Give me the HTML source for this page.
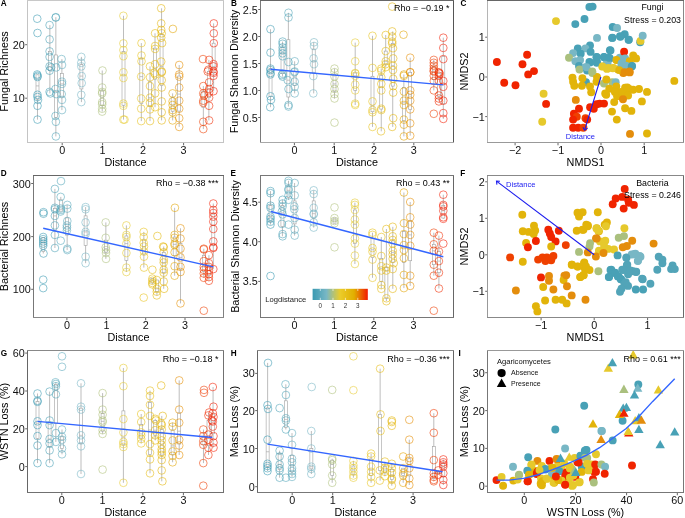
<!DOCTYPE html>
<html><head><meta charset="utf-8"><style>
html,body{margin:0;padding:0;background:#fff;width:685px;height:518px;overflow:hidden}
svg{display:block;font-family:"Liberation Sans", sans-serif;will-change:transform}
</style></head><body>
<svg width="685" height="518" viewBox="0 0 685 518">
<rect width="685" height="518" fill="#fff"/>
<text x="0.70" y="6.40" font-size="8.2" text-anchor="start" font-weight="bold" fill="#000">A</text>
<line x1="62.2" y1="143.0" x2="62.2" y2="145.3" stroke="#555" stroke-width="0.9"/>
<text x="62.20" y="154.10" font-size="10.8" text-anchor="middle" font-weight="normal" fill="#111">0</text>
<line x1="102.6" y1="143.0" x2="102.6" y2="145.3" stroke="#555" stroke-width="0.9"/>
<text x="102.60" y="154.10" font-size="10.8" text-anchor="middle" font-weight="normal" fill="#111">1</text>
<line x1="143.1" y1="143.0" x2="143.1" y2="145.3" stroke="#555" stroke-width="0.9"/>
<text x="143.10" y="154.10" font-size="10.8" text-anchor="middle" font-weight="normal" fill="#111">2</text>
<line x1="183.6" y1="143.0" x2="183.6" y2="145.3" stroke="#555" stroke-width="0.9"/>
<text x="183.60" y="154.10" font-size="10.8" text-anchor="middle" font-weight="normal" fill="#111">3</text>
<line x1="25.2" y1="44.7" x2="27.0" y2="44.7" stroke="#555" stroke-width="0.9"/>
<text x="24.70" y="48.70" font-size="10.8" text-anchor="end" font-weight="normal" fill="#111">20</text>
<line x1="25.2" y1="98.2" x2="27.0" y2="98.2" stroke="#555" stroke-width="0.9"/>
<text x="24.70" y="102.20" font-size="10.8" text-anchor="end" font-weight="normal" fill="#111">10</text>
<text x="125.50" y="165.70" font-size="10.8" text-anchor="middle" font-weight="normal" fill="#000">Distance</text>
<text x="8.10" y="71.50" font-size="10.8" text-anchor="middle" font-weight="normal" fill="#000" transform="rotate(-90 8.10 71.50)">Fungal Richness</text>
<svg x="27.5" y="0.5" width="196.0" height="142.0" viewBox="27.5 0.5 196.0 142.0" overflow="hidden">
<line x1="37.49" y1="74.50" x2="37.49" y2="74.83" stroke="#a0a0a0" stroke-width="0.7"/>
<line x1="37.49" y1="99.18" x2="37.49" y2="119.60" stroke="#a0a0a0" stroke-width="0.7"/>
<rect x="35.99" y="74.83" width="3.00" height="24.35" fill="none" stroke="#a0a0a0" stroke-width="0.6"/>
<line x1="35.99" y1="85.90" x2="38.99" y2="85.90" stroke="#a0a0a0" stroke-width="0.6"/>
<line x1="49.86" y1="25.10" x2="49.86" y2="51.40" stroke="#a0a0a0" stroke-width="0.7"/>
<line x1="49.86" y1="70.70" x2="49.86" y2="93.40" stroke="#a0a0a0" stroke-width="0.7"/>
<rect x="48.36" y="51.40" width="3.00" height="19.30" fill="none" stroke="#a0a0a0" stroke-width="0.6"/>
<line x1="48.36" y1="66.40" x2="51.36" y2="66.40" stroke="#a0a0a0" stroke-width="0.6"/>
<line x1="55.85" y1="17.20" x2="55.85" y2="54.95" stroke="#a0a0a0" stroke-width="0.7"/>
<line x1="55.85" y1="117.45" x2="55.85" y2="136.40" stroke="#a0a0a0" stroke-width="0.7"/>
<rect x="54.35" y="54.95" width="3.00" height="62.50" fill="none" stroke="#a0a0a0" stroke-width="0.6"/>
<line x1="54.35" y1="91.55" x2="57.35" y2="91.55" stroke="#a0a0a0" stroke-width="0.6"/>
<line x1="61.90" y1="59.10" x2="61.90" y2="73.35" stroke="#a0a0a0" stroke-width="0.7"/>
<line x1="61.90" y1="97.00" x2="61.90" y2="110.10" stroke="#a0a0a0" stroke-width="0.7"/>
<rect x="60.40" y="73.35" width="3.00" height="23.65" fill="none" stroke="#a0a0a0" stroke-width="0.6"/>
<line x1="60.40" y1="83.90" x2="63.40" y2="83.90" stroke="#a0a0a0" stroke-width="0.6"/>
<line x1="81.41" y1="56.90" x2="81.41" y2="64.60" stroke="#a0a0a0" stroke-width="0.7"/>
<line x1="81.41" y1="88.95" x2="81.41" y2="102.10" stroke="#a0a0a0" stroke-width="0.7"/>
<rect x="79.91" y="64.60" width="3.00" height="24.35" fill="none" stroke="#a0a0a0" stroke-width="0.6"/>
<line x1="79.91" y1="76.10" x2="82.91" y2="76.10" stroke="#a0a0a0" stroke-width="0.6"/>
<line x1="102.24" y1="70.50" x2="102.24" y2="90.80" stroke="#a0a0a0" stroke-width="0.7"/>
<line x1="102.24" y1="105.40" x2="102.24" y2="111.60" stroke="#a0a0a0" stroke-width="0.7"/>
<rect x="100.74" y="90.80" width="3.00" height="14.60" fill="none" stroke="#a0a0a0" stroke-width="0.6"/>
<line x1="100.74" y1="97.75" x2="103.74" y2="97.75" stroke="#a0a0a0" stroke-width="0.6"/>
<line x1="123.51" y1="15.80" x2="123.51" y2="51.62" stroke="#a0a0a0" stroke-width="0.7"/>
<line x1="123.51" y1="105.25" x2="123.51" y2="119.60" stroke="#a0a0a0" stroke-width="0.7"/>
<rect x="122.01" y="51.62" width="3.00" height="53.62" fill="none" stroke="#a0a0a0" stroke-width="0.6"/>
<line x1="122.01" y1="75.15" x2="125.01" y2="75.15" stroke="#a0a0a0" stroke-width="0.6"/>
<line x1="141.33" y1="43.10" x2="141.33" y2="58.40" stroke="#a0a0a0" stroke-width="0.7"/>
<line x1="141.33" y1="103.60" x2="141.33" y2="121.10" stroke="#a0a0a0" stroke-width="0.7"/>
<rect x="139.83" y="58.40" width="3.00" height="45.20" fill="none" stroke="#a0a0a0" stroke-width="0.6"/>
<line x1="139.83" y1="76.60" x2="142.83" y2="76.60" stroke="#a0a0a0" stroke-width="0.6"/>
<line x1="150.00" y1="66.40" x2="150.00" y2="81.70" stroke="#a0a0a0" stroke-width="0.7"/>
<line x1="150.00" y1="106.10" x2="150.00" y2="121.10" stroke="#a0a0a0" stroke-width="0.7"/>
<rect x="148.50" y="81.70" width="3.00" height="24.40" fill="none" stroke="#a0a0a0" stroke-width="0.6"/>
<line x1="148.50" y1="97.70" x2="151.50" y2="97.70" stroke="#a0a0a0" stroke-width="0.6"/>
<line x1="155.01" y1="33.30" x2="155.01" y2="48.17" stroke="#a0a0a0" stroke-width="0.7"/>
<line x1="155.01" y1="79.15" x2="155.01" y2="107.20" stroke="#a0a0a0" stroke-width="0.7"/>
<rect x="153.51" y="48.17" width="3.00" height="30.98" fill="none" stroke="#a0a0a0" stroke-width="0.6"/>
<line x1="153.51" y1="68.60" x2="156.51" y2="68.60" stroke="#a0a0a0" stroke-width="0.6"/>
<line x1="161.55" y1="8.30" x2="161.55" y2="34.40" stroke="#a0a0a0" stroke-width="0.7"/>
<line x1="161.55" y1="85.67" x2="161.55" y2="120.40" stroke="#a0a0a0" stroke-width="0.7"/>
<rect x="160.05" y="34.40" width="3.00" height="51.27" fill="none" stroke="#a0a0a0" stroke-width="0.6"/>
<line x1="160.05" y1="66.55" x2="163.05" y2="66.55" stroke="#a0a0a0" stroke-width="0.6"/>
<line x1="172.64" y1="93.40" x2="172.64" y2="97.40" stroke="#a0a0a0" stroke-width="0.7"/>
<line x1="172.64" y1="111.20" x2="172.64" y2="120.40" stroke="#a0a0a0" stroke-width="0.7"/>
<rect x="171.14" y="97.40" width="3.00" height="13.80" fill="none" stroke="#a0a0a0" stroke-width="0.6"/>
<line x1="171.14" y1="105.00" x2="174.14" y2="105.00" stroke="#a0a0a0" stroke-width="0.6"/>
<line x1="179.20" y1="65.00" x2="179.20" y2="76.07" stroke="#a0a0a0" stroke-width="0.7"/>
<line x1="179.20" y1="111.08" x2="179.20" y2="126.90" stroke="#a0a0a0" stroke-width="0.7"/>
<rect x="177.70" y="76.07" width="3.00" height="35.00" fill="none" stroke="#a0a0a0" stroke-width="0.6"/>
<line x1="177.70" y1="94.10" x2="180.70" y2="94.10" stroke="#a0a0a0" stroke-width="0.6"/>
<line x1="203.35" y1="86.10" x2="203.35" y2="91.58" stroke="#a0a0a0" stroke-width="0.7"/>
<line x1="203.35" y1="107.55" x2="203.35" y2="129.10" stroke="#a0a0a0" stroke-width="0.7"/>
<rect x="201.85" y="91.58" width="3.00" height="15.97" fill="none" stroke="#a0a0a0" stroke-width="0.6"/>
<line x1="201.85" y1="98.10" x2="204.85" y2="98.10" stroke="#a0a0a0" stroke-width="0.6"/>
<line x1="208.87" y1="59.90" x2="208.87" y2="71.50" stroke="#a0a0a0" stroke-width="0.7"/>
<line x1="208.87" y1="97.70" x2="208.87" y2="120.40" stroke="#a0a0a0" stroke-width="0.7"/>
<rect x="207.37" y="71.50" width="3.00" height="26.20" fill="none" stroke="#a0a0a0" stroke-width="0.6"/>
<line x1="207.37" y1="89.00" x2="210.37" y2="89.00" stroke="#a0a0a0" stroke-width="0.6"/>
<line x1="213.60" y1="23.40" x2="213.60" y2="43.20" stroke="#a0a0a0" stroke-width="0.7"/>
<line x1="213.60" y1="72.90" x2="213.60" y2="91.20" stroke="#a0a0a0" stroke-width="0.7"/>
<rect x="212.10" y="43.20" width="3.00" height="29.70" fill="none" stroke="#a0a0a0" stroke-width="0.6"/>
<line x1="212.10" y1="66.40" x2="215.10" y2="66.40" stroke="#a0a0a0" stroke-width="0.6"/>
<circle cx="37.20" cy="18.70" r="3.85" fill="none" stroke="#3b9ab2" stroke-width="0.58"/>
<circle cx="37.50" cy="33.00" r="3.85" fill="none" stroke="#3b9ab2" stroke-width="0.58"/>
<circle cx="49.60" cy="25.10" r="3.85" fill="none" stroke="#4ca2b7" stroke-width="0.58"/>
<circle cx="49.60" cy="39.40" r="3.85" fill="none" stroke="#4ca2b7" stroke-width="0.58"/>
<circle cx="49.60" cy="51.40" r="3.85" fill="none" stroke="#4ca2b7" stroke-width="0.58"/>
<circle cx="49.60" cy="56.90" r="3.85" fill="none" stroke="#4ca2b7" stroke-width="0.58"/>
<circle cx="49.60" cy="66.40" r="3.85" fill="none" stroke="#4ca2b7" stroke-width="0.58"/>
<circle cx="51.10" cy="67.40" r="3.85" fill="none" stroke="#4ea3b8" stroke-width="0.58"/>
<circle cx="55.80" cy="17.20" r="3.85" fill="none" stroke="#54a6ba" stroke-width="0.58"/>
<circle cx="55.80" cy="17.60" r="3.85" fill="none" stroke="#54a6ba" stroke-width="0.58"/>
<circle cx="61.60" cy="59.10" r="3.85" fill="none" stroke="#5caabc" stroke-width="0.58"/>
<circle cx="62.00" cy="65.00" r="3.85" fill="none" stroke="#5daabd" stroke-width="0.58"/>
<circle cx="56.20" cy="67.40" r="3.85" fill="none" stroke="#55a6ba" stroke-width="0.58"/>
<circle cx="81.30" cy="56.90" r="3.85" fill="none" stroke="#78b7c5" stroke-width="0.58"/>
<circle cx="81.30" cy="62.80" r="3.85" fill="none" stroke="#78b7c5" stroke-width="0.58"/>
<circle cx="81.30" cy="66.40" r="3.85" fill="none" stroke="#78b7c5" stroke-width="0.58"/>
<circle cx="102.50" cy="70.50" r="3.85" fill="none" stroke="#aec17c" stroke-width="0.58"/>
<circle cx="123.40" cy="15.80" r="3.85" fill="none" stroke="#e5cb32" stroke-width="0.58"/>
<circle cx="123.40" cy="43.40" r="3.85" fill="none" stroke="#e5cb32" stroke-width="0.58"/>
<circle cx="123.40" cy="50.10" r="3.85" fill="none" stroke="#e5cb32" stroke-width="0.58"/>
<circle cx="123.40" cy="56.20" r="3.85" fill="none" stroke="#e5cb32" stroke-width="0.58"/>
<circle cx="123.40" cy="72.30" r="3.85" fill="none" stroke="#e5cb32" stroke-width="0.58"/>
<circle cx="37.20" cy="74.50" r="3.85" fill="none" stroke="#3b9ab2" stroke-width="0.58"/>
<circle cx="161.20" cy="8.30" r="3.85" fill="none" stroke="#e3b508" stroke-width="0.58"/>
<circle cx="161.20" cy="23.40" r="3.85" fill="none" stroke="#e3b508" stroke-width="0.58"/>
<circle cx="161.20" cy="29.90" r="3.85" fill="none" stroke="#e3b508" stroke-width="0.58"/>
<circle cx="161.70" cy="33.30" r="3.85" fill="none" stroke="#e3b408" stroke-width="0.58"/>
<circle cx="161.20" cy="37.70" r="3.85" fill="none" stroke="#e3b508" stroke-width="0.58"/>
<circle cx="162.10" cy="43.10" r="3.85" fill="none" stroke="#e3b407" stroke-width="0.58"/>
<circle cx="161.20" cy="61.60" r="3.85" fill="none" stroke="#e3b508" stroke-width="0.58"/>
<circle cx="161.70" cy="71.50" r="3.85" fill="none" stroke="#e3b408" stroke-width="0.58"/>
<circle cx="172.90" cy="28.90" r="3.85" fill="none" stroke="#e2a500" stroke-width="0.58"/>
<circle cx="155.10" cy="33.30" r="3.85" fill="none" stroke="#e4b90e" stroke-width="0.58"/>
<circle cx="155.10" cy="46.00" r="3.85" fill="none" stroke="#e4b90e" stroke-width="0.58"/>
<circle cx="155.10" cy="48.90" r="3.85" fill="none" stroke="#e4b90e" stroke-width="0.58"/>
<circle cx="155.10" cy="64.20" r="3.85" fill="none" stroke="#e4b90e" stroke-width="0.58"/>
<circle cx="150.00" cy="66.40" r="3.85" fill="none" stroke="#e5bc13" stroke-width="0.58"/>
<circle cx="154.40" cy="73.00" r="3.85" fill="none" stroke="#e5b90f" stroke-width="0.58"/>
<circle cx="141.50" cy="43.10" r="3.85" fill="none" stroke="#e7c21b" stroke-width="0.58"/>
<circle cx="141.50" cy="55.50" r="3.85" fill="none" stroke="#e7c21b" stroke-width="0.58"/>
<circle cx="141.50" cy="61.30" r="3.85" fill="none" stroke="#e7c21b" stroke-width="0.58"/>
<circle cx="179.20" cy="65.00" r="3.85" fill="none" stroke="#e58f00" stroke-width="0.58"/>
<circle cx="179.20" cy="74.50" r="3.85" fill="none" stroke="#e58f00" stroke-width="0.58"/>
<circle cx="213.80" cy="23.40" r="3.85" fill="none" stroke="#f21b00" stroke-width="0.58"/>
<circle cx="213.80" cy="33.30" r="3.85" fill="none" stroke="#f21b00" stroke-width="0.58"/>
<circle cx="213.80" cy="43.20" r="3.85" fill="none" stroke="#f21b00" stroke-width="0.58"/>
<circle cx="203.00" cy="59.10" r="3.85" fill="none" stroke="#ee3f00" stroke-width="0.58"/>
<circle cx="209.10" cy="59.90" r="3.85" fill="none" stroke="#f02a00" stroke-width="0.58"/>
<circle cx="213.50" cy="64.20" r="3.85" fill="none" stroke="#f21c00" stroke-width="0.58"/>
<circle cx="213.50" cy="66.40" r="3.85" fill="none" stroke="#f21c00" stroke-width="0.58"/>
<circle cx="208.40" cy="69.80" r="3.85" fill="none" stroke="#f02d00" stroke-width="0.58"/>
<circle cx="213.50" cy="71.50" r="3.85" fill="none" stroke="#f21c00" stroke-width="0.58"/>
<circle cx="37.50" cy="75.80" r="3.85" fill="none" stroke="#3b9ab2" stroke-width="0.58"/>
<circle cx="37.50" cy="77.00" r="3.85" fill="none" stroke="#3b9ab2" stroke-width="0.58"/>
<circle cx="37.50" cy="94.80" r="3.85" fill="none" stroke="#3b9ab2" stroke-width="0.58"/>
<circle cx="37.50" cy="97.00" r="3.85" fill="none" stroke="#3b9ab2" stroke-width="0.58"/>
<circle cx="38.00" cy="99.90" r="3.85" fill="none" stroke="#3c9ab2" stroke-width="0.58"/>
<circle cx="37.50" cy="105.80" r="3.85" fill="none" stroke="#3b9ab2" stroke-width="0.58"/>
<circle cx="37.50" cy="119.60" r="3.85" fill="none" stroke="#3b9ab2" stroke-width="0.58"/>
<circle cx="49.60" cy="91.90" r="3.85" fill="none" stroke="#4ca2b7" stroke-width="0.58"/>
<circle cx="50.40" cy="93.40" r="3.85" fill="none" stroke="#4da2b8" stroke-width="0.58"/>
<circle cx="55.50" cy="89.00" r="3.85" fill="none" stroke="#54a6ba" stroke-width="0.58"/>
<circle cx="56.20" cy="94.10" r="3.85" fill="none" stroke="#55a6ba" stroke-width="0.58"/>
<circle cx="55.50" cy="116.00" r="3.85" fill="none" stroke="#54a6ba" stroke-width="0.58"/>
<circle cx="55.90" cy="121.80" r="3.85" fill="none" stroke="#54a6ba" stroke-width="0.58"/>
<circle cx="55.90" cy="136.40" r="3.85" fill="none" stroke="#54a6ba" stroke-width="0.58"/>
<circle cx="62.00" cy="81.70" r="3.85" fill="none" stroke="#5daabd" stroke-width="0.58"/>
<circle cx="62.00" cy="83.90" r="3.85" fill="none" stroke="#5daabd" stroke-width="0.58"/>
<circle cx="61.70" cy="94.10" r="3.85" fill="none" stroke="#5caabc" stroke-width="0.58"/>
<circle cx="62.00" cy="99.90" r="3.85" fill="none" stroke="#5daabd" stroke-width="0.58"/>
<circle cx="62.00" cy="110.10" r="3.85" fill="none" stroke="#5daabd" stroke-width="0.58"/>
<circle cx="81.70" cy="76.10" r="3.85" fill="none" stroke="#78b7c5" stroke-width="0.58"/>
<circle cx="81.70" cy="83.10" r="3.85" fill="none" stroke="#78b7c5" stroke-width="0.58"/>
<circle cx="81.30" cy="94.80" r="3.85" fill="none" stroke="#78b7c5" stroke-width="0.58"/>
<circle cx="81.30" cy="102.10" r="3.85" fill="none" stroke="#78b7c5" stroke-width="0.58"/>
<circle cx="102.20" cy="87.50" r="3.85" fill="none" stroke="#aec17d" stroke-width="0.58"/>
<circle cx="102.20" cy="91.90" r="3.85" fill="none" stroke="#aec17d" stroke-width="0.58"/>
<circle cx="102.20" cy="93.40" r="3.85" fill="none" stroke="#aec17d" stroke-width="0.58"/>
<circle cx="102.20" cy="102.10" r="3.85" fill="none" stroke="#aec17d" stroke-width="0.58"/>
<circle cx="102.20" cy="104.30" r="3.85" fill="none" stroke="#aec17d" stroke-width="0.58"/>
<circle cx="102.20" cy="108.70" r="3.85" fill="none" stroke="#aec17d" stroke-width="0.58"/>
<circle cx="102.20" cy="111.60" r="3.85" fill="none" stroke="#aec17d" stroke-width="0.58"/>
<circle cx="123.40" cy="78.00" r="3.85" fill="none" stroke="#e5cb32" stroke-width="0.58"/>
<circle cx="123.40" cy="103.60" r="3.85" fill="none" stroke="#e5cb32" stroke-width="0.58"/>
<circle cx="123.40" cy="105.80" r="3.85" fill="none" stroke="#e5cb32" stroke-width="0.58"/>
<circle cx="123.40" cy="119.60" r="3.85" fill="none" stroke="#e5cb32" stroke-width="0.58"/>
<circle cx="49.60" cy="70.70" r="3.85" fill="none" stroke="#4ca2b7" stroke-width="0.58"/>
<circle cx="141.20" cy="76.60" r="3.85" fill="none" stroke="#e7c21b" stroke-width="0.58"/>
<circle cx="141.20" cy="98.50" r="3.85" fill="none" stroke="#e7c21b" stroke-width="0.58"/>
<circle cx="141.20" cy="108.70" r="3.85" fill="none" stroke="#e7c21b" stroke-width="0.58"/>
<circle cx="141.20" cy="121.10" r="3.85" fill="none" stroke="#e7c21b" stroke-width="0.58"/>
<circle cx="150.00" cy="77.30" r="3.85" fill="none" stroke="#e5bc13" stroke-width="0.58"/>
<circle cx="150.00" cy="86.10" r="3.85" fill="none" stroke="#e5bc13" stroke-width="0.58"/>
<circle cx="150.00" cy="97.70" r="3.85" fill="none" stroke="#e5bc13" stroke-width="0.58"/>
<circle cx="150.00" cy="102.80" r="3.85" fill="none" stroke="#e5bc13" stroke-width="0.58"/>
<circle cx="150.00" cy="109.40" r="3.85" fill="none" stroke="#e5bc13" stroke-width="0.58"/>
<circle cx="150.00" cy="121.10" r="3.85" fill="none" stroke="#e5bc13" stroke-width="0.58"/>
<circle cx="155.10" cy="74.40" r="3.85" fill="none" stroke="#e4b90e" stroke-width="0.58"/>
<circle cx="155.10" cy="93.40" r="3.85" fill="none" stroke="#e4b90e" stroke-width="0.58"/>
<circle cx="155.10" cy="107.20" r="3.85" fill="none" stroke="#e4b90e" stroke-width="0.58"/>
<circle cx="161.70" cy="72.20" r="3.85" fill="none" stroke="#e3b408" stroke-width="0.58"/>
<circle cx="161.70" cy="80.20" r="3.85" fill="none" stroke="#e3b408" stroke-width="0.58"/>
<circle cx="161.70" cy="87.50" r="3.85" fill="none" stroke="#e3b408" stroke-width="0.58"/>
<circle cx="161.70" cy="101.40" r="3.85" fill="none" stroke="#e3b408" stroke-width="0.58"/>
<circle cx="161.70" cy="112.30" r="3.85" fill="none" stroke="#e3b408" stroke-width="0.58"/>
<circle cx="161.70" cy="120.40" r="3.85" fill="none" stroke="#e3b408" stroke-width="0.58"/>
<circle cx="172.60" cy="93.40" r="3.85" fill="none" stroke="#e2a600" stroke-width="0.58"/>
<circle cx="172.60" cy="101.40" r="3.85" fill="none" stroke="#e2a600" stroke-width="0.58"/>
<circle cx="172.60" cy="105.00" r="3.85" fill="none" stroke="#e2a600" stroke-width="0.58"/>
<circle cx="172.60" cy="110.10" r="3.85" fill="none" stroke="#e2a600" stroke-width="0.58"/>
<circle cx="172.60" cy="112.30" r="3.85" fill="none" stroke="#e2a600" stroke-width="0.58"/>
<circle cx="172.60" cy="120.40" r="3.85" fill="none" stroke="#e2a600" stroke-width="0.58"/>
<circle cx="179.20" cy="76.60" r="3.85" fill="none" stroke="#e58f00" stroke-width="0.58"/>
<circle cx="179.20" cy="87.50" r="3.85" fill="none" stroke="#e58f00" stroke-width="0.58"/>
<circle cx="179.20" cy="100.70" r="3.85" fill="none" stroke="#e58f00" stroke-width="0.58"/>
<circle cx="179.20" cy="108.70" r="3.85" fill="none" stroke="#e58f00" stroke-width="0.58"/>
<circle cx="179.20" cy="118.20" r="3.85" fill="none" stroke="#e58f00" stroke-width="0.58"/>
<circle cx="179.20" cy="126.90" r="3.85" fill="none" stroke="#e58f00" stroke-width="0.58"/>
<circle cx="124.50" cy="119.60" r="3.85" fill="none" stroke="#e8cb2e" stroke-width="0.58"/>
<circle cx="203.30" cy="86.10" r="3.85" fill="none" stroke="#ee3e00" stroke-width="0.58"/>
<circle cx="203.30" cy="93.40" r="3.85" fill="none" stroke="#ee3e00" stroke-width="0.58"/>
<circle cx="204.00" cy="95.50" r="3.85" fill="none" stroke="#ee3c00" stroke-width="0.58"/>
<circle cx="203.30" cy="100.70" r="3.85" fill="none" stroke="#ee3e00" stroke-width="0.58"/>
<circle cx="203.30" cy="102.80" r="3.85" fill="none" stroke="#ee3e00" stroke-width="0.58"/>
<circle cx="203.30" cy="121.80" r="3.85" fill="none" stroke="#ee3e00" stroke-width="0.58"/>
<circle cx="203.30" cy="129.10" r="3.85" fill="none" stroke="#ee3e00" stroke-width="0.58"/>
<circle cx="209.10" cy="82.40" r="3.85" fill="none" stroke="#f02a00" stroke-width="0.58"/>
<circle cx="209.10" cy="89.00" r="3.85" fill="none" stroke="#f02a00" stroke-width="0.58"/>
<circle cx="209.10" cy="92.60" r="3.85" fill="none" stroke="#f02a00" stroke-width="0.58"/>
<circle cx="209.10" cy="97.70" r="3.85" fill="none" stroke="#f02a00" stroke-width="0.58"/>
<circle cx="209.10" cy="105.80" r="3.85" fill="none" stroke="#f02a00" stroke-width="0.58"/>
<circle cx="209.10" cy="120.40" r="3.85" fill="none" stroke="#f02a00" stroke-width="0.58"/>
<circle cx="213.50" cy="72.90" r="3.85" fill="none" stroke="#f21c00" stroke-width="0.58"/>
<circle cx="213.50" cy="75.80" r="3.85" fill="none" stroke="#f21c00" stroke-width="0.58"/>
<circle cx="213.50" cy="91.20" r="3.85" fill="none" stroke="#f21c00" stroke-width="0.58"/>
<circle cx="207.70" cy="71.50" r="3.85" fill="none" stroke="#f02f00" stroke-width="0.58"/>

</svg>
<line x1="27.5" y1="0.0" x2="27.5" y2="143.0" stroke="#c4c4c4" stroke-width="1"/>
<line x1="223.5" y1="0.0" x2="223.5" y2="143.0" stroke="#c4c4c4" stroke-width="1"/>
<line x1="27.0" y1="0.5" x2="224.0" y2="0.5" stroke="#c8c8c8" stroke-width="1"/>
<line x1="27.0" y1="142.5" x2="224.0" y2="142.5" stroke="#c4c4c4" stroke-width="1"/>
<text x="230.90" y="6.40" font-size="8.2" text-anchor="start" font-weight="bold" fill="#000">B</text>
<line x1="294.4" y1="143.0" x2="294.4" y2="145.3" stroke="#555" stroke-width="0.9"/>
<text x="294.40" y="154.10" font-size="10.8" text-anchor="middle" font-weight="normal" fill="#111">0</text>
<line x1="334.2" y1="143.0" x2="334.2" y2="145.3" stroke="#555" stroke-width="0.9"/>
<text x="334.20" y="154.10" font-size="10.8" text-anchor="middle" font-weight="normal" fill="#111">1</text>
<line x1="374" y1="143.0" x2="374" y2="145.3" stroke="#555" stroke-width="0.9"/>
<text x="374.00" y="154.10" font-size="10.8" text-anchor="middle" font-weight="normal" fill="#111">2</text>
<line x1="413.8" y1="143.0" x2="413.8" y2="145.3" stroke="#555" stroke-width="0.9"/>
<text x="413.80" y="154.10" font-size="10.8" text-anchor="middle" font-weight="normal" fill="#111">3</text>
<line x1="258.2" y1="9.5" x2="260.0" y2="9.5" stroke="#555" stroke-width="0.9"/>
<text x="257.70" y="13.50" font-size="10.8" text-anchor="end" font-weight="normal" fill="#111">2.5</text>
<line x1="258.2" y1="36.5" x2="260.0" y2="36.5" stroke="#555" stroke-width="0.9"/>
<text x="257.70" y="40.50" font-size="10.8" text-anchor="end" font-weight="normal" fill="#111">2.0</text>
<line x1="258.2" y1="63.5" x2="260.0" y2="63.5" stroke="#555" stroke-width="0.9"/>
<text x="257.70" y="67.50" font-size="10.8" text-anchor="end" font-weight="normal" fill="#111">1.5</text>
<line x1="258.2" y1="90.5" x2="260.0" y2="90.5" stroke="#555" stroke-width="0.9"/>
<text x="257.70" y="94.50" font-size="10.8" text-anchor="end" font-weight="normal" fill="#111">1.0</text>
<line x1="258.2" y1="117.5" x2="260.0" y2="117.5" stroke="#555" stroke-width="0.9"/>
<text x="257.70" y="121.50" font-size="10.8" text-anchor="end" font-weight="normal" fill="#111">0.5</text>
<text x="357.00" y="165.70" font-size="10.8" text-anchor="middle" font-weight="normal" fill="#000">Distance</text>
<text x="238.00" y="71.50" font-size="10.8" text-anchor="middle" font-weight="normal" fill="#000" transform="rotate(-90 238.00 71.50)">Fungal Shannon Diversity</text>
<svg x="260.5" y="0.5" width="193.0" height="142.0" viewBox="260.5 0.5 193.0 142.0" overflow="hidden">
<line x1="270.52" y1="29.20" x2="270.52" y2="68.60" stroke="#a0a0a0" stroke-width="0.7"/>
<line x1="270.52" y1="96.30" x2="270.52" y2="107.20" stroke="#a0a0a0" stroke-width="0.7"/>
<rect x="269.02" y="68.60" width="3.00" height="27.70" fill="none" stroke="#a0a0a0" stroke-width="0.6"/>
<line x1="269.02" y1="73.00" x2="272.02" y2="73.00" stroke="#a0a0a0" stroke-width="0.6"/>
<line x1="282.52" y1="41.60" x2="282.52" y2="47.40" stroke="#a0a0a0" stroke-width="0.7"/>
<line x1="282.52" y1="73.70" x2="282.52" y2="76.60" stroke="#a0a0a0" stroke-width="0.7"/>
<rect x="281.02" y="47.40" width="3.00" height="26.30" fill="none" stroke="#a0a0a0" stroke-width="0.6"/>
<line x1="281.02" y1="53.30" x2="284.02" y2="53.30" stroke="#a0a0a0" stroke-width="0.6"/>
<line x1="288.39" y1="12.80" x2="288.39" y2="39.75" stroke="#a0a0a0" stroke-width="0.7"/>
<line x1="288.39" y1="97.00" x2="288.39" y2="106.50" stroke="#a0a0a0" stroke-width="0.7"/>
<rect x="286.89" y="39.75" width="3.00" height="57.25" fill="none" stroke="#a0a0a0" stroke-width="0.6"/>
<line x1="286.89" y1="80.20" x2="289.89" y2="80.20" stroke="#a0a0a0" stroke-width="0.6"/>
<line x1="294.63" y1="61.30" x2="294.63" y2="71.67" stroke="#a0a0a0" stroke-width="0.7"/>
<line x1="294.63" y1="85.53" x2="294.63" y2="93.40" stroke="#a0a0a0" stroke-width="0.7"/>
<rect x="293.13" y="71.67" width="3.00" height="13.85" fill="none" stroke="#a0a0a0" stroke-width="0.6"/>
<line x1="293.13" y1="76.95" x2="296.13" y2="76.95" stroke="#a0a0a0" stroke-width="0.6"/>
<line x1="313.70" y1="42.30" x2="313.70" y2="49.10" stroke="#a0a0a0" stroke-width="0.7"/>
<line x1="313.70" y1="73.12" x2="313.70" y2="93.40" stroke="#a0a0a0" stroke-width="0.7"/>
<rect x="312.20" y="49.10" width="3.00" height="24.02" fill="none" stroke="#a0a0a0" stroke-width="0.6"/>
<line x1="312.20" y1="61.30" x2="315.20" y2="61.30" stroke="#a0a0a0" stroke-width="0.6"/>
<line x1="334.50" y1="68.60" x2="334.50" y2="74.40" stroke="#a0a0a0" stroke-width="0.7"/>
<line x1="334.50" y1="91.55" x2="334.50" y2="98.50" stroke="#a0a0a0" stroke-width="0.7"/>
<rect x="333.00" y="74.40" width="3.00" height="17.15" fill="none" stroke="#a0a0a0" stroke-width="0.6"/>
<line x1="333.00" y1="83.90" x2="336.00" y2="83.90" stroke="#a0a0a0" stroke-width="0.6"/>
<line x1="355.20" y1="42.60" x2="355.20" y2="73.00" stroke="#a0a0a0" stroke-width="0.7"/>
<line x1="355.20" y1="90.40" x2="355.20" y2="105.00" stroke="#a0a0a0" stroke-width="0.7"/>
<rect x="353.70" y="73.00" width="3.00" height="17.40" fill="none" stroke="#a0a0a0" stroke-width="0.6"/>
<line x1="353.70" y1="75.80" x2="356.70" y2="75.80" stroke="#a0a0a0" stroke-width="0.6"/>
<line x1="372.50" y1="35.80" x2="372.50" y2="76.28" stroke="#a0a0a0" stroke-width="0.7"/>
<line x1="372.50" y1="111.75" x2="372.50" y2="126.90" stroke="#a0a0a0" stroke-width="0.7"/>
<rect x="371.00" y="76.28" width="3.00" height="35.47" fill="none" stroke="#a0a0a0" stroke-width="0.6"/>
<line x1="371.00" y1="105.75" x2="374.00" y2="105.75" stroke="#a0a0a0" stroke-width="0.6"/>
<line x1="381.26" y1="68.60" x2="381.26" y2="75.65" stroke="#a0a0a0" stroke-width="0.7"/>
<line x1="381.26" y1="109.05" x2="381.26" y2="131.30" stroke="#a0a0a0" stroke-width="0.7"/>
<rect x="379.76" y="75.65" width="3.00" height="33.40" fill="none" stroke="#a0a0a0" stroke-width="0.6"/>
<line x1="379.76" y1="87.15" x2="382.76" y2="87.15" stroke="#a0a0a0" stroke-width="0.6"/>
<line x1="385.70" y1="35.00" x2="385.70" y2="51.10" stroke="#a0a0a0" stroke-width="0.7"/>
<line x1="385.70" y1="64.20" x2="385.70" y2="67.20" stroke="#a0a0a0" stroke-width="0.7"/>
<rect x="384.20" y="51.10" width="3.00" height="13.10" fill="none" stroke="#a0a0a0" stroke-width="0.6"/>
<line x1="384.20" y1="61.30" x2="387.20" y2="61.30" stroke="#a0a0a0" stroke-width="0.6"/>
<line x1="392.73" y1="31.40" x2="392.73" y2="43.50" stroke="#a0a0a0" stroke-width="0.7"/>
<line x1="392.73" y1="86.10" x2="392.73" y2="126.90" stroke="#a0a0a0" stroke-width="0.7"/>
<rect x="391.23" y="43.50" width="3.00" height="42.60" fill="none" stroke="#a0a0a0" stroke-width="0.6"/>
<line x1="391.23" y1="65.70" x2="394.23" y2="65.70" stroke="#a0a0a0" stroke-width="0.6"/>
<line x1="403.86" y1="74.50" x2="403.86" y2="87.65" stroke="#a0a0a0" stroke-width="0.7"/>
<line x1="403.86" y1="120.88" x2="403.86" y2="136.40" stroke="#a0a0a0" stroke-width="0.7"/>
<rect x="402.36" y="87.65" width="3.00" height="33.23" fill="none" stroke="#a0a0a0" stroke-width="0.6"/>
<line x1="402.36" y1="102.85" x2="405.36" y2="102.85" stroke="#a0a0a0" stroke-width="0.6"/>
<line x1="410.20" y1="57.70" x2="410.20" y2="72.30" stroke="#a0a0a0" stroke-width="0.7"/>
<line x1="410.20" y1="109.40" x2="410.20" y2="135.70" stroke="#a0a0a0" stroke-width="0.7"/>
<rect x="408.70" y="72.30" width="3.00" height="37.10" fill="none" stroke="#a0a0a0" stroke-width="0.6"/>
<line x1="408.70" y1="94.80" x2="411.70" y2="94.80" stroke="#a0a0a0" stroke-width="0.6"/>
<line x1="433.80" y1="59.90" x2="433.80" y2="66.42" stroke="#a0a0a0" stroke-width="0.7"/>
<line x1="433.80" y1="79.70" x2="433.80" y2="90.40" stroke="#a0a0a0" stroke-width="0.7"/>
<rect x="432.30" y="66.42" width="3.00" height="13.28" fill="none" stroke="#a0a0a0" stroke-width="0.6"/>
<line x1="432.30" y1="71.10" x2="435.30" y2="71.10" stroke="#a0a0a0" stroke-width="0.6"/>
<line x1="439.00" y1="72.30" x2="439.00" y2="73.50" stroke="#a0a0a0" stroke-width="0.7"/>
<line x1="439.00" y1="96.25" x2="439.00" y2="101.40" stroke="#a0a0a0" stroke-width="0.7"/>
<rect x="437.50" y="73.50" width="3.00" height="22.75" fill="none" stroke="#a0a0a0" stroke-width="0.6"/>
<line x1="437.50" y1="78.40" x2="440.50" y2="78.40" stroke="#a0a0a0" stroke-width="0.6"/>
<line x1="443.30" y1="37.70" x2="443.30" y2="56.30" stroke="#a0a0a0" stroke-width="0.7"/>
<line x1="443.30" y1="103.80" x2="443.30" y2="118.90" stroke="#a0a0a0" stroke-width="0.7"/>
<rect x="441.80" y="56.30" width="3.00" height="47.50" fill="none" stroke="#a0a0a0" stroke-width="0.6"/>
<line x1="441.80" y1="83.90" x2="444.80" y2="83.90" stroke="#a0a0a0" stroke-width="0.6"/>
<circle cx="270.50" cy="29.20" r="3.85" fill="none" stroke="#3c9ab2" stroke-width="0.58"/>
<circle cx="270.50" cy="52.60" r="3.85" fill="none" stroke="#3c9ab2" stroke-width="0.58"/>
<circle cx="270.50" cy="68.60" r="3.85" fill="none" stroke="#3c9ab2" stroke-width="0.58"/>
<circle cx="270.50" cy="70.10" r="3.85" fill="none" stroke="#3c9ab2" stroke-width="0.58"/>
<circle cx="270.50" cy="73.00" r="3.85" fill="none" stroke="#3c9ab2" stroke-width="0.58"/>
<circle cx="282.60" cy="41.60" r="3.85" fill="none" stroke="#4da2b7" stroke-width="0.58"/>
<circle cx="282.60" cy="43.80" r="3.85" fill="none" stroke="#4da2b7" stroke-width="0.58"/>
<circle cx="282.60" cy="47.40" r="3.85" fill="none" stroke="#4da2b7" stroke-width="0.58"/>
<circle cx="282.60" cy="50.40" r="3.85" fill="none" stroke="#4da2b7" stroke-width="0.58"/>
<circle cx="282.60" cy="53.30" r="3.85" fill="none" stroke="#4da2b7" stroke-width="0.58"/>
<circle cx="282.60" cy="56.20" r="3.85" fill="none" stroke="#4da2b7" stroke-width="0.58"/>
<circle cx="282.60" cy="73.70" r="3.85" fill="none" stroke="#4da2b7" stroke-width="0.58"/>
<circle cx="288.50" cy="12.80" r="3.85" fill="none" stroke="#55a6ba" stroke-width="0.58"/>
<circle cx="288.50" cy="17.50" r="3.85" fill="none" stroke="#55a6ba" stroke-width="0.58"/>
<circle cx="288.50" cy="62.00" r="3.85" fill="none" stroke="#55a6ba" stroke-width="0.58"/>
<circle cx="294.70" cy="61.30" r="3.85" fill="none" stroke="#5eaabd" stroke-width="0.58"/>
<circle cx="294.70" cy="71.50" r="3.85" fill="none" stroke="#5eaabd" stroke-width="0.58"/>
<circle cx="314.00" cy="42.30" r="3.85" fill="none" stroke="#79b7c3" stroke-width="0.58"/>
<circle cx="314.00" cy="46.00" r="3.85" fill="none" stroke="#79b7c3" stroke-width="0.58"/>
<circle cx="313.60" cy="58.40" r="3.85" fill="none" stroke="#78b7c5" stroke-width="0.58"/>
<circle cx="314.00" cy="64.20" r="3.85" fill="none" stroke="#79b7c3" stroke-width="0.58"/>
<circle cx="334.50" cy="68.60" r="3.85" fill="none" stroke="#b0c17a" stroke-width="0.58"/>
<circle cx="355.20" cy="42.60" r="3.85" fill="none" stroke="#e7cb30" stroke-width="0.58"/>
<circle cx="355.20" cy="61.30" r="3.85" fill="none" stroke="#e7cb30" stroke-width="0.58"/>
<circle cx="355.20" cy="73.00" r="3.85" fill="none" stroke="#e7cb30" stroke-width="0.58"/>
<circle cx="392.20" cy="6.60" r="3.85" fill="none" stroke="#e3b408" stroke-width="0.58"/>
<circle cx="372.50" cy="35.80" r="3.85" fill="none" stroke="#e7c21b" stroke-width="0.58"/>
<circle cx="372.50" cy="67.90" r="3.85" fill="none" stroke="#e7c21b" stroke-width="0.58"/>
<circle cx="385.70" cy="35.00" r="3.85" fill="none" stroke="#e4b90e" stroke-width="0.58"/>
<circle cx="392.20" cy="31.40" r="3.85" fill="none" stroke="#e3b408" stroke-width="0.58"/>
<circle cx="392.20" cy="36.50" r="3.85" fill="none" stroke="#e3b408" stroke-width="0.58"/>
<circle cx="392.20" cy="41.60" r="3.85" fill="none" stroke="#e3b408" stroke-width="0.58"/>
<circle cx="392.20" cy="43.50" r="3.85" fill="none" stroke="#e3b408" stroke-width="0.58"/>
<circle cx="393.00" cy="48.20" r="3.85" fill="none" stroke="#e3b407" stroke-width="0.58"/>
<circle cx="385.70" cy="51.10" r="3.85" fill="none" stroke="#e4b90e" stroke-width="0.58"/>
<circle cx="393.20" cy="58.40" r="3.85" fill="none" stroke="#e3b407" stroke-width="0.58"/>
<circle cx="385.70" cy="61.30" r="3.85" fill="none" stroke="#e4b90e" stroke-width="0.58"/>
<circle cx="385.70" cy="64.20" r="3.85" fill="none" stroke="#e4b90e" stroke-width="0.58"/>
<circle cx="381.30" cy="68.60" r="3.85" fill="none" stroke="#e5bc12" stroke-width="0.58"/>
<circle cx="385.70" cy="67.20" r="3.85" fill="none" stroke="#e4b90e" stroke-width="0.58"/>
<circle cx="393.00" cy="65.70" r="3.85" fill="none" stroke="#e3b407" stroke-width="0.58"/>
<circle cx="393.00" cy="70.10" r="3.85" fill="none" stroke="#e3b407" stroke-width="0.58"/>
<circle cx="403.50" cy="34.70" r="3.85" fill="none" stroke="#e2a400" stroke-width="0.58"/>
<circle cx="410.20" cy="57.70" r="3.85" fill="none" stroke="#e58d00" stroke-width="0.58"/>
<circle cx="410.20" cy="72.30" r="3.85" fill="none" stroke="#e58d00" stroke-width="0.58"/>
<circle cx="403.90" cy="74.50" r="3.85" fill="none" stroke="#e2a300" stroke-width="0.58"/>
<circle cx="443.30" cy="37.70" r="3.85" fill="none" stroke="#f21b00" stroke-width="0.58"/>
<circle cx="443.30" cy="47.90" r="3.85" fill="none" stroke="#f21b00" stroke-width="0.58"/>
<circle cx="443.30" cy="59.10" r="3.85" fill="none" stroke="#f21b00" stroke-width="0.58"/>
<circle cx="433.80" cy="59.90" r="3.85" fill="none" stroke="#ee3c00" stroke-width="0.58"/>
<circle cx="433.80" cy="62.80" r="3.85" fill="none" stroke="#ee3c00" stroke-width="0.58"/>
<circle cx="433.80" cy="65.70" r="3.85" fill="none" stroke="#ee3c00" stroke-width="0.58"/>
<circle cx="433.80" cy="68.60" r="3.85" fill="none" stroke="#ee3c00" stroke-width="0.58"/>
<circle cx="433.80" cy="71.50" r="3.85" fill="none" stroke="#ee3c00" stroke-width="0.58"/>
<circle cx="438.90" cy="72.30" r="3.85" fill="none" stroke="#f02a00" stroke-width="0.58"/>
<circle cx="439.70" cy="73.70" r="3.85" fill="none" stroke="#f02800" stroke-width="0.58"/>
<circle cx="270.50" cy="74.40" r="3.85" fill="none" stroke="#3c9ab2" stroke-width="0.58"/>
<circle cx="270.50" cy="96.30" r="3.85" fill="none" stroke="#3c9ab2" stroke-width="0.58"/>
<circle cx="271.00" cy="99.90" r="3.85" fill="none" stroke="#3c9bb2" stroke-width="0.58"/>
<circle cx="270.20" cy="107.20" r="3.85" fill="none" stroke="#3b9ab2" stroke-width="0.58"/>
<circle cx="281.90" cy="75.10" r="3.85" fill="none" stroke="#4ca2b7" stroke-width="0.58"/>
<circle cx="282.60" cy="76.60" r="3.85" fill="none" stroke="#4da2b7" stroke-width="0.58"/>
<circle cx="287.70" cy="80.20" r="3.85" fill="none" stroke="#54a6ba" stroke-width="0.58"/>
<circle cx="288.50" cy="89.00" r="3.85" fill="none" stroke="#55a6ba" stroke-width="0.58"/>
<circle cx="288.50" cy="105.00" r="3.85" fill="none" stroke="#55a6ba" stroke-width="0.58"/>
<circle cx="288.50" cy="106.50" r="3.85" fill="none" stroke="#55a6ba" stroke-width="0.58"/>
<circle cx="294.30" cy="72.20" r="3.85" fill="none" stroke="#5daabd" stroke-width="0.58"/>
<circle cx="294.70" cy="81.70" r="3.85" fill="none" stroke="#5eaabd" stroke-width="0.58"/>
<circle cx="294.70" cy="86.80" r="3.85" fill="none" stroke="#5eaabd" stroke-width="0.58"/>
<circle cx="294.70" cy="93.40" r="3.85" fill="none" stroke="#5eaabd" stroke-width="0.58"/>
<circle cx="313.30" cy="76.10" r="3.85" fill="none" stroke="#78b7c5" stroke-width="0.58"/>
<circle cx="313.30" cy="93.40" r="3.85" fill="none" stroke="#78b7c5" stroke-width="0.58"/>
<circle cx="334.50" cy="72.20" r="3.85" fill="none" stroke="#b0c17a" stroke-width="0.58"/>
<circle cx="334.50" cy="76.60" r="3.85" fill="none" stroke="#b0c17a" stroke-width="0.58"/>
<circle cx="334.50" cy="83.90" r="3.85" fill="none" stroke="#b0c17a" stroke-width="0.58"/>
<circle cx="334.50" cy="89.00" r="3.85" fill="none" stroke="#b0c17a" stroke-width="0.58"/>
<circle cx="334.50" cy="94.10" r="3.85" fill="none" stroke="#b0c17a" stroke-width="0.58"/>
<circle cx="334.50" cy="98.50" r="3.85" fill="none" stroke="#b0c17a" stroke-width="0.58"/>
<circle cx="334.50" cy="122.60" r="3.85" fill="none" stroke="#b0c17a" stroke-width="0.58"/>
<circle cx="355.20" cy="73.60" r="3.85" fill="none" stroke="#e7cb30" stroke-width="0.58"/>
<circle cx="355.20" cy="75.80" r="3.85" fill="none" stroke="#e7cb30" stroke-width="0.58"/>
<circle cx="355.20" cy="84.60" r="3.85" fill="none" stroke="#e7cb30" stroke-width="0.58"/>
<circle cx="355.20" cy="90.40" r="3.85" fill="none" stroke="#e7cb30" stroke-width="0.58"/>
<circle cx="355.20" cy="103.60" r="3.85" fill="none" stroke="#e7cb30" stroke-width="0.58"/>
<circle cx="355.20" cy="105.00" r="3.85" fill="none" stroke="#e7cb30" stroke-width="0.58"/>
<circle cx="372.50" cy="101.40" r="3.85" fill="none" stroke="#e7c21b" stroke-width="0.58"/>
<circle cx="372.50" cy="110.10" r="3.85" fill="none" stroke="#e7c21b" stroke-width="0.58"/>
<circle cx="372.50" cy="112.30" r="3.85" fill="none" stroke="#e7c21b" stroke-width="0.58"/>
<circle cx="372.50" cy="126.90" r="3.85" fill="none" stroke="#e7c21b" stroke-width="0.58"/>
<circle cx="381.30" cy="70.70" r="3.85" fill="none" stroke="#e5bc12" stroke-width="0.58"/>
<circle cx="381.30" cy="77.30" r="3.85" fill="none" stroke="#e5bc12" stroke-width="0.58"/>
<circle cx="381.30" cy="83.90" r="3.85" fill="none" stroke="#e5bc12" stroke-width="0.58"/>
<circle cx="381.30" cy="90.40" r="3.85" fill="none" stroke="#e5bc12" stroke-width="0.58"/>
<circle cx="381.30" cy="108.70" r="3.85" fill="none" stroke="#e5bc12" stroke-width="0.58"/>
<circle cx="381.30" cy="110.10" r="3.85" fill="none" stroke="#e5bc12" stroke-width="0.58"/>
<circle cx="381.00" cy="131.30" r="3.85" fill="none" stroke="#e5bc13" stroke-width="0.58"/>
<circle cx="393.20" cy="78.80" r="3.85" fill="none" stroke="#e3b407" stroke-width="0.58"/>
<circle cx="393.20" cy="86.10" r="3.85" fill="none" stroke="#e3b407" stroke-width="0.58"/>
<circle cx="393.20" cy="92.60" r="3.85" fill="none" stroke="#e3b407" stroke-width="0.58"/>
<circle cx="393.20" cy="118.20" r="3.85" fill="none" stroke="#e3b407" stroke-width="0.58"/>
<circle cx="392.20" cy="126.90" r="3.85" fill="none" stroke="#e3b408" stroke-width="0.58"/>
<circle cx="403.90" cy="75.80" r="3.85" fill="none" stroke="#e2a300" stroke-width="0.58"/>
<circle cx="403.90" cy="91.60" r="3.85" fill="none" stroke="#e2a300" stroke-width="0.58"/>
<circle cx="403.90" cy="100.70" r="3.85" fill="none" stroke="#e2a300" stroke-width="0.58"/>
<circle cx="403.90" cy="105.00" r="3.85" fill="none" stroke="#e2a300" stroke-width="0.58"/>
<circle cx="403.90" cy="119.60" r="3.85" fill="none" stroke="#e2a300" stroke-width="0.58"/>
<circle cx="403.90" cy="124.70" r="3.85" fill="none" stroke="#e2a300" stroke-width="0.58"/>
<circle cx="403.90" cy="136.40" r="3.85" fill="none" stroke="#e2a300" stroke-width="0.58"/>
<circle cx="410.20" cy="72.20" r="3.85" fill="none" stroke="#e58d00" stroke-width="0.58"/>
<circle cx="410.20" cy="90.40" r="3.85" fill="none" stroke="#e58d00" stroke-width="0.58"/>
<circle cx="410.20" cy="94.80" r="3.85" fill="none" stroke="#e58d00" stroke-width="0.58"/>
<circle cx="410.20" cy="100.70" r="3.85" fill="none" stroke="#e58d00" stroke-width="0.58"/>
<circle cx="410.20" cy="109.40" r="3.85" fill="none" stroke="#e58d00" stroke-width="0.58"/>
<circle cx="410.20" cy="123.30" r="3.85" fill="none" stroke="#e58d00" stroke-width="0.58"/>
<circle cx="410.20" cy="135.70" r="3.85" fill="none" stroke="#e58d00" stroke-width="0.58"/>
<circle cx="433.80" cy="70.70" r="3.85" fill="none" stroke="#ee3c00" stroke-width="0.58"/>
<circle cx="433.80" cy="75.80" r="3.85" fill="none" stroke="#ee3c00" stroke-width="0.58"/>
<circle cx="433.80" cy="81.00" r="3.85" fill="none" stroke="#ee3c00" stroke-width="0.58"/>
<circle cx="433.80" cy="90.40" r="3.85" fill="none" stroke="#ee3c00" stroke-width="0.58"/>
<circle cx="433.80" cy="113.80" r="3.85" fill="none" stroke="#ee3c00" stroke-width="0.58"/>
<circle cx="438.90" cy="72.90" r="3.85" fill="none" stroke="#f02a00" stroke-width="0.58"/>
<circle cx="438.90" cy="75.80" r="3.85" fill="none" stroke="#f02a00" stroke-width="0.58"/>
<circle cx="438.90" cy="81.00" r="3.85" fill="none" stroke="#f02a00" stroke-width="0.58"/>
<circle cx="438.90" cy="95.50" r="3.85" fill="none" stroke="#f02a00" stroke-width="0.58"/>
<circle cx="438.90" cy="98.50" r="3.85" fill="none" stroke="#f02a00" stroke-width="0.58"/>
<circle cx="438.90" cy="101.40" r="3.85" fill="none" stroke="#f02a00" stroke-width="0.58"/>
<circle cx="443.30" cy="81.00" r="3.85" fill="none" stroke="#f21b00" stroke-width="0.58"/>
<circle cx="443.30" cy="86.80" r="3.85" fill="none" stroke="#f21b00" stroke-width="0.58"/>
<circle cx="443.30" cy="100.70" r="3.85" fill="none" stroke="#f21b00" stroke-width="0.58"/>
<circle cx="443.30" cy="113.10" r="3.85" fill="none" stroke="#f21b00" stroke-width="0.58"/>
<circle cx="443.30" cy="118.90" r="3.85" fill="none" stroke="#f21b00" stroke-width="0.58"/>
<line x1="270.5" y1="69.3" x2="443.3" y2="84.9" stroke="#3366ff" stroke-width="1.4"/>

</svg>
<text x="449.50" y="10.60" font-size="9.0" text-anchor="end" font-weight="normal" fill="#000">Rho = −0.19 *</text>
<line x1="260.5" y1="0.0" x2="260.5" y2="143.0" stroke="#7a7a7a" stroke-width="1"/>
<line x1="453.5" y1="0.0" x2="453.5" y2="143.0" stroke="#555555" stroke-width="1"/>
<line x1="260.0" y1="0.5" x2="454.0" y2="0.5" stroke="#666666" stroke-width="1"/>
<line x1="260.0" y1="142.5" x2="454.0" y2="142.5" stroke="#a8a8a8" stroke-width="1"/>
<text x="460.60" y="6.40" font-size="8.2" text-anchor="start" font-weight="bold" fill="#000">C</text>
<line x1="515.1" y1="143.0" x2="515.1" y2="145.3" stroke="#555" stroke-width="0.9"/>
<text x="515.10" y="154.10" font-size="10.8" text-anchor="middle" font-weight="normal" fill="#111">−2</text>
<line x1="558" y1="143.0" x2="558" y2="145.3" stroke="#555" stroke-width="0.9"/>
<text x="558.00" y="154.10" font-size="10.8" text-anchor="middle" font-weight="normal" fill="#111">−1</text>
<line x1="601" y1="143.0" x2="601" y2="145.3" stroke="#555" stroke-width="0.9"/>
<text x="601.00" y="154.10" font-size="10.8" text-anchor="middle" font-weight="normal" fill="#111">0</text>
<line x1="644.2" y1="143.0" x2="644.2" y2="145.3" stroke="#555" stroke-width="0.9"/>
<text x="644.20" y="154.10" font-size="10.8" text-anchor="middle" font-weight="normal" fill="#111">1</text>
<line x1="485.2" y1="37.2" x2="487.0" y2="37.2" stroke="#555" stroke-width="0.9"/>
<text x="484.70" y="41.20" font-size="10.8" text-anchor="end" font-weight="normal" fill="#111">1</text>
<line x1="485.2" y1="77" x2="487.0" y2="77" stroke="#555" stroke-width="0.9"/>
<text x="484.70" y="81.00" font-size="10.8" text-anchor="end" font-weight="normal" fill="#111">0</text>
<line x1="485.2" y1="116.6" x2="487.0" y2="116.6" stroke="#555" stroke-width="0.9"/>
<text x="484.70" y="120.60" font-size="10.8" text-anchor="end" font-weight="normal" fill="#111">−1</text>
<text x="585.50" y="165.70" font-size="10.8" text-anchor="middle" font-weight="normal" fill="#000">NMDS1</text>
<text x="468.30" y="71.50" font-size="10.8" text-anchor="middle" font-weight="normal" fill="#000" transform="rotate(-90 468.30 71.50)">NMDS2</text>
<svg x="487.5" y="0.5" width="196.0" height="142.0" viewBox="487.5 0.5 196.0 142.0" overflow="hidden">
<circle cx="586.00" cy="82.30" r="3.95" fill="#48a1b6"/>
<circle cx="604.00" cy="83.50" r="3.95" fill="#aac07e"/>
<circle cx="612.20" cy="82.30" r="3.95" fill="#aac07e"/>
<circle cx="615.70" cy="82.30" r="3.95" fill="#78b7c5"/>
<circle cx="556.00" cy="21.10" r="3.95" fill="#e6c92c"/>
<circle cx="575.30" cy="24.10" r="3.95" fill="#48a1b6"/>
<circle cx="584.50" cy="19.00" r="3.95" fill="#48a1b6"/>
<circle cx="589.40" cy="7.00" r="3.95" fill="#48a1b6"/>
<circle cx="592.60" cy="6.60" r="3.95" fill="#48a1b6"/>
<circle cx="496.90" cy="62.00" r="3.95" fill="#f02400"/>
<circle cx="527.10" cy="54.70" r="3.95" fill="#f02400"/>
<circle cx="522.50" cy="64.20" r="3.95" fill="#f02400"/>
<circle cx="534.00" cy="71.10" r="3.95" fill="#f02400"/>
<circle cx="528.20" cy="74.40" r="3.95" fill="#f02400"/>
<circle cx="504.20" cy="82.80" r="3.95" fill="#f02400"/>
<circle cx="515.50" cy="85.30" r="3.95" fill="#f02400"/>
<circle cx="543.60" cy="93.80" r="3.95" fill="#e6c92c"/>
<circle cx="546.10" cy="103.90" r="3.95" fill="#f02400"/>
<circle cx="542.20" cy="121.80" r="3.95" fill="#e6c92c"/>
<circle cx="612.70" cy="27.00" r="3.95" fill="#48a1b6"/>
<circle cx="617.10" cy="28.00" r="3.95" fill="#78b7c5"/>
<circle cx="612.40" cy="37.70" r="3.95" fill="#48a1b6"/>
<circle cx="620.00" cy="36.20" r="3.95" fill="#48a1b6"/>
<circle cx="624.70" cy="34.30" r="3.95" fill="#48a1b6"/>
<circle cx="628.80" cy="39.70" r="3.95" fill="#48a1b6"/>
<circle cx="640.20" cy="42.30" r="3.95" fill="#48a1b6"/>
<circle cx="640.50" cy="40.90" r="3.95" fill="#e6c92c"/>
<circle cx="642.70" cy="35.80" r="3.95" fill="#78b7c5"/>
<circle cx="597.00" cy="37.90" r="3.95" fill="#78b7c5"/>
<circle cx="612.20" cy="37.90" r="3.95" fill="#48a1b6"/>
<circle cx="620.40" cy="36.80" r="3.95" fill="#48a1b6"/>
<circle cx="628.60" cy="39.70" r="3.95" fill="#48a1b6"/>
<circle cx="590.00" cy="45.50" r="3.95" fill="#48a1b6"/>
<circle cx="585.40" cy="48.40" r="3.95" fill="#78b7c5"/>
<circle cx="577.80" cy="48.40" r="3.95" fill="#48a1b6"/>
<circle cx="590.60" cy="51.90" r="3.95" fill="#48a1b6"/>
<circle cx="573.10" cy="53.10" r="3.95" fill="#78b7c5"/>
<circle cx="580.70" cy="53.70" r="3.95" fill="#48a1b6"/>
<circle cx="569.00" cy="57.80" r="3.95" fill="#aac07e"/>
<circle cx="575.40" cy="61.30" r="3.95" fill="#78b7c5"/>
<circle cx="580.10" cy="60.10" r="3.95" fill="#78b7c5"/>
<circle cx="579.00" cy="65.90" r="3.95" fill="#48a1b6"/>
<circle cx="585.40" cy="67.10" r="3.95" fill="#78b7c5"/>
<circle cx="579.50" cy="69.50" r="3.95" fill="#aac07e"/>
<circle cx="587.10" cy="70.60" r="3.95" fill="#48a1b6"/>
<circle cx="590.00" cy="62.40" r="3.95" fill="#48a1b6"/>
<circle cx="596.50" cy="57.20" r="3.95" fill="#48a1b6"/>
<circle cx="597.00" cy="61.90" r="3.95" fill="#48a1b6"/>
<circle cx="604.00" cy="57.20" r="3.95" fill="#48a1b6"/>
<circle cx="609.90" cy="50.20" r="3.95" fill="#48a1b6"/>
<circle cx="609.90" cy="58.40" r="3.95" fill="#48a1b6"/>
<circle cx="607.60" cy="63.00" r="3.95" fill="#78b7c5"/>
<circle cx="592.40" cy="73.00" r="3.95" fill="#aac07e"/>
<circle cx="602.30" cy="66.50" r="3.95" fill="#e6c92c"/>
<circle cx="607.00" cy="68.90" r="3.95" fill="#e6c92c"/>
<circle cx="612.80" cy="68.30" r="3.95" fill="#e6c92c"/>
<circle cx="616.90" cy="60.10" r="3.95" fill="#e2b40a"/>
<circle cx="618.10" cy="69.50" r="3.95" fill="#e2b40a"/>
<circle cx="619.80" cy="57.80" r="3.95" fill="#78b7c5"/>
<circle cx="624.10" cy="51.80" r="3.95" fill="#f02400"/>
<circle cx="625.10" cy="58.40" r="3.95" fill="#78b7c5"/>
<circle cx="621.60" cy="65.40" r="3.95" fill="#78b7c5"/>
<circle cx="626.20" cy="67.70" r="3.95" fill="#78b7c5"/>
<circle cx="629.70" cy="61.30" r="3.95" fill="#e2b40a"/>
<circle cx="633.20" cy="55.40" r="3.95" fill="#e2b40a"/>
<circle cx="636.10" cy="58.40" r="3.95" fill="#e2b40a"/>
<circle cx="623.30" cy="73.00" r="3.95" fill="#e48d0c"/>
<circle cx="629.70" cy="72.40" r="3.95" fill="#e48d0c"/>
<circle cx="632.10" cy="66.00" r="3.95" fill="#48a1b6"/>
<circle cx="572.50" cy="77.60" r="3.95" fill="#e2b40a"/>
<circle cx="573.10" cy="81.70" r="3.95" fill="#e2b40a"/>
<circle cx="574.30" cy="85.80" r="3.95" fill="#e2b40a"/>
<circle cx="582.40" cy="78.20" r="3.95" fill="#e2b40a"/>
<circle cx="581.90" cy="85.80" r="3.95" fill="#e2b40a"/>
<circle cx="590.00" cy="86.40" r="3.95" fill="#e2b40a"/>
<circle cx="591.20" cy="92.20" r="3.95" fill="#e2b40a"/>
<circle cx="596.50" cy="81.70" r="3.95" fill="#e2b40a"/>
<circle cx="597.00" cy="77.00" r="3.95" fill="#e2b40a"/>
<circle cx="606.40" cy="79.40" r="3.95" fill="#e2b40a"/>
<circle cx="616.30" cy="86.40" r="3.95" fill="#e2b40a"/>
<circle cx="609.30" cy="88.70" r="3.95" fill="#e2b40a"/>
<circle cx="605.20" cy="93.40" r="3.95" fill="#e2b40a"/>
<circle cx="625.10" cy="87.60" r="3.95" fill="#e2b40a"/>
<circle cx="629.70" cy="89.30" r="3.95" fill="#e2b40a"/>
<circle cx="620.40" cy="92.20" r="3.95" fill="#e2b40a"/>
<circle cx="626.20" cy="92.80" r="3.95" fill="#e2b40a"/>
<circle cx="606.20" cy="94.80" r="3.95" fill="#e2b40a"/>
<circle cx="614.90" cy="91.90" r="3.95" fill="#e2b40a"/>
<circle cx="617.10" cy="96.30" r="3.95" fill="#e2b40a"/>
<circle cx="614.20" cy="102.10" r="3.95" fill="#e2b40a"/>
<circle cx="622.20" cy="91.90" r="3.95" fill="#e2b40a"/>
<circle cx="627.30" cy="87.50" r="3.95" fill="#e2b40a"/>
<circle cx="628.10" cy="95.50" r="3.95" fill="#e2b40a"/>
<circle cx="633.20" cy="89.70" r="3.95" fill="#e2b40a"/>
<circle cx="639.00" cy="89.00" r="3.95" fill="#e2b40a"/>
<circle cx="647.00" cy="91.90" r="3.95" fill="#e2b40a"/>
<circle cx="623.00" cy="99.20" r="3.95" fill="#e48d0c"/>
<circle cx="641.90" cy="101.40" r="3.95" fill="#e2b40a"/>
<circle cx="612.00" cy="111.60" r="3.95" fill="#e2b40a"/>
<circle cx="625.10" cy="108.20" r="3.95" fill="#e2b40a"/>
<circle cx="631.40" cy="110.90" r="3.95" fill="#e2b40a"/>
<circle cx="616.80" cy="119.60" r="3.95" fill="#e2b40a"/>
<circle cx="674.30" cy="80.90" r="3.95" fill="#e2b40a"/>
<circle cx="630.00" cy="133.90" r="3.95" fill="#e48d0c"/>
<circle cx="647.00" cy="133.50" r="3.95" fill="#e2b40a"/>
<circle cx="575.80" cy="99.90" r="3.95" fill="#e48d0c"/>
<circle cx="579.00" cy="108.70" r="3.95" fill="#f02400"/>
<circle cx="573.90" cy="113.80" r="3.95" fill="#f02400"/>
<circle cx="576.80" cy="116.70" r="3.95" fill="#ef4000"/>
<circle cx="573.10" cy="119.60" r="3.95" fill="#f02400"/>
<circle cx="585.50" cy="118.20" r="3.95" fill="#ef4000"/>
<circle cx="573.10" cy="127.70" r="3.95" fill="#f02400"/>
<circle cx="578.20" cy="127.70" r="3.95" fill="#f02400"/>
<circle cx="583.40" cy="127.70" r="3.95" fill="#ef4000"/>
<circle cx="590.10" cy="107.20" r="3.95" fill="#f02400"/>
<circle cx="593.80" cy="108.70" r="3.95" fill="#f02400"/>
<circle cx="599.60" cy="103.60" r="3.95" fill="#f02400"/>
<circle cx="604.00" cy="103.60" r="3.95" fill="#f02400"/>
<circle cx="587.20" cy="119.60" r="3.95" fill="#f02400"/>
<circle cx="596.70" cy="104.30" r="3.95" fill="#f02400"/>
<circle cx="589.40" cy="62.00" r="3.95" fill="#48a1b6"/>
<circle cx="596.70" cy="62.80" r="3.95" fill="#48a1b6"/>
<circle cx="606.90" cy="62.80" r="3.95" fill="#78b7c5"/>
<circle cx="586.50" cy="67.20" r="3.95" fill="#78b7c5"/>
<circle cx="596.70" cy="56.90" r="3.95" fill="#48a1b6"/>
<circle cx="604.00" cy="56.90" r="3.95" fill="#48a1b6"/>
<circle cx="609.10" cy="57.70" r="3.95" fill="#48a1b6"/>
<circle cx="610.50" cy="50.40" r="3.95" fill="#48a1b6"/>
<circle cx="616.40" cy="59.90" r="3.95" fill="#e2b40a"/>
<circle cx="621.50" cy="63.50" r="3.95" fill="#78b7c5"/>
<circle cx="625.90" cy="65.70" r="3.95" fill="#78b7c5"/>
<circle cx="631.70" cy="66.40" r="3.95" fill="#48a1b6"/>
<circle cx="602.50" cy="66.40" r="3.95" fill="#e6c92c"/>
<circle cx="608.40" cy="67.90" r="3.95" fill="#e6c92c"/>
<circle cx="613.50" cy="67.90" r="3.95" fill="#e6c92c"/>
<circle cx="619.30" cy="70.10" r="3.95" fill="#e2b40a"/>
<circle cx="624.40" cy="72.30" r="3.95" fill="#e48d0c"/>
<circle cx="629.50" cy="71.50" r="3.95" fill="#e48d0c"/>
<circle cx="592.30" cy="71.50" r="3.95" fill="#aac07e"/>
<line x1="600.9" y1="77" x2="584.6" y2="130.2" stroke="#1a1aee" stroke-width="1.1"/><polyline points="582.9,127.2 584.6,130.3 587.6,128.1" fill="none" stroke="#1a1aee" stroke-width="1.1"/><text x="580.4" y="138.8" font-size="7.5" fill="#2222f0" text-anchor="middle">Distance</text><text x="652.4" y="10.2" font-size="8.8" text-anchor="middle">Fungi</text><text x="681" y="23.4" font-size="8.8" text-anchor="end">Stress = 0.203</text>
</svg>
<line x1="487.5" y1="0.0" x2="487.5" y2="143.0" stroke="#b5b5b5" stroke-width="1"/>
<line x1="683.5" y1="0.0" x2="683.5" y2="143.0" stroke="#888888" stroke-width="1"/>
<line x1="487.0" y1="0.5" x2="684.0" y2="0.5" stroke="#666666" stroke-width="1"/>
<line x1="487.0" y1="142.5" x2="684.0" y2="142.5" stroke="#999999" stroke-width="1"/>
<text x="0.80" y="176.00" font-size="8.2" text-anchor="start" font-weight="bold" fill="#000">D</text>
<line x1="66.9" y1="318.0" x2="66.9" y2="320.3" stroke="#555" stroke-width="0.9"/>
<text x="66.90" y="329.10" font-size="10.8" text-anchor="middle" font-weight="normal" fill="#111">0</text>
<line x1="106.4" y1="318.0" x2="106.4" y2="320.3" stroke="#555" stroke-width="0.9"/>
<text x="106.40" y="329.10" font-size="10.8" text-anchor="middle" font-weight="normal" fill="#111">1</text>
<line x1="145.7" y1="318.0" x2="145.7" y2="320.3" stroke="#555" stroke-width="0.9"/>
<text x="145.70" y="329.10" font-size="10.8" text-anchor="middle" font-weight="normal" fill="#111">2</text>
<line x1="185" y1="318.0" x2="185" y2="320.3" stroke="#555" stroke-width="0.9"/>
<text x="185.00" y="329.10" font-size="10.8" text-anchor="middle" font-weight="normal" fill="#111">3</text>
<line x1="31.2" y1="183.5" x2="33.0" y2="183.5" stroke="#555" stroke-width="0.9"/>
<text x="30.70" y="187.50" font-size="10.8" text-anchor="end" font-weight="normal" fill="#111">300</text>
<line x1="31.2" y1="236.6" x2="33.0" y2="236.6" stroke="#555" stroke-width="0.9"/>
<text x="30.70" y="240.60" font-size="10.8" text-anchor="end" font-weight="normal" fill="#111">200</text>
<line x1="31.2" y1="289.3" x2="33.0" y2="289.3" stroke="#555" stroke-width="0.9"/>
<text x="30.70" y="293.30" font-size="10.8" text-anchor="end" font-weight="normal" fill="#111">100</text>
<text x="128.50" y="340.70" font-size="10.8" text-anchor="middle" font-weight="normal" fill="#000">Distance</text>
<text x="8.10" y="246.50" font-size="10.8" text-anchor="middle" font-weight="normal" fill="#000" transform="rotate(-90 8.10 246.50)">Bacterial Richness</text>
<svg x="33.5" y="175.5" width="190.0" height="142.0" viewBox="33.5 175.5 190.0 142.0" overflow="hidden">
<line x1="43.29" y1="237.00" x2="43.29" y2="237.55" stroke="#a0a0a0" stroke-width="0.7"/>
<line x1="43.29" y1="251.57" x2="43.29" y2="253.50" stroke="#a0a0a0" stroke-width="0.7"/>
<rect x="41.79" y="237.55" width="3.00" height="14.02" fill="none" stroke="#a0a0a0" stroke-width="0.6"/>
<line x1="41.79" y1="242.50" x2="44.79" y2="242.50" stroke="#a0a0a0" stroke-width="0.6"/>
<line x1="54.90" y1="188.90" x2="54.90" y2="208.55" stroke="#a0a0a0" stroke-width="0.7"/>
<line x1="54.90" y1="230.15" x2="54.90" y2="248.00" stroke="#a0a0a0" stroke-width="0.7"/>
<rect x="53.40" y="208.55" width="3.00" height="21.60" fill="none" stroke="#a0a0a0" stroke-width="0.6"/>
<line x1="53.40" y1="215.90" x2="56.40" y2="215.90" stroke="#a0a0a0" stroke-width="0.6"/>
<line x1="60.80" y1="196.90" x2="60.80" y2="199.82" stroke="#a0a0a0" stroke-width="0.7"/>
<line x1="60.80" y1="211.12" x2="60.80" y2="211.50" stroke="#a0a0a0" stroke-width="0.7"/>
<rect x="59.30" y="199.82" width="3.00" height="11.30" fill="none" stroke="#a0a0a0" stroke-width="0.6"/>
<line x1="59.30" y1="209.30" x2="62.30" y2="209.30" stroke="#a0a0a0" stroke-width="0.6"/>
<line x1="67.15" y1="204.90" x2="67.15" y2="217.90" stroke="#a0a0a0" stroke-width="0.7"/>
<line x1="67.15" y1="235.05" x2="67.15" y2="250.10" stroke="#a0a0a0" stroke-width="0.7"/>
<rect x="65.65" y="217.90" width="3.00" height="17.15" fill="none" stroke="#a0a0a0" stroke-width="0.6"/>
<line x1="65.65" y1="226.50" x2="68.65" y2="226.50" stroke="#a0a0a0" stroke-width="0.6"/>
<line x1="85.60" y1="207.10" x2="85.60" y2="215.85" stroke="#a0a0a0" stroke-width="0.7"/>
<line x1="85.60" y1="245.40" x2="85.60" y2="263.20" stroke="#a0a0a0" stroke-width="0.7"/>
<rect x="84.10" y="215.85" width="3.00" height="29.55" fill="none" stroke="#a0a0a0" stroke-width="0.6"/>
<line x1="84.10" y1="231.90" x2="87.10" y2="231.90" stroke="#a0a0a0" stroke-width="0.6"/>
<line x1="105.85" y1="222.40" x2="105.85" y2="240.18" stroke="#a0a0a0" stroke-width="0.7"/>
<line x1="105.85" y1="252.28" x2="105.85" y2="258.90" stroke="#a0a0a0" stroke-width="0.7"/>
<rect x="104.35" y="240.18" width="3.00" height="12.10" fill="none" stroke="#a0a0a0" stroke-width="0.6"/>
<line x1="104.35" y1="248.70" x2="107.35" y2="248.70" stroke="#a0a0a0" stroke-width="0.6"/>
<line x1="126.40" y1="225.40" x2="126.40" y2="235.95" stroke="#a0a0a0" stroke-width="0.7"/>
<line x1="126.40" y1="260.30" x2="126.40" y2="272.00" stroke="#a0a0a0" stroke-width="0.7"/>
<rect x="124.90" y="235.95" width="3.00" height="24.35" fill="none" stroke="#a0a0a0" stroke-width="0.6"/>
<line x1="124.90" y1="243.60" x2="127.90" y2="243.60" stroke="#a0a0a0" stroke-width="0.6"/>
<line x1="143.85" y1="231.90" x2="143.85" y2="239.95" stroke="#a0a0a0" stroke-width="0.7"/>
<line x1="143.85" y1="254.15" x2="143.85" y2="267.60" stroke="#a0a0a0" stroke-width="0.7"/>
<rect x="142.35" y="239.95" width="3.00" height="14.20" fill="none" stroke="#a0a0a0" stroke-width="0.6"/>
<line x1="142.35" y1="246.50" x2="145.35" y2="246.50" stroke="#a0a0a0" stroke-width="0.6"/>
<line x1="152.40" y1="278.60" x2="152.40" y2="278.60" stroke="#a0a0a0" stroke-width="0.7"/>
<line x1="152.40" y1="283.00" x2="152.40" y2="284.40" stroke="#a0a0a0" stroke-width="0.7"/>
<rect x="150.90" y="278.60" width="3.00" height="4.40" fill="none" stroke="#a0a0a0" stroke-width="0.6"/>
<line x1="150.90" y1="280.80" x2="153.90" y2="280.80" stroke="#a0a0a0" stroke-width="0.6"/>
<line x1="156.92" y1="280.00" x2="156.92" y2="280.00" stroke="#a0a0a0" stroke-width="0.7"/>
<line x1="156.92" y1="291.70" x2="156.92" y2="295.40" stroke="#a0a0a0" stroke-width="0.7"/>
<rect x="155.42" y="280.00" width="3.00" height="11.70" fill="none" stroke="#a0a0a0" stroke-width="0.6"/>
<line x1="155.42" y1="288.80" x2="158.42" y2="288.80" stroke="#a0a0a0" stroke-width="0.6"/>
<line x1="163.69" y1="246.50" x2="163.69" y2="252.30" stroke="#a0a0a0" stroke-width="0.7"/>
<line x1="163.69" y1="272.70" x2="163.69" y2="288.80" stroke="#a0a0a0" stroke-width="0.7"/>
<rect x="162.19" y="252.30" width="3.00" height="20.40" fill="none" stroke="#a0a0a0" stroke-width="0.6"/>
<line x1="162.19" y1="262.50" x2="165.19" y2="262.50" stroke="#a0a0a0" stroke-width="0.6"/>
<line x1="174.64" y1="207.80" x2="174.64" y2="237.08" stroke="#a0a0a0" stroke-width="0.7"/>
<line x1="174.64" y1="255.78" x2="174.64" y2="275.70" stroke="#a0a0a0" stroke-width="0.7"/>
<rect x="173.14" y="237.08" width="3.00" height="18.70" fill="none" stroke="#a0a0a0" stroke-width="0.6"/>
<line x1="173.14" y1="244.35" x2="176.14" y2="244.35" stroke="#a0a0a0" stroke-width="0.6"/>
<line x1="180.50" y1="228.30" x2="180.50" y2="243.60" stroke="#a0a0a0" stroke-width="0.7"/>
<line x1="180.50" y1="269.45" x2="180.50" y2="303.40" stroke="#a0a0a0" stroke-width="0.7"/>
<rect x="179.00" y="243.60" width="3.00" height="25.85" fill="none" stroke="#a0a0a0" stroke-width="0.6"/>
<line x1="179.00" y1="257.40" x2="182.00" y2="257.40" stroke="#a0a0a0" stroke-width="0.6"/>
<line x1="203.80" y1="248.70" x2="203.80" y2="255.25" stroke="#a0a0a0" stroke-width="0.7"/>
<line x1="203.80" y1="271.65" x2="203.80" y2="277.80" stroke="#a0a0a0" stroke-width="0.7"/>
<rect x="202.30" y="255.25" width="3.00" height="16.40" fill="none" stroke="#a0a0a0" stroke-width="0.6"/>
<line x1="202.30" y1="266.90" x2="205.30" y2="266.90" stroke="#a0a0a0" stroke-width="0.6"/>
<line x1="208.90" y1="255.20" x2="208.90" y2="265.05" stroke="#a0a0a0" stroke-width="0.7"/>
<line x1="208.90" y1="275.65" x2="208.90" y2="280.80" stroke="#a0a0a0" stroke-width="0.7"/>
<rect x="207.40" y="265.05" width="3.00" height="10.60" fill="none" stroke="#a0a0a0" stroke-width="0.6"/>
<line x1="207.40" y1="270.50" x2="210.40" y2="270.50" stroke="#a0a0a0" stroke-width="0.6"/>
<line x1="213.30" y1="203.50" x2="213.30" y2="213.90" stroke="#a0a0a0" stroke-width="0.7"/>
<line x1="213.30" y1="245.75" x2="213.30" y2="269.10" stroke="#a0a0a0" stroke-width="0.7"/>
<rect x="211.80" y="213.90" width="3.00" height="31.85" fill="none" stroke="#a0a0a0" stroke-width="0.6"/>
<line x1="211.80" y1="225.35" x2="214.80" y2="225.35" stroke="#a0a0a0" stroke-width="0.6"/>
<circle cx="43.50" cy="212.20" r="3.85" fill="none" stroke="#3c9ab2" stroke-width="0.58"/>
<circle cx="43.50" cy="213.70" r="3.85" fill="none" stroke="#3c9ab2" stroke-width="0.58"/>
<circle cx="43.20" cy="237.00" r="3.85" fill="none" stroke="#3b9ab2" stroke-width="0.58"/>
<circle cx="43.20" cy="239.20" r="3.85" fill="none" stroke="#3b9ab2" stroke-width="0.58"/>
<circle cx="43.20" cy="241.40" r="3.85" fill="none" stroke="#3b9ab2" stroke-width="0.58"/>
<circle cx="43.20" cy="243.60" r="3.85" fill="none" stroke="#3b9ab2" stroke-width="0.58"/>
<circle cx="43.20" cy="245.80" r="3.85" fill="none" stroke="#3b9ab2" stroke-width="0.58"/>
<circle cx="54.90" cy="188.90" r="3.85" fill="none" stroke="#4ca2b7" stroke-width="0.58"/>
<circle cx="54.90" cy="207.80" r="3.85" fill="none" stroke="#4ca2b7" stroke-width="0.58"/>
<circle cx="54.90" cy="209.30" r="3.85" fill="none" stroke="#4ca2b7" stroke-width="0.58"/>
<circle cx="54.90" cy="215.90" r="3.85" fill="none" stroke="#4ca2b7" stroke-width="0.58"/>
<circle cx="54.90" cy="225.40" r="3.85" fill="none" stroke="#4ca2b7" stroke-width="0.58"/>
<circle cx="54.90" cy="234.90" r="3.85" fill="none" stroke="#4ca2b7" stroke-width="0.58"/>
<circle cx="54.90" cy="248.00" r="3.85" fill="none" stroke="#4ca2b7" stroke-width="0.58"/>
<circle cx="61.00" cy="181.10" r="3.85" fill="none" stroke="#54a6ba" stroke-width="0.58"/>
<circle cx="60.70" cy="196.90" r="3.85" fill="none" stroke="#54a6ba" stroke-width="0.58"/>
<circle cx="60.70" cy="208.60" r="3.85" fill="none" stroke="#54a6ba" stroke-width="0.58"/>
<circle cx="61.00" cy="210.00" r="3.85" fill="none" stroke="#54a6ba" stroke-width="0.58"/>
<circle cx="60.70" cy="211.50" r="3.85" fill="none" stroke="#54a6ba" stroke-width="0.58"/>
<circle cx="60.70" cy="240.70" r="3.85" fill="none" stroke="#54a6ba" stroke-width="0.58"/>
<circle cx="67.30" cy="204.90" r="3.85" fill="none" stroke="#5daabd" stroke-width="0.58"/>
<circle cx="67.30" cy="208.60" r="3.85" fill="none" stroke="#5daabd" stroke-width="0.58"/>
<circle cx="67.30" cy="221.00" r="3.85" fill="none" stroke="#5daabd" stroke-width="0.58"/>
<circle cx="66.90" cy="225.40" r="3.85" fill="none" stroke="#5daabd" stroke-width="0.58"/>
<circle cx="66.90" cy="227.60" r="3.85" fill="none" stroke="#5daabd" stroke-width="0.58"/>
<circle cx="66.90" cy="230.50" r="3.85" fill="none" stroke="#5daabd" stroke-width="0.58"/>
<circle cx="67.30" cy="248.70" r="3.85" fill="none" stroke="#5daabd" stroke-width="0.58"/>
<circle cx="85.60" cy="207.10" r="3.85" fill="none" stroke="#77b7c5" stroke-width="0.58"/>
<circle cx="85.60" cy="209.30" r="3.85" fill="none" stroke="#77b7c5" stroke-width="0.58"/>
<circle cx="85.60" cy="222.40" r="3.85" fill="none" stroke="#77b7c5" stroke-width="0.58"/>
<circle cx="85.60" cy="231.90" r="3.85" fill="none" stroke="#77b7c5" stroke-width="0.58"/>
<circle cx="85.60" cy="234.10" r="3.85" fill="none" stroke="#77b7c5" stroke-width="0.58"/>
<circle cx="105.70" cy="222.40" r="3.85" fill="none" stroke="#adc17e" stroke-width="0.58"/>
<circle cx="105.70" cy="237.80" r="3.85" fill="none" stroke="#adc17e" stroke-width="0.58"/>
<circle cx="105.70" cy="247.30" r="3.85" fill="none" stroke="#adc17e" stroke-width="0.58"/>
<circle cx="126.40" cy="225.40" r="3.85" fill="none" stroke="#e5cb33" stroke-width="0.58"/>
<circle cx="126.40" cy="234.90" r="3.85" fill="none" stroke="#e5cb33" stroke-width="0.58"/>
<circle cx="126.40" cy="237.00" r="3.85" fill="none" stroke="#e5cb33" stroke-width="0.58"/>
<circle cx="126.40" cy="243.60" r="3.85" fill="none" stroke="#e5cb33" stroke-width="0.58"/>
<circle cx="143.70" cy="231.90" r="3.85" fill="none" stroke="#e8c21b" stroke-width="0.58"/>
<circle cx="143.70" cy="237.00" r="3.85" fill="none" stroke="#e8c21b" stroke-width="0.58"/>
<circle cx="143.70" cy="242.90" r="3.85" fill="none" stroke="#e8c21b" stroke-width="0.58"/>
<circle cx="157.40" cy="236.00" r="3.85" fill="none" stroke="#e4b90e" stroke-width="0.58"/>
<circle cx="163.20" cy="246.50" r="3.85" fill="none" stroke="#e3b508" stroke-width="0.58"/>
<circle cx="174.90" cy="207.80" r="3.85" fill="none" stroke="#e2a400" stroke-width="0.58"/>
<circle cx="174.60" cy="234.90" r="3.85" fill="none" stroke="#e2a500" stroke-width="0.58"/>
<circle cx="174.60" cy="237.80" r="3.85" fill="none" stroke="#e2a500" stroke-width="0.58"/>
<circle cx="174.60" cy="243.60" r="3.85" fill="none" stroke="#e2a500" stroke-width="0.58"/>
<circle cx="174.60" cy="245.10" r="3.85" fill="none" stroke="#e2a500" stroke-width="0.58"/>
<circle cx="180.50" cy="228.30" r="3.85" fill="none" stroke="#e59000" stroke-width="0.58"/>
<circle cx="180.50" cy="238.50" r="3.85" fill="none" stroke="#e59000" stroke-width="0.58"/>
<circle cx="180.50" cy="248.70" r="3.85" fill="none" stroke="#e59000" stroke-width="0.58"/>
<circle cx="213.30" cy="203.50" r="3.85" fill="none" stroke="#f21e00" stroke-width="0.58"/>
<circle cx="213.30" cy="210.00" r="3.85" fill="none" stroke="#f21e00" stroke-width="0.58"/>
<circle cx="213.30" cy="213.00" r="3.85" fill="none" stroke="#f21e00" stroke-width="0.58"/>
<circle cx="213.30" cy="216.60" r="3.85" fill="none" stroke="#f21e00" stroke-width="0.58"/>
<circle cx="213.30" cy="221.70" r="3.85" fill="none" stroke="#f21e00" stroke-width="0.58"/>
<circle cx="213.30" cy="229.00" r="3.85" fill="none" stroke="#f21e00" stroke-width="0.58"/>
<circle cx="213.30" cy="241.40" r="3.85" fill="none" stroke="#f21e00" stroke-width="0.58"/>
<circle cx="213.30" cy="248.00" r="3.85" fill="none" stroke="#f21e00" stroke-width="0.58"/>
<circle cx="203.80" cy="248.70" r="3.85" fill="none" stroke="#ee3f00" stroke-width="0.58"/>
<circle cx="43.50" cy="253.50" r="3.85" fill="none" stroke="#3c9ab2" stroke-width="0.58"/>
<circle cx="43.20" cy="279.70" r="3.85" fill="none" stroke="#3b9ab2" stroke-width="0.58"/>
<circle cx="43.20" cy="288.10" r="3.85" fill="none" stroke="#3b9ab2" stroke-width="0.58"/>
<circle cx="67.30" cy="250.10" r="3.85" fill="none" stroke="#5daabd" stroke-width="0.58"/>
<circle cx="85.60" cy="256.70" r="3.85" fill="none" stroke="#77b7c5" stroke-width="0.58"/>
<circle cx="85.60" cy="263.20" r="3.85" fill="none" stroke="#77b7c5" stroke-width="0.58"/>
<circle cx="106.00" cy="250.10" r="3.85" fill="none" stroke="#aec17d" stroke-width="0.58"/>
<circle cx="106.00" cy="253.00" r="3.85" fill="none" stroke="#aec17d" stroke-width="0.58"/>
<circle cx="106.00" cy="258.90" r="3.85" fill="none" stroke="#aec17d" stroke-width="0.58"/>
<circle cx="126.40" cy="253.00" r="3.85" fill="none" stroke="#e5cb33" stroke-width="0.58"/>
<circle cx="126.40" cy="267.60" r="3.85" fill="none" stroke="#e5cb33" stroke-width="0.58"/>
<circle cx="126.40" cy="272.00" r="3.85" fill="none" stroke="#e5cb33" stroke-width="0.58"/>
<circle cx="144.00" cy="246.50" r="3.85" fill="none" stroke="#e7c21b" stroke-width="0.58"/>
<circle cx="144.00" cy="251.60" r="3.85" fill="none" stroke="#e7c21b" stroke-width="0.58"/>
<circle cx="144.00" cy="256.70" r="3.85" fill="none" stroke="#e7c21b" stroke-width="0.58"/>
<circle cx="144.00" cy="267.60" r="3.85" fill="none" stroke="#e7c21b" stroke-width="0.58"/>
<circle cx="143.70" cy="297.60" r="3.85" fill="none" stroke="#e8c21b" stroke-width="0.58"/>
<circle cx="152.40" cy="269.80" r="3.85" fill="none" stroke="#e5bc13" stroke-width="0.58"/>
<circle cx="152.40" cy="278.60" r="3.85" fill="none" stroke="#e5bc13" stroke-width="0.58"/>
<circle cx="152.40" cy="280.80" r="3.85" fill="none" stroke="#e5bc13" stroke-width="0.58"/>
<circle cx="152.40" cy="283.00" r="3.85" fill="none" stroke="#e5bc13" stroke-width="0.58"/>
<circle cx="152.40" cy="284.40" r="3.85" fill="none" stroke="#e5bc13" stroke-width="0.58"/>
<circle cx="156.80" cy="280.00" r="3.85" fill="none" stroke="#e4b90f" stroke-width="0.58"/>
<circle cx="156.80" cy="288.80" r="3.85" fill="none" stroke="#e4b90f" stroke-width="0.58"/>
<circle cx="156.80" cy="291.70" r="3.85" fill="none" stroke="#e4b90f" stroke-width="0.58"/>
<circle cx="156.80" cy="295.40" r="3.85" fill="none" stroke="#e4b90f" stroke-width="0.58"/>
<circle cx="163.70" cy="247.20" r="3.85" fill="none" stroke="#e3b408" stroke-width="0.58"/>
<circle cx="163.70" cy="252.30" r="3.85" fill="none" stroke="#e3b408" stroke-width="0.58"/>
<circle cx="163.70" cy="259.60" r="3.85" fill="none" stroke="#e3b408" stroke-width="0.58"/>
<circle cx="163.70" cy="262.50" r="3.85" fill="none" stroke="#e3b408" stroke-width="0.58"/>
<circle cx="163.70" cy="269.80" r="3.85" fill="none" stroke="#e3b408" stroke-width="0.58"/>
<circle cx="163.70" cy="272.70" r="3.85" fill="none" stroke="#e3b408" stroke-width="0.58"/>
<circle cx="163.70" cy="281.50" r="3.85" fill="none" stroke="#e3b408" stroke-width="0.58"/>
<circle cx="164.10" cy="288.80" r="3.85" fill="none" stroke="#e3b407" stroke-width="0.58"/>
<circle cx="174.60" cy="252.30" r="3.85" fill="none" stroke="#e2a500" stroke-width="0.58"/>
<circle cx="174.60" cy="266.20" r="3.85" fill="none" stroke="#e2a500" stroke-width="0.58"/>
<circle cx="174.60" cy="275.70" r="3.85" fill="none" stroke="#e2a500" stroke-width="0.58"/>
<circle cx="180.50" cy="257.40" r="3.85" fill="none" stroke="#e59000" stroke-width="0.58"/>
<circle cx="180.50" cy="266.90" r="3.85" fill="none" stroke="#e59000" stroke-width="0.58"/>
<circle cx="180.50" cy="272.00" r="3.85" fill="none" stroke="#e59000" stroke-width="0.58"/>
<circle cx="180.50" cy="303.40" r="3.85" fill="none" stroke="#e59000" stroke-width="0.58"/>
<circle cx="203.80" cy="249.40" r="3.85" fill="none" stroke="#ee3f00" stroke-width="0.58"/>
<circle cx="208.90" cy="255.20" r="3.85" fill="none" stroke="#f02d00" stroke-width="0.58"/>
<circle cx="203.80" cy="261.10" r="3.85" fill="none" stroke="#ee3f00" stroke-width="0.58"/>
<circle cx="203.80" cy="266.90" r="3.85" fill="none" stroke="#ee3f00" stroke-width="0.58"/>
<circle cx="203.80" cy="269.80" r="3.85" fill="none" stroke="#ee3f00" stroke-width="0.58"/>
<circle cx="203.80" cy="273.50" r="3.85" fill="none" stroke="#ee3f00" stroke-width="0.58"/>
<circle cx="203.80" cy="277.80" r="3.85" fill="none" stroke="#ee3f00" stroke-width="0.58"/>
<circle cx="208.90" cy="263.20" r="3.85" fill="none" stroke="#f02d00" stroke-width="0.58"/>
<circle cx="208.90" cy="266.90" r="3.85" fill="none" stroke="#f02d00" stroke-width="0.58"/>
<circle cx="208.90" cy="270.50" r="3.85" fill="none" stroke="#f02d00" stroke-width="0.58"/>
<circle cx="208.90" cy="274.20" r="3.85" fill="none" stroke="#f02d00" stroke-width="0.58"/>
<circle cx="208.90" cy="277.10" r="3.85" fill="none" stroke="#f02d00" stroke-width="0.58"/>
<circle cx="208.90" cy="280.80" r="3.85" fill="none" stroke="#f02d00" stroke-width="0.58"/>
<circle cx="213.30" cy="247.20" r="3.85" fill="none" stroke="#f21e00" stroke-width="0.58"/>
<circle cx="213.30" cy="269.10" r="3.85" fill="none" stroke="#f21e00" stroke-width="0.58"/>
<circle cx="203.80" cy="310.70" r="3.85" fill="none" stroke="#ee3f00" stroke-width="0.58"/>
<line x1="43.2" y1="228.3" x2="213.3" y2="266.9" stroke="#3366ff" stroke-width="1.4"/>

</svg>
<text x="218.60" y="185.90" font-size="9.0" text-anchor="end" font-weight="normal" fill="#000">Rho = −0.38 ***</text>
<line x1="33.5" y1="175.0" x2="33.5" y2="318.0" stroke="#777777" stroke-width="1"/>
<line x1="223.5" y1="175.0" x2="223.5" y2="318.0" stroke="#808080" stroke-width="1"/>
<line x1="33.0" y1="175.5" x2="224.0" y2="175.5" stroke="#666666" stroke-width="1"/>
<line x1="33.0" y1="317.5" x2="224.0" y2="317.5" stroke="#888888" stroke-width="1"/>
<text x="230.60" y="175.80" font-size="8.2" text-anchor="start" font-weight="bold" fill="#000">E</text>
<line x1="294.5" y1="318.0" x2="294.5" y2="320.3" stroke="#555" stroke-width="0.9"/>
<text x="294.50" y="329.10" font-size="10.8" text-anchor="middle" font-weight="normal" fill="#111">0</text>
<line x1="334.2" y1="318.0" x2="334.2" y2="320.3" stroke="#555" stroke-width="0.9"/>
<text x="334.20" y="329.10" font-size="10.8" text-anchor="middle" font-weight="normal" fill="#111">1</text>
<line x1="373.8" y1="318.0" x2="373.8" y2="320.3" stroke="#555" stroke-width="0.9"/>
<text x="373.80" y="329.10" font-size="10.8" text-anchor="middle" font-weight="normal" fill="#111">2</text>
<line x1="413.5" y1="318.0" x2="413.5" y2="320.3" stroke="#555" stroke-width="0.9"/>
<text x="413.50" y="329.10" font-size="10.8" text-anchor="middle" font-weight="normal" fill="#111">3</text>
<line x1="258.2" y1="202.2" x2="260.0" y2="202.2" stroke="#555" stroke-width="0.9"/>
<text x="257.70" y="206.20" font-size="10.8" text-anchor="end" font-weight="normal" fill="#111">4.5</text>
<line x1="258.2" y1="241.7" x2="260.0" y2="241.7" stroke="#555" stroke-width="0.9"/>
<text x="257.70" y="245.70" font-size="10.8" text-anchor="end" font-weight="normal" fill="#111">4.0</text>
<line x1="258.2" y1="281.4" x2="260.0" y2="281.4" stroke="#555" stroke-width="0.9"/>
<text x="257.70" y="285.40" font-size="10.8" text-anchor="end" font-weight="normal" fill="#111">3.5</text>
<text x="357.00" y="340.70" font-size="10.8" text-anchor="middle" font-weight="normal" fill="#000">Distance</text>
<text x="238.50" y="246.50" font-size="10.8" text-anchor="middle" font-weight="normal" fill="#000" transform="rotate(-90 238.50 246.50)">Bacterial Shannon Diversity</text>
<svg x="260.5" y="175.5" width="193.0" height="142.0" viewBox="260.5 175.5 193.0 142.0" overflow="hidden">
<line x1="270.50" y1="191.10" x2="270.50" y2="205.70" stroke="#a0a0a0" stroke-width="0.7"/>
<line x1="270.50" y1="221.70" x2="270.50" y2="224.60" stroke="#a0a0a0" stroke-width="0.7"/>
<rect x="269.00" y="205.70" width="3.00" height="16.00" fill="none" stroke="#a0a0a0" stroke-width="0.6"/>
<line x1="269.00" y1="216.60" x2="272.00" y2="216.60" stroke="#a0a0a0" stroke-width="0.6"/>
<line x1="282.43" y1="199.80" x2="282.43" y2="205.68" stroke="#a0a0a0" stroke-width="0.7"/>
<line x1="282.43" y1="226.45" x2="282.43" y2="236.30" stroke="#a0a0a0" stroke-width="0.7"/>
<rect x="280.93" y="205.68" width="3.00" height="20.77" fill="none" stroke="#a0a0a0" stroke-width="0.6"/>
<line x1="280.93" y1="212.95" x2="283.93" y2="212.95" stroke="#a0a0a0" stroke-width="0.6"/>
<line x1="288.50" y1="180.80" x2="288.50" y2="185.95" stroke="#a0a0a0" stroke-width="0.7"/>
<line x1="288.50" y1="197.60" x2="288.50" y2="199.80" stroke="#a0a0a0" stroke-width="0.7"/>
<rect x="287.00" y="185.95" width="3.00" height="11.65" fill="none" stroke="#a0a0a0" stroke-width="0.6"/>
<line x1="287.00" y1="190.30" x2="290.00" y2="190.30" stroke="#a0a0a0" stroke-width="0.6"/>
<line x1="294.59" y1="183.00" x2="294.59" y2="200.90" stroke="#a0a0a0" stroke-width="0.7"/>
<line x1="294.59" y1="223.90" x2="294.59" y2="235.60" stroke="#a0a0a0" stroke-width="0.7"/>
<rect x="293.09" y="200.90" width="3.00" height="23.00" fill="none" stroke="#a0a0a0" stroke-width="0.6"/>
<line x1="293.09" y1="209.30" x2="296.09" y2="209.30" stroke="#a0a0a0" stroke-width="0.6"/>
<line x1="313.70" y1="190.30" x2="313.70" y2="200.90" stroke="#a0a0a0" stroke-width="0.7"/>
<line x1="313.70" y1="218.40" x2="313.70" y2="227.60" stroke="#a0a0a0" stroke-width="0.7"/>
<rect x="312.20" y="200.90" width="3.00" height="17.50" fill="none" stroke="#a0a0a0" stroke-width="0.6"/>
<line x1="312.20" y1="213.70" x2="315.20" y2="213.70" stroke="#a0a0a0" stroke-width="0.6"/>
<line x1="334.50" y1="218.10" x2="334.50" y2="218.10" stroke="#a0a0a0" stroke-width="0.7"/>
<line x1="334.50" y1="223.20" x2="334.50" y2="223.20" stroke="#a0a0a0" stroke-width="0.7"/>
<rect x="333.00" y="218.10" width="3.00" height="5.10" fill="none" stroke="#a0a0a0" stroke-width="0.6"/>
<line x1="333.00" y1="221.00" x2="336.00" y2="221.00" stroke="#a0a0a0" stroke-width="0.6"/>
<line x1="354.90" y1="202.70" x2="354.90" y2="210.00" stroke="#a0a0a0" stroke-width="0.7"/>
<line x1="354.90" y1="243.60" x2="354.90" y2="264.00" stroke="#a0a0a0" stroke-width="0.7"/>
<rect x="353.40" y="210.00" width="3.00" height="33.60" fill="none" stroke="#a0a0a0" stroke-width="0.6"/>
<line x1="353.40" y1="224.60" x2="356.40" y2="224.60" stroke="#a0a0a0" stroke-width="0.6"/>
<line x1="372.50" y1="232.70" x2="372.50" y2="238.18" stroke="#a0a0a0" stroke-width="0.7"/>
<line x1="372.50" y1="257.60" x2="372.50" y2="277.80" stroke="#a0a0a0" stroke-width="0.7"/>
<rect x="371.00" y="238.18" width="3.00" height="19.43" fill="none" stroke="#a0a0a0" stroke-width="0.6"/>
<line x1="371.00" y1="249.80" x2="374.00" y2="249.80" stroke="#a0a0a0" stroke-width="0.6"/>
<line x1="381.30" y1="237.00" x2="381.30" y2="258.55" stroke="#a0a0a0" stroke-width="0.7"/>
<line x1="381.30" y1="281.45" x2="381.30" y2="288.80" stroke="#a0a0a0" stroke-width="0.7"/>
<rect x="379.80" y="258.55" width="3.00" height="22.90" fill="none" stroke="#a0a0a0" stroke-width="0.6"/>
<line x1="379.80" y1="268.35" x2="382.80" y2="268.35" stroke="#a0a0a0" stroke-width="0.6"/>
<line x1="386.40" y1="229.00" x2="386.40" y2="267.60" stroke="#a0a0a0" stroke-width="0.7"/>
<line x1="386.40" y1="298.30" x2="386.40" y2="301.20" stroke="#a0a0a0" stroke-width="0.7"/>
<rect x="384.90" y="267.60" width="3.00" height="30.70" fill="none" stroke="#a0a0a0" stroke-width="0.6"/>
<line x1="384.90" y1="270.50" x2="387.90" y2="270.50" stroke="#a0a0a0" stroke-width="0.6"/>
<line x1="392.80" y1="226.80" x2="392.80" y2="240.90" stroke="#a0a0a0" stroke-width="0.7"/>
<line x1="392.80" y1="262.12" x2="392.80" y2="288.80" stroke="#a0a0a0" stroke-width="0.7"/>
<rect x="391.30" y="240.90" width="3.00" height="21.22" fill="none" stroke="#a0a0a0" stroke-width="0.6"/>
<line x1="391.30" y1="252.65" x2="394.30" y2="252.65" stroke="#a0a0a0" stroke-width="0.6"/>
<line x1="403.90" y1="192.50" x2="403.90" y2="231.38" stroke="#a0a0a0" stroke-width="0.7"/>
<line x1="403.90" y1="262.30" x2="403.90" y2="288.10" stroke="#a0a0a0" stroke-width="0.7"/>
<rect x="402.40" y="231.38" width="3.00" height="30.93" fill="none" stroke="#a0a0a0" stroke-width="0.6"/>
<line x1="402.40" y1="247.60" x2="405.40" y2="247.60" stroke="#a0a0a0" stroke-width="0.6"/>
<line x1="410.20" y1="202.00" x2="410.20" y2="220.95" stroke="#a0a0a0" stroke-width="0.7"/>
<line x1="410.20" y1="260.75" x2="410.20" y2="285.90" stroke="#a0a0a0" stroke-width="0.7"/>
<rect x="408.70" y="220.95" width="3.00" height="39.80" fill="none" stroke="#a0a0a0" stroke-width="0.6"/>
<line x1="408.70" y1="234.90" x2="411.70" y2="234.90" stroke="#a0a0a0" stroke-width="0.6"/>
<line x1="433.80" y1="232.70" x2="433.80" y2="244.30" stroke="#a0a0a0" stroke-width="0.7"/>
<line x1="433.80" y1="264.70" x2="433.80" y2="275.70" stroke="#a0a0a0" stroke-width="0.7"/>
<rect x="432.30" y="244.30" width="3.00" height="20.40" fill="none" stroke="#a0a0a0" stroke-width="0.6"/>
<line x1="432.30" y1="250.80" x2="435.30" y2="250.80" stroke="#a0a0a0" stroke-width="0.6"/>
<line x1="438.90" y1="235.60" x2="438.90" y2="251.60" stroke="#a0a0a0" stroke-width="0.7"/>
<line x1="438.90" y1="272.70" x2="438.90" y2="288.50" stroke="#a0a0a0" stroke-width="0.7"/>
<rect x="437.40" y="251.60" width="3.00" height="21.10" fill="none" stroke="#a0a0a0" stroke-width="0.6"/>
<line x1="437.40" y1="261.10" x2="440.40" y2="261.10" stroke="#a0a0a0" stroke-width="0.6"/>
<line x1="443.30" y1="194.70" x2="443.30" y2="205.65" stroke="#a0a0a0" stroke-width="0.7"/>
<line x1="443.30" y1="218.05" x2="443.30" y2="218.80" stroke="#a0a0a0" stroke-width="0.7"/>
<rect x="441.80" y="205.65" width="3.00" height="12.40" fill="none" stroke="#a0a0a0" stroke-width="0.6"/>
<line x1="441.80" y1="210.80" x2="444.80" y2="210.80" stroke="#a0a0a0" stroke-width="0.6"/>
<circle cx="270.50" cy="191.10" r="3.85" fill="none" stroke="#3b9ab2" stroke-width="0.58"/>
<circle cx="270.50" cy="193.20" r="3.85" fill="none" stroke="#3b9ab2" stroke-width="0.58"/>
<circle cx="270.50" cy="205.70" r="3.85" fill="none" stroke="#3b9ab2" stroke-width="0.58"/>
<circle cx="270.50" cy="207.80" r="3.85" fill="none" stroke="#3b9ab2" stroke-width="0.58"/>
<circle cx="270.50" cy="216.60" r="3.85" fill="none" stroke="#3b9ab2" stroke-width="0.58"/>
<circle cx="270.50" cy="218.80" r="3.85" fill="none" stroke="#3b9ab2" stroke-width="0.58"/>
<circle cx="270.50" cy="221.70" r="3.85" fill="none" stroke="#3b9ab2" stroke-width="0.58"/>
<circle cx="270.50" cy="224.60" r="3.85" fill="none" stroke="#3b9ab2" stroke-width="0.58"/>
<circle cx="282.60" cy="199.80" r="3.85" fill="none" stroke="#4ca2b7" stroke-width="0.58"/>
<circle cx="282.60" cy="203.50" r="3.85" fill="none" stroke="#4ca2b7" stroke-width="0.58"/>
<circle cx="282.60" cy="206.40" r="3.85" fill="none" stroke="#4ca2b7" stroke-width="0.58"/>
<circle cx="281.90" cy="211.50" r="3.85" fill="none" stroke="#4ba2b7" stroke-width="0.58"/>
<circle cx="282.60" cy="214.40" r="3.85" fill="none" stroke="#4ca2b7" stroke-width="0.58"/>
<circle cx="281.90" cy="223.90" r="3.85" fill="none" stroke="#4ba2b7" stroke-width="0.58"/>
<circle cx="282.60" cy="234.10" r="3.85" fill="none" stroke="#4ca2b7" stroke-width="0.58"/>
<circle cx="282.60" cy="236.30" r="3.85" fill="none" stroke="#4ca2b7" stroke-width="0.58"/>
<circle cx="288.50" cy="180.80" r="3.85" fill="none" stroke="#55a6ba" stroke-width="0.58"/>
<circle cx="288.50" cy="183.00" r="3.85" fill="none" stroke="#55a6ba" stroke-width="0.58"/>
<circle cx="288.50" cy="188.90" r="3.85" fill="none" stroke="#55a6ba" stroke-width="0.58"/>
<circle cx="288.50" cy="190.30" r="3.85" fill="none" stroke="#55a6ba" stroke-width="0.58"/>
<circle cx="288.50" cy="195.40" r="3.85" fill="none" stroke="#55a6ba" stroke-width="0.58"/>
<circle cx="288.50" cy="199.80" r="3.85" fill="none" stroke="#55a6ba" stroke-width="0.58"/>
<circle cx="288.50" cy="224.60" r="3.85" fill="none" stroke="#55a6ba" stroke-width="0.58"/>
<circle cx="294.70" cy="183.00" r="3.85" fill="none" stroke="#5daabd" stroke-width="0.58"/>
<circle cx="294.70" cy="195.40" r="3.85" fill="none" stroke="#5daabd" stroke-width="0.58"/>
<circle cx="294.30" cy="206.40" r="3.85" fill="none" stroke="#5daabd" stroke-width="0.58"/>
<circle cx="294.30" cy="209.30" r="3.85" fill="none" stroke="#5daabd" stroke-width="0.58"/>
<circle cx="294.70" cy="218.10" r="3.85" fill="none" stroke="#5daabd" stroke-width="0.58"/>
<circle cx="294.70" cy="229.70" r="3.85" fill="none" stroke="#5daabd" stroke-width="0.58"/>
<circle cx="294.70" cy="235.60" r="3.85" fill="none" stroke="#5daabd" stroke-width="0.58"/>
<circle cx="313.70" cy="190.30" r="3.85" fill="none" stroke="#78b7c5" stroke-width="0.58"/>
<circle cx="313.70" cy="194.00" r="3.85" fill="none" stroke="#78b7c5" stroke-width="0.58"/>
<circle cx="313.70" cy="207.80" r="3.85" fill="none" stroke="#78b7c5" stroke-width="0.58"/>
<circle cx="313.70" cy="213.70" r="3.85" fill="none" stroke="#78b7c5" stroke-width="0.58"/>
<circle cx="313.70" cy="214.40" r="3.85" fill="none" stroke="#78b7c5" stroke-width="0.58"/>
<circle cx="313.70" cy="222.40" r="3.85" fill="none" stroke="#78b7c5" stroke-width="0.58"/>
<circle cx="313.70" cy="227.60" r="3.85" fill="none" stroke="#78b7c5" stroke-width="0.58"/>
<circle cx="334.50" cy="207.40" r="3.85" fill="none" stroke="#afc17b" stroke-width="0.58"/>
<circle cx="334.50" cy="218.10" r="3.85" fill="none" stroke="#afc17b" stroke-width="0.58"/>
<circle cx="334.50" cy="221.00" r="3.85" fill="none" stroke="#afc17b" stroke-width="0.58"/>
<circle cx="334.50" cy="223.20" r="3.85" fill="none" stroke="#afc17b" stroke-width="0.58"/>
<circle cx="334.50" cy="247.30" r="3.85" fill="none" stroke="#afc17b" stroke-width="0.58"/>
<circle cx="354.90" cy="202.70" r="3.85" fill="none" stroke="#e5cb32" stroke-width="0.58"/>
<circle cx="354.90" cy="204.90" r="3.85" fill="none" stroke="#e5cb32" stroke-width="0.58"/>
<circle cx="354.90" cy="210.00" r="3.85" fill="none" stroke="#e5cb32" stroke-width="0.58"/>
<circle cx="354.90" cy="219.50" r="3.85" fill="none" stroke="#e5cb32" stroke-width="0.58"/>
<circle cx="354.90" cy="224.60" r="3.85" fill="none" stroke="#e5cb32" stroke-width="0.58"/>
<circle cx="354.90" cy="238.50" r="3.85" fill="none" stroke="#e5cb32" stroke-width="0.58"/>
<circle cx="354.90" cy="243.60" r="3.85" fill="none" stroke="#e5cb32" stroke-width="0.58"/>
<circle cx="372.50" cy="232.70" r="3.85" fill="none" stroke="#e7c21b" stroke-width="0.58"/>
<circle cx="372.50" cy="234.90" r="3.85" fill="none" stroke="#e7c21b" stroke-width="0.58"/>
<circle cx="372.50" cy="248.00" r="3.85" fill="none" stroke="#e7c21b" stroke-width="0.58"/>
<circle cx="381.30" cy="237.00" r="3.85" fill="none" stroke="#e5bc13" stroke-width="0.58"/>
<circle cx="386.40" cy="229.00" r="3.85" fill="none" stroke="#e4b80e" stroke-width="0.58"/>
<circle cx="392.70" cy="226.80" r="3.85" fill="none" stroke="#e3b408" stroke-width="0.58"/>
<circle cx="392.70" cy="236.30" r="3.85" fill="none" stroke="#e3b408" stroke-width="0.58"/>
<circle cx="392.70" cy="240.00" r="3.85" fill="none" stroke="#e3b408" stroke-width="0.58"/>
<circle cx="392.70" cy="243.60" r="3.85" fill="none" stroke="#e3b408" stroke-width="0.58"/>
<circle cx="403.90" cy="192.50" r="3.85" fill="none" stroke="#e2a300" stroke-width="0.58"/>
<circle cx="403.90" cy="223.20" r="3.85" fill="none" stroke="#e2a300" stroke-width="0.58"/>
<circle cx="403.90" cy="234.10" r="3.85" fill="none" stroke="#e2a300" stroke-width="0.58"/>
<circle cx="403.90" cy="245.10" r="3.85" fill="none" stroke="#e2a300" stroke-width="0.58"/>
<circle cx="410.20" cy="202.00" r="3.85" fill="none" stroke="#e58e00" stroke-width="0.58"/>
<circle cx="410.20" cy="217.30" r="3.85" fill="none" stroke="#e58e00" stroke-width="0.58"/>
<circle cx="410.20" cy="224.60" r="3.85" fill="none" stroke="#e58e00" stroke-width="0.58"/>
<circle cx="410.20" cy="234.90" r="3.85" fill="none" stroke="#e58e00" stroke-width="0.58"/>
<circle cx="410.20" cy="245.80" r="3.85" fill="none" stroke="#e58e00" stroke-width="0.58"/>
<circle cx="443.30" cy="194.70" r="3.85" fill="none" stroke="#f21c00" stroke-width="0.58"/>
<circle cx="443.30" cy="204.90" r="3.85" fill="none" stroke="#f21c00" stroke-width="0.58"/>
<circle cx="443.30" cy="206.40" r="3.85" fill="none" stroke="#f21c00" stroke-width="0.58"/>
<circle cx="443.30" cy="210.80" r="3.85" fill="none" stroke="#f21c00" stroke-width="0.58"/>
<circle cx="443.30" cy="217.30" r="3.85" fill="none" stroke="#f21c00" stroke-width="0.58"/>
<circle cx="443.30" cy="218.80" r="3.85" fill="none" stroke="#f21c00" stroke-width="0.58"/>
<circle cx="433.80" cy="232.70" r="3.85" fill="none" stroke="#ee3d00" stroke-width="0.58"/>
<circle cx="438.90" cy="235.60" r="3.85" fill="none" stroke="#f02b00" stroke-width="0.58"/>
<circle cx="433.80" cy="244.30" r="3.85" fill="none" stroke="#ee3d00" stroke-width="0.58"/>
<circle cx="443.30" cy="243.60" r="3.85" fill="none" stroke="#f21c00" stroke-width="0.58"/>
<circle cx="270.50" cy="276.00" r="3.85" fill="none" stroke="#3b9ab2" stroke-width="0.58"/>
<circle cx="354.90" cy="255.50" r="3.85" fill="none" stroke="#e5cb32" stroke-width="0.58"/>
<circle cx="354.90" cy="264.00" r="3.85" fill="none" stroke="#e5cb32" stroke-width="0.58"/>
<circle cx="372.50" cy="251.60" r="3.85" fill="none" stroke="#e7c21b" stroke-width="0.58"/>
<circle cx="372.50" cy="259.60" r="3.85" fill="none" stroke="#e7c21b" stroke-width="0.58"/>
<circle cx="372.50" cy="277.80" r="3.85" fill="none" stroke="#e7c21b" stroke-width="0.58"/>
<circle cx="381.30" cy="256.00" r="3.85" fill="none" stroke="#e5bc13" stroke-width="0.58"/>
<circle cx="381.30" cy="266.20" r="3.85" fill="none" stroke="#e5bc13" stroke-width="0.58"/>
<circle cx="381.30" cy="270.50" r="3.85" fill="none" stroke="#e5bc13" stroke-width="0.58"/>
<circle cx="381.30" cy="285.10" r="3.85" fill="none" stroke="#e5bc13" stroke-width="0.58"/>
<circle cx="381.30" cy="288.80" r="3.85" fill="none" stroke="#e5bc13" stroke-width="0.58"/>
<circle cx="386.40" cy="267.60" r="3.85" fill="none" stroke="#e4b80e" stroke-width="0.58"/>
<circle cx="386.40" cy="270.50" r="3.85" fill="none" stroke="#e4b80e" stroke-width="0.58"/>
<circle cx="386.40" cy="298.30" r="3.85" fill="none" stroke="#e4b80e" stroke-width="0.58"/>
<circle cx="386.40" cy="301.20" r="3.85" fill="none" stroke="#e4b80e" stroke-width="0.58"/>
<circle cx="392.70" cy="250.80" r="3.85" fill="none" stroke="#e3b408" stroke-width="0.58"/>
<circle cx="392.70" cy="254.50" r="3.85" fill="none" stroke="#e3b408" stroke-width="0.58"/>
<circle cx="392.70" cy="258.90" r="3.85" fill="none" stroke="#e3b408" stroke-width="0.58"/>
<circle cx="393.70" cy="263.20" r="3.85" fill="none" stroke="#e3b407" stroke-width="0.58"/>
<circle cx="392.70" cy="269.10" r="3.85" fill="none" stroke="#e3b408" stroke-width="0.58"/>
<circle cx="392.70" cy="288.80" r="3.85" fill="none" stroke="#e3b408" stroke-width="0.58"/>
<circle cx="403.90" cy="250.10" r="3.85" fill="none" stroke="#e2a300" stroke-width="0.58"/>
<circle cx="403.90" cy="258.10" r="3.85" fill="none" stroke="#e2a300" stroke-width="0.58"/>
<circle cx="403.90" cy="274.90" r="3.85" fill="none" stroke="#e2a300" stroke-width="0.58"/>
<circle cx="403.90" cy="288.10" r="3.85" fill="none" stroke="#e2a300" stroke-width="0.58"/>
<circle cx="410.20" cy="275.70" r="3.85" fill="none" stroke="#e58e00" stroke-width="0.58"/>
<circle cx="410.20" cy="285.90" r="3.85" fill="none" stroke="#e58e00" stroke-width="0.58"/>
<circle cx="433.80" cy="250.80" r="3.85" fill="none" stroke="#ee3d00" stroke-width="0.58"/>
<circle cx="433.80" cy="264.70" r="3.85" fill="none" stroke="#ee3d00" stroke-width="0.58"/>
<circle cx="433.80" cy="275.70" r="3.85" fill="none" stroke="#ee3d00" stroke-width="0.58"/>
<circle cx="433.80" cy="310.70" r="3.85" fill="none" stroke="#ee3d00" stroke-width="0.58"/>
<circle cx="438.90" cy="251.60" r="3.85" fill="none" stroke="#f02b00" stroke-width="0.58"/>
<circle cx="438.90" cy="261.10" r="3.85" fill="none" stroke="#f02b00" stroke-width="0.58"/>
<circle cx="438.90" cy="272.70" r="3.85" fill="none" stroke="#f02b00" stroke-width="0.58"/>
<circle cx="438.90" cy="288.50" r="3.85" fill="none" stroke="#f02b00" stroke-width="0.58"/>
<line x1="270.9" y1="211.5" x2="443.3" y2="256.7" stroke="#3366ff" stroke-width="1.4"/>
<defs><linearGradient id="zg" x1="0" x2="1" y1="0" y2="0"><stop offset="0" stop-color="#3B9AB2"/><stop offset="0.25" stop-color="#78B7C5"/><stop offset="0.5" stop-color="#EBCC2A"/><stop offset="0.75" stop-color="#E1AF00"/><stop offset="1" stop-color="#F21A00"/></linearGradient></defs><rect x="312.6" y="288.8" width="55.2" height="11.2" fill="url(#zg)"/><line x1="320.3" y1="288.8" x2="320.3" y2="291" stroke="#fff" stroke-width="0.6"/><line x1="320.3" y1="297.8" x2="320.3" y2="300" stroke="#fff" stroke-width="0.6"/><text x="320.3" y="308" font-size="6.3" fill="#333" text-anchor="middle">0</text><line x1="333" y1="288.8" x2="333" y2="291" stroke="#fff" stroke-width="0.6"/><line x1="333" y1="297.8" x2="333" y2="300" stroke="#fff" stroke-width="0.6"/><text x="333" y="308" font-size="6.3" fill="#333" text-anchor="middle">1</text><line x1="345.4" y1="288.8" x2="345.4" y2="291" stroke="#fff" stroke-width="0.6"/><line x1="345.4" y1="297.8" x2="345.4" y2="300" stroke="#fff" stroke-width="0.6"/><text x="345.4" y="308" font-size="6.3" fill="#333" text-anchor="middle">2</text><line x1="357.8" y1="288.8" x2="357.8" y2="291" stroke="#fff" stroke-width="0.6"/><line x1="357.8" y1="297.8" x2="357.8" y2="300" stroke="#fff" stroke-width="0.6"/><text x="357.8" y="308" font-size="6.3" fill="#333" text-anchor="middle">3</text><text x="265.3" y="301.6" font-size="7.6" fill="#222">Logdistance</text>
</svg>
<text x="449.70" y="185.90" font-size="9.0" text-anchor="end" font-weight="normal" fill="#000">Rho = 0.43 **</text>
<line x1="260.5" y1="175.0" x2="260.5" y2="318.0" stroke="#777777" stroke-width="1"/>
<line x1="453.5" y1="175.0" x2="453.5" y2="318.0" stroke="#666666" stroke-width="1"/>
<line x1="260.0" y1="175.5" x2="454.0" y2="175.5" stroke="#777777" stroke-width="1"/>
<line x1="260.0" y1="317.5" x2="454.0" y2="317.5" stroke="#777777" stroke-width="1"/>
<text x="460.20" y="175.90" font-size="8.2" text-anchor="start" font-weight="bold" fill="#000">F</text>
<line x1="541.1" y1="318.0" x2="541.1" y2="320.3" stroke="#555" stroke-width="0.9"/>
<text x="541.10" y="329.10" font-size="10.8" text-anchor="middle" font-weight="normal" fill="#111">−1</text>
<line x1="594.2" y1="318.0" x2="594.2" y2="320.3" stroke="#555" stroke-width="0.9"/>
<text x="594.20" y="329.10" font-size="10.8" text-anchor="middle" font-weight="normal" fill="#111">0</text>
<line x1="647.6" y1="318.0" x2="647.6" y2="320.3" stroke="#555" stroke-width="0.9"/>
<text x="647.60" y="329.10" font-size="10.8" text-anchor="middle" font-weight="normal" fill="#111">1</text>
<line x1="485.2" y1="181.8" x2="487.0" y2="181.8" stroke="#555" stroke-width="0.9"/>
<text x="484.70" y="185.80" font-size="10.8" text-anchor="end" font-weight="normal" fill="#111">2</text>
<line x1="485.2" y1="218.3" x2="487.0" y2="218.3" stroke="#555" stroke-width="0.9"/>
<text x="484.70" y="222.30" font-size="10.8" text-anchor="end" font-weight="normal" fill="#111">1</text>
<line x1="485.2" y1="254.8" x2="487.0" y2="254.8" stroke="#555" stroke-width="0.9"/>
<text x="484.70" y="258.80" font-size="10.8" text-anchor="end" font-weight="normal" fill="#111">0</text>
<line x1="485.2" y1="291.3" x2="487.0" y2="291.3" stroke="#555" stroke-width="0.9"/>
<text x="484.70" y="295.30" font-size="10.8" text-anchor="end" font-weight="normal" fill="#111">−1</text>
<text x="585.50" y="340.70" font-size="10.8" text-anchor="middle" font-weight="normal" fill="#000">NMDS1</text>
<text x="468.30" y="246.50" font-size="10.8" text-anchor="middle" font-weight="normal" fill="#000" transform="rotate(-90 468.30 246.50)">NMDS2</text>
<svg x="487.5" y="175.5" width="196.0" height="142.0" viewBox="487.5 175.5 196.0 142.0" overflow="hidden">
<circle cx="522.30" cy="214.70" r="3.95" fill="#e2b40a"/>
<circle cx="522.80" cy="231.20" r="3.95" fill="#e2b40a"/>
<circle cx="528.60" cy="231.90" r="3.95" fill="#e2b40a"/>
<circle cx="534.00" cy="225.80" r="3.95" fill="#e2b40a"/>
<circle cx="535.20" cy="230.50" r="3.95" fill="#e2b40a"/>
<circle cx="533.70" cy="234.10" r="3.95" fill="#e2b40a"/>
<circle cx="526.10" cy="242.90" r="3.95" fill="#e2b40a"/>
<circle cx="527.90" cy="247.30" r="3.95" fill="#f02400"/>
<circle cx="535.90" cy="241.00" r="3.95" fill="#f02400"/>
<circle cx="548.30" cy="229.70" r="3.95" fill="#f02400"/>
<circle cx="549.80" cy="233.40" r="3.95" fill="#f02400"/>
<circle cx="551.20" cy="237.00" r="3.95" fill="#f02400"/>
<circle cx="555.60" cy="241.40" r="3.95" fill="#f02400"/>
<circle cx="558.80" cy="230.80" r="3.95" fill="#f02400"/>
<circle cx="565.80" cy="245.10" r="3.95" fill="#ef4000"/>
<circle cx="551.20" cy="246.50" r="3.95" fill="#e2b40a"/>
<circle cx="577.50" cy="212.70" r="3.95" fill="#e2b40a"/>
<circle cx="582.60" cy="212.20" r="3.95" fill="#e2b40a"/>
<circle cx="579.00" cy="216.60" r="3.95" fill="#e2b40a"/>
<circle cx="583.40" cy="229.70" r="3.95" fill="#e2b40a"/>
<circle cx="586.30" cy="224.60" r="3.95" fill="#e2b40a"/>
<circle cx="624.70" cy="188.90" r="3.95" fill="#f02400"/>
<circle cx="615.70" cy="198.40" r="3.95" fill="#f02400"/>
<circle cx="612.70" cy="204.20" r="3.95" fill="#f02400"/>
<circle cx="622.20" cy="196.90" r="3.95" fill="#f02400"/>
<circle cx="628.10" cy="199.80" r="3.95" fill="#f02400"/>
<circle cx="628.80" cy="202.70" r="3.95" fill="#f02400"/>
<circle cx="633.90" cy="204.90" r="3.95" fill="#f02400"/>
<circle cx="623.70" cy="208.60" r="3.95" fill="#f02400"/>
<circle cx="597.80" cy="212.20" r="3.95" fill="#e2b40a"/>
<circle cx="587.90" cy="225.40" r="3.95" fill="#e2b40a"/>
<circle cx="596.70" cy="228.30" r="3.95" fill="#e2b40a"/>
<circle cx="598.90" cy="231.20" r="3.95" fill="#e2b40a"/>
<circle cx="604.70" cy="224.60" r="3.95" fill="#e2b40a"/>
<circle cx="606.90" cy="222.40" r="3.95" fill="#e2b40a"/>
<circle cx="624.40" cy="228.30" r="3.95" fill="#e6c92c"/>
<circle cx="576.70" cy="230.80" r="3.95" fill="#e2b40a"/>
<circle cx="582.50" cy="229.70" r="3.95" fill="#e2b40a"/>
<circle cx="587.80" cy="226.20" r="3.95" fill="#e2b40a"/>
<circle cx="596.50" cy="228.50" r="3.95" fill="#e6c92c"/>
<circle cx="598.30" cy="230.80" r="3.95" fill="#e6c92c"/>
<circle cx="605.90" cy="226.20" r="3.95" fill="#e6c92c"/>
<circle cx="596.00" cy="238.40" r="3.95" fill="#e48d0c"/>
<circle cx="590.10" cy="243.10" r="3.95" fill="#aac07e"/>
<circle cx="589.50" cy="246.60" r="3.95" fill="#aac07e"/>
<circle cx="600.00" cy="241.40" r="3.95" fill="#e6c92c"/>
<circle cx="605.30" cy="240.80" r="3.95" fill="#e6c92c"/>
<circle cx="604.10" cy="246.00" r="3.95" fill="#e6c92c"/>
<circle cx="608.20" cy="248.90" r="3.95" fill="#e6c92c"/>
<circle cx="614.00" cy="249.50" r="3.95" fill="#e6c92c"/>
<circle cx="598.90" cy="250.70" r="3.95" fill="#e6c92c"/>
<circle cx="603.50" cy="253.00" r="3.95" fill="#e48d0c"/>
<circle cx="587.80" cy="252.40" r="3.95" fill="#e48d0c"/>
<circle cx="595.90" cy="256.50" r="3.95" fill="#e48d0c"/>
<circle cx="579.00" cy="251.90" r="3.95" fill="#aac07e"/>
<circle cx="618.70" cy="237.80" r="3.95" fill="#aac07e"/>
<circle cx="624.00" cy="236.10" r="3.95" fill="#aac07e"/>
<circle cx="632.20" cy="240.80" r="3.95" fill="#e48d0c"/>
<circle cx="626.90" cy="246.00" r="3.95" fill="#e48d0c"/>
<circle cx="622.80" cy="247.20" r="3.95" fill="#e48d0c"/>
<circle cx="653.60" cy="243.60" r="3.95" fill="#e48d0c"/>
<circle cx="596.70" cy="238.50" r="3.95" fill="#e48d0c"/>
<circle cx="510.10" cy="257.40" r="3.95" fill="#ef4000"/>
<circle cx="522.80" cy="261.80" r="3.95" fill="#e2b40a"/>
<circle cx="538.10" cy="259.60" r="3.95" fill="#ef4000"/>
<circle cx="542.50" cy="257.40" r="3.95" fill="#ef4000"/>
<circle cx="545.40" cy="261.10" r="3.95" fill="#ef4000"/>
<circle cx="551.20" cy="260.30" r="3.95" fill="#ef4000"/>
<circle cx="553.40" cy="256.00" r="3.95" fill="#ef4000"/>
<circle cx="546.90" cy="257.40" r="3.95" fill="#ef4000"/>
<circle cx="541.00" cy="277.40" r="3.95" fill="#f02400"/>
<circle cx="549.00" cy="276.00" r="3.95" fill="#e48d0c"/>
<circle cx="549.00" cy="280.80" r="3.95" fill="#e48d0c"/>
<circle cx="543.20" cy="287.00" r="3.95" fill="#e2b40a"/>
<circle cx="553.40" cy="289.50" r="3.95" fill="#e48d0c"/>
<circle cx="515.90" cy="290.50" r="3.95" fill="#e48d0c"/>
<circle cx="564.40" cy="275.70" r="3.95" fill="#e48d0c"/>
<circle cx="563.60" cy="280.00" r="3.95" fill="#e2b40a"/>
<circle cx="567.00" cy="286.30" r="3.95" fill="#e48d0c"/>
<circle cx="571.70" cy="295.40" r="3.95" fill="#e48d0c"/>
<circle cx="545.10" cy="300.50" r="3.95" fill="#e2b40a"/>
<circle cx="555.60" cy="299.70" r="3.95" fill="#e2b40a"/>
<circle cx="562.20" cy="299.70" r="3.95" fill="#e2b40a"/>
<circle cx="566.60" cy="303.40" r="3.95" fill="#e2b40a"/>
<circle cx="535.90" cy="306.30" r="3.95" fill="#e2b40a"/>
<circle cx="537.40" cy="311.40" r="3.95" fill="#e2b40a"/>
<circle cx="571.70" cy="264.70" r="3.95" fill="#e2b40a"/>
<circle cx="577.50" cy="266.60" r="3.95" fill="#e2b40a"/>
<circle cx="584.10" cy="263.20" r="3.95" fill="#e2b40a"/>
<circle cx="584.80" cy="268.40" r="3.95" fill="#e2b40a"/>
<circle cx="580.40" cy="277.10" r="3.95" fill="#e2b40a"/>
<circle cx="583.40" cy="274.90" r="3.95" fill="#e2b40a"/>
<circle cx="585.50" cy="299.70" r="3.95" fill="#e48d0c"/>
<circle cx="572.00" cy="264.70" r="3.95" fill="#e2b40a"/>
<circle cx="577.80" cy="266.50" r="3.95" fill="#e2b40a"/>
<circle cx="584.30" cy="262.40" r="3.95" fill="#e2b40a"/>
<circle cx="586.00" cy="266.50" r="3.95" fill="#e2b40a"/>
<circle cx="589.50" cy="270.00" r="3.95" fill="#e2b40a"/>
<circle cx="580.20" cy="277.00" r="3.95" fill="#e2b40a"/>
<circle cx="583.70" cy="275.20" r="3.95" fill="#e2b40a"/>
<circle cx="566.20" cy="275.20" r="3.95" fill="#e48d0c"/>
<circle cx="598.40" cy="271.30" r="3.95" fill="#aac07e"/>
<circle cx="617.60" cy="255.40" r="3.95" fill="#48a1b6"/>
<circle cx="626.60" cy="257.40" r="3.95" fill="#78b7c5"/>
<circle cx="631.70" cy="254.50" r="3.95" fill="#78b7c5"/>
<circle cx="635.40" cy="253.80" r="3.95" fill="#78b7c5"/>
<circle cx="640.50" cy="256.70" r="3.95" fill="#78b7c5"/>
<circle cx="637.80" cy="261.10" r="3.95" fill="#78b7c5"/>
<circle cx="627.30" cy="264.70" r="3.95" fill="#52a4b8"/>
<circle cx="626.30" cy="257.70" r="3.95" fill="#52a4b8"/>
<circle cx="633.90" cy="254.20" r="3.95" fill="#78b7c5"/>
<circle cx="639.70" cy="256.00" r="3.95" fill="#78b7c5"/>
<circle cx="638.00" cy="260.60" r="3.95" fill="#78b7c5"/>
<circle cx="611.30" cy="269.80" r="3.95" fill="#48a1b6"/>
<circle cx="614.90" cy="272.70" r="3.95" fill="#48a1b6"/>
<circle cx="609.10" cy="277.10" r="3.95" fill="#48a1b6"/>
<circle cx="617.80" cy="276.40" r="3.95" fill="#48a1b6"/>
<circle cx="620.80" cy="279.30" r="3.95" fill="#48a1b6"/>
<circle cx="610.50" cy="270.00" r="3.95" fill="#48a1b6"/>
<circle cx="615.20" cy="272.90" r="3.95" fill="#48a1b6"/>
<circle cx="608.80" cy="277.00" r="3.95" fill="#48a1b6"/>
<circle cx="618.70" cy="276.40" r="3.95" fill="#48a1b6"/>
<circle cx="621.10" cy="279.30" r="3.95" fill="#48a1b6"/>
<circle cx="622.20" cy="269.80" r="3.95" fill="#52a4b8"/>
<circle cx="626.60" cy="268.40" r="3.95" fill="#52a4b8"/>
<circle cx="628.80" cy="272.00" r="3.95" fill="#52a4b8"/>
<circle cx="628.10" cy="274.20" r="3.95" fill="#52a4b8"/>
<circle cx="633.20" cy="271.30" r="3.95" fill="#52a4b8"/>
<circle cx="636.10" cy="272.00" r="3.95" fill="#52a4b8"/>
<circle cx="626.90" cy="265.30" r="3.95" fill="#52a4b8"/>
<circle cx="623.40" cy="270.00" r="3.95" fill="#52a4b8"/>
<circle cx="630.40" cy="270.50" r="3.95" fill="#52a4b8"/>
<circle cx="636.20" cy="271.70" r="3.95" fill="#52a4b8"/>
<circle cx="624.40" cy="283.70" r="3.95" fill="#52a4b8"/>
<circle cx="628.10" cy="285.90" r="3.95" fill="#52a4b8"/>
<circle cx="621.50" cy="288.80" r="3.95" fill="#52a4b8"/>
<circle cx="620.00" cy="291.70" r="3.95" fill="#52a4b8"/>
<circle cx="625.70" cy="282.20" r="3.95" fill="#52a4b8"/>
<circle cx="642.10" cy="278.70" r="3.95" fill="#52a4b8"/>
<circle cx="635.80" cy="289.50" r="3.95" fill="#48a1b6"/>
<circle cx="643.10" cy="289.50" r="3.95" fill="#48a1b6"/>
<circle cx="642.70" cy="279.30" r="3.95" fill="#52a4b8"/>
<circle cx="650.40" cy="283.70" r="3.95" fill="#52a4b8"/>
<circle cx="658.70" cy="256.70" r="3.95" fill="#52a4b8"/>
<circle cx="662.40" cy="259.60" r="3.95" fill="#52a4b8"/>
<circle cx="662.40" cy="263.20" r="3.95" fill="#52a4b8"/>
<circle cx="657.30" cy="269.80" r="3.95" fill="#52a4b8"/>
<circle cx="672.60" cy="265.40" r="3.95" fill="#52a4b8"/>
<circle cx="671.10" cy="269.10" r="3.95" fill="#52a4b8"/>
<circle cx="674.80" cy="269.10" r="3.95" fill="#52a4b8"/>
<line x1="594.2" y1="254.8" x2="496.8" y2="181.4" stroke="#1a1aee" stroke-width="1.1"/><polyline points="496.9,184.6 496.5,181.1 499.9,181.3" fill="none" stroke="#1a1aee" stroke-width="1.1"/><text x="506" y="186.7" font-size="7.6" fill="#2222f0">Distance</text><text x="652.4" y="185.5" font-size="8.8" text-anchor="middle">Bacteria</text><text x="681" y="197.6" font-size="8.8" text-anchor="end">Stress = 0.246</text>
</svg>
<line x1="487.5" y1="175.0" x2="487.5" y2="318.0" stroke="#999999" stroke-width="1"/>
<line x1="683.5" y1="175.0" x2="683.5" y2="318.0" stroke="#6a6a6a" stroke-width="1"/>
<line x1="487.0" y1="175.5" x2="684.0" y2="175.5" stroke="#888888" stroke-width="1"/>
<line x1="487.0" y1="317.5" x2="684.0" y2="317.5" stroke="#888888" stroke-width="1"/>
<text x="0.80" y="355.90" font-size="8.2" text-anchor="start" font-weight="bold" fill="#000">G</text>
<line x1="61.8" y1="493.0" x2="61.8" y2="495.3" stroke="#555" stroke-width="0.9"/>
<text x="61.80" y="504.10" font-size="10.8" text-anchor="middle" font-weight="normal" fill="#111">0</text>
<line x1="102.4" y1="493.0" x2="102.4" y2="495.3" stroke="#555" stroke-width="0.9"/>
<text x="102.40" y="504.10" font-size="10.8" text-anchor="middle" font-weight="normal" fill="#111">1</text>
<line x1="142.9" y1="493.0" x2="142.9" y2="495.3" stroke="#555" stroke-width="0.9"/>
<text x="142.90" y="504.10" font-size="10.8" text-anchor="middle" font-weight="normal" fill="#111">2</text>
<line x1="183.4" y1="493.0" x2="183.4" y2="495.3" stroke="#555" stroke-width="0.9"/>
<text x="183.40" y="504.10" font-size="10.8" text-anchor="middle" font-weight="normal" fill="#111">3</text>
<line x1="25.2" y1="353.1" x2="27.0" y2="353.1" stroke="#555" stroke-width="0.9"/>
<text x="24.70" y="357.10" font-size="10.8" text-anchor="end" font-weight="normal" fill="#111">60</text>
<line x1="25.2" y1="391" x2="27.0" y2="391" stroke="#555" stroke-width="0.9"/>
<text x="24.70" y="395.00" font-size="10.8" text-anchor="end" font-weight="normal" fill="#111">40</text>
<line x1="25.2" y1="428.8" x2="27.0" y2="428.8" stroke="#555" stroke-width="0.9"/>
<text x="24.70" y="432.80" font-size="10.8" text-anchor="end" font-weight="normal" fill="#111">20</text>
<line x1="25.2" y1="466.6" x2="27.0" y2="466.6" stroke="#555" stroke-width="0.9"/>
<text x="24.70" y="470.60" font-size="10.8" text-anchor="end" font-weight="normal" fill="#111">0</text>
<text x="125.50" y="515.70" font-size="10.8" text-anchor="middle" font-weight="normal" fill="#000">Distance</text>
<text x="8.10" y="421.50" font-size="10.8" text-anchor="middle" font-weight="normal" fill="#000" transform="rotate(-90 8.10 421.50)">WSTN Loss (%)</text>
<svg x="27.5" y="350.5" width="196.0" height="142.0" viewBox="27.5 350.5 196.0 142.0" overflow="hidden">
<line x1="37.50" y1="393.50" x2="37.50" y2="401.55" stroke="#a0a0a0" stroke-width="0.7"/>
<line x1="37.50" y1="438.45" x2="37.50" y2="463.10" stroke="#a0a0a0" stroke-width="0.7"/>
<rect x="36.00" y="401.55" width="3.00" height="36.90" fill="none" stroke="#a0a0a0" stroke-width="0.6"/>
<line x1="36.00" y1="423.20" x2="39.00" y2="423.20" stroke="#a0a0a0" stroke-width="0.6"/>
<line x1="49.60" y1="391.60" x2="49.60" y2="422.80" stroke="#a0a0a0" stroke-width="0.7"/>
<line x1="49.60" y1="446.90" x2="49.60" y2="463.10" stroke="#a0a0a0" stroke-width="0.7"/>
<rect x="48.10" y="422.80" width="3.00" height="24.10" fill="none" stroke="#a0a0a0" stroke-width="0.6"/>
<line x1="48.10" y1="439.00" x2="51.10" y2="439.00" stroke="#a0a0a0" stroke-width="0.6"/>
<line x1="55.83" y1="382.30" x2="55.83" y2="384.55" stroke="#a0a0a0" stroke-width="0.7"/>
<line x1="55.83" y1="423.40" x2="55.83" y2="441.90" stroke="#a0a0a0" stroke-width="0.7"/>
<rect x="54.33" y="384.55" width="3.00" height="38.85" fill="none" stroke="#a0a0a0" stroke-width="0.6"/>
<line x1="54.33" y1="390.25" x2="57.33" y2="390.25" stroke="#a0a0a0" stroke-width="0.6"/>
<line x1="62.00" y1="429.50" x2="62.00" y2="436.80" stroke="#a0a0a0" stroke-width="0.7"/>
<line x1="62.00" y1="448.50" x2="62.00" y2="454.30" stroke="#a0a0a0" stroke-width="0.7"/>
<rect x="60.50" y="436.80" width="3.00" height="11.70" fill="none" stroke="#a0a0a0" stroke-width="0.6"/>
<line x1="60.50" y1="439.70" x2="63.50" y2="439.70" stroke="#a0a0a0" stroke-width="0.6"/>
<line x1="81.00" y1="383.30" x2="81.00" y2="408.15" stroke="#a0a0a0" stroke-width="0.7"/>
<line x1="81.00" y1="443.35" x2="81.00" y2="474.00" stroke="#a0a0a0" stroke-width="0.7"/>
<rect x="79.50" y="408.15" width="3.00" height="35.20" fill="none" stroke="#a0a0a0" stroke-width="0.6"/>
<line x1="79.50" y1="435.30" x2="82.50" y2="435.30" stroke="#a0a0a0" stroke-width="0.6"/>
<line x1="102.60" y1="393.10" x2="102.60" y2="413.43" stroke="#a0a0a0" stroke-width="0.7"/>
<line x1="102.60" y1="431.12" x2="102.60" y2="433.90" stroke="#a0a0a0" stroke-width="0.7"/>
<rect x="101.10" y="413.43" width="3.00" height="17.70" fill="none" stroke="#a0a0a0" stroke-width="0.6"/>
<line x1="101.10" y1="421.35" x2="104.10" y2="421.35" stroke="#a0a0a0" stroke-width="0.6"/>
<line x1="123.40" y1="368.00" x2="123.40" y2="410.88" stroke="#a0a0a0" stroke-width="0.7"/>
<line x1="123.40" y1="444.83" x2="123.40" y2="482.80" stroke="#a0a0a0" stroke-width="0.7"/>
<rect x="121.90" y="410.88" width="3.00" height="33.95" fill="none" stroke="#a0a0a0" stroke-width="0.6"/>
<line x1="121.90" y1="437.15" x2="124.90" y2="437.15" stroke="#a0a0a0" stroke-width="0.6"/>
<line x1="141.20" y1="414.00" x2="141.20" y2="424.60" stroke="#a0a0a0" stroke-width="0.7"/>
<line x1="141.20" y1="438.07" x2="141.20" y2="443.40" stroke="#a0a0a0" stroke-width="0.7"/>
<rect x="139.70" y="424.60" width="3.00" height="13.47" fill="none" stroke="#a0a0a0" stroke-width="0.6"/>
<line x1="139.70" y1="433.85" x2="142.70" y2="433.85" stroke="#a0a0a0" stroke-width="0.6"/>
<line x1="150.00" y1="390.60" x2="150.00" y2="402.60" stroke="#a0a0a0" stroke-width="0.7"/>
<line x1="150.00" y1="454.45" x2="150.00" y2="473.30" stroke="#a0a0a0" stroke-width="0.7"/>
<rect x="148.50" y="402.60" width="3.00" height="51.85" fill="none" stroke="#a0a0a0" stroke-width="0.6"/>
<line x1="148.50" y1="430.00" x2="151.50" y2="430.00" stroke="#a0a0a0" stroke-width="0.6"/>
<line x1="155.24" y1="418.80" x2="155.24" y2="420.50" stroke="#a0a0a0" stroke-width="0.7"/>
<line x1="155.24" y1="435.30" x2="155.24" y2="440.40" stroke="#a0a0a0" stroke-width="0.7"/>
<rect x="153.74" y="420.50" width="3.00" height="14.80" fill="none" stroke="#a0a0a0" stroke-width="0.6"/>
<line x1="153.74" y1="430.20" x2="156.74" y2="430.20" stroke="#a0a0a0" stroke-width="0.6"/>
<line x1="161.75" y1="415.90" x2="161.75" y2="429.50" stroke="#a0a0a0" stroke-width="0.7"/>
<line x1="161.75" y1="455.00" x2="161.75" y2="481.30" stroke="#a0a0a0" stroke-width="0.7"/>
<rect x="160.25" y="429.50" width="3.00" height="25.50" fill="none" stroke="#a0a0a0" stroke-width="0.6"/>
<line x1="160.25" y1="444.80" x2="163.25" y2="444.80" stroke="#a0a0a0" stroke-width="0.6"/>
<line x1="172.60" y1="422.70" x2="172.60" y2="430.05" stroke="#a0a0a0" stroke-width="0.7"/>
<line x1="172.60" y1="454.70" x2="172.60" y2="462.30" stroke="#a0a0a0" stroke-width="0.7"/>
<rect x="171.10" y="430.05" width="3.00" height="24.65" fill="none" stroke="#a0a0a0" stroke-width="0.6"/>
<line x1="171.10" y1="445.90" x2="174.10" y2="445.90" stroke="#a0a0a0" stroke-width="0.6"/>
<line x1="179.20" y1="380.40" x2="179.20" y2="412.88" stroke="#a0a0a0" stroke-width="0.7"/>
<line x1="179.20" y1="444.05" x2="179.20" y2="455.00" stroke="#a0a0a0" stroke-width="0.7"/>
<rect x="177.70" y="412.88" width="3.00" height="31.18" fill="none" stroke="#a0a0a0" stroke-width="0.6"/>
<line x1="177.70" y1="431.20" x2="180.70" y2="431.20" stroke="#a0a0a0" stroke-width="0.6"/>
<line x1="203.48" y1="429.50" x2="203.48" y2="436.10" stroke="#a0a0a0" stroke-width="0.7"/>
<line x1="203.48" y1="444.80" x2="203.48" y2="463.10" stroke="#a0a0a0" stroke-width="0.7"/>
<rect x="201.98" y="436.10" width="3.00" height="8.70" fill="none" stroke="#a0a0a0" stroke-width="0.6"/>
<line x1="201.98" y1="441.20" x2="204.98" y2="441.20" stroke="#a0a0a0" stroke-width="0.6"/>
<line x1="208.52" y1="412.50" x2="208.52" y2="420.20" stroke="#a0a0a0" stroke-width="0.7"/>
<line x1="208.52" y1="445.70" x2="208.52" y2="455.00" stroke="#a0a0a0" stroke-width="0.7"/>
<rect x="207.02" y="420.20" width="3.00" height="25.50" fill="none" stroke="#a0a0a0" stroke-width="0.6"/>
<line x1="207.02" y1="437.15" x2="210.02" y2="437.15" stroke="#a0a0a0" stroke-width="0.6"/>
<line x1="213.07" y1="387.00" x2="213.07" y2="414.12" stroke="#a0a0a0" stroke-width="0.7"/>
<line x1="213.07" y1="433.73" x2="213.07" y2="447.70" stroke="#a0a0a0" stroke-width="0.7"/>
<rect x="211.57" y="414.12" width="3.00" height="19.60" fill="none" stroke="#a0a0a0" stroke-width="0.6"/>
<line x1="211.57" y1="421.00" x2="214.57" y2="421.00" stroke="#a0a0a0" stroke-width="0.6"/>
<circle cx="62.00" cy="356.30" r="3.85" fill="none" stroke="#5daabd" stroke-width="0.58"/>
<circle cx="62.00" cy="366.80" r="3.85" fill="none" stroke="#5daabd" stroke-width="0.58"/>
<circle cx="37.50" cy="393.50" r="3.85" fill="none" stroke="#3c9ab2" stroke-width="0.58"/>
<circle cx="37.50" cy="400.80" r="3.85" fill="none" stroke="#3c9ab2" stroke-width="0.58"/>
<circle cx="37.50" cy="401.80" r="3.85" fill="none" stroke="#3c9ab2" stroke-width="0.58"/>
<circle cx="37.50" cy="421.30" r="3.85" fill="none" stroke="#3c9ab2" stroke-width="0.58"/>
<circle cx="49.60" cy="391.60" r="3.85" fill="none" stroke="#4ca2b7" stroke-width="0.58"/>
<circle cx="49.60" cy="420.50" r="3.85" fill="none" stroke="#4ca2b7" stroke-width="0.58"/>
<circle cx="55.50" cy="382.30" r="3.85" fill="none" stroke="#54a6ba" stroke-width="0.58"/>
<circle cx="55.90" cy="384.00" r="3.85" fill="none" stroke="#55a6ba" stroke-width="0.58"/>
<circle cx="55.90" cy="386.20" r="3.85" fill="none" stroke="#55a6ba" stroke-width="0.58"/>
<circle cx="55.90" cy="394.30" r="3.85" fill="none" stroke="#55a6ba" stroke-width="0.58"/>
<circle cx="81.00" cy="383.30" r="3.85" fill="none" stroke="#78b7c5" stroke-width="0.58"/>
<circle cx="81.00" cy="406.70" r="3.85" fill="none" stroke="#78b7c5" stroke-width="0.58"/>
<circle cx="81.00" cy="409.60" r="3.85" fill="none" stroke="#78b7c5" stroke-width="0.58"/>
<circle cx="102.60" cy="393.10" r="3.85" fill="none" stroke="#b0c17a" stroke-width="0.58"/>
<circle cx="102.60" cy="409.60" r="3.85" fill="none" stroke="#b0c17a" stroke-width="0.58"/>
<circle cx="102.60" cy="414.70" r="3.85" fill="none" stroke="#b0c17a" stroke-width="0.58"/>
<circle cx="102.60" cy="420.50" r="3.85" fill="none" stroke="#b0c17a" stroke-width="0.58"/>
<circle cx="123.40" cy="368.00" r="3.85" fill="none" stroke="#e6cb31" stroke-width="0.58"/>
<circle cx="123.40" cy="386.20" r="3.85" fill="none" stroke="#e6cb31" stroke-width="0.58"/>
<circle cx="123.40" cy="419.10" r="3.85" fill="none" stroke="#e6cb31" stroke-width="0.58"/>
<circle cx="150.00" cy="390.60" r="3.85" fill="none" stroke="#e5bc13" stroke-width="0.58"/>
<circle cx="150.00" cy="396.00" r="3.85" fill="none" stroke="#e5bc13" stroke-width="0.58"/>
<circle cx="150.00" cy="404.80" r="3.85" fill="none" stroke="#e5bc13" stroke-width="0.58"/>
<circle cx="150.00" cy="415.90" r="3.85" fill="none" stroke="#e5bc13" stroke-width="0.58"/>
<circle cx="161.20" cy="385.50" r="3.85" fill="none" stroke="#e3b408" stroke-width="0.58"/>
<circle cx="141.20" cy="414.00" r="3.85" fill="none" stroke="#e7c21b" stroke-width="0.58"/>
<circle cx="141.20" cy="422.00" r="3.85" fill="none" stroke="#e7c21b" stroke-width="0.58"/>
<circle cx="155.10" cy="418.80" r="3.85" fill="none" stroke="#e4b80e" stroke-width="0.58"/>
<circle cx="155.80" cy="420.50" r="3.85" fill="none" stroke="#e4b80d" stroke-width="0.58"/>
<circle cx="162.70" cy="415.90" r="3.85" fill="none" stroke="#e3b306" stroke-width="0.58"/>
<circle cx="161.20" cy="423.50" r="3.85" fill="none" stroke="#e3b408" stroke-width="0.58"/>
<circle cx="179.20" cy="380.40" r="3.85" fill="none" stroke="#e58e00" stroke-width="0.58"/>
<circle cx="179.20" cy="409.60" r="3.85" fill="none" stroke="#e58e00" stroke-width="0.58"/>
<circle cx="179.20" cy="422.70" r="3.85" fill="none" stroke="#e58e00" stroke-width="0.58"/>
<circle cx="172.60" cy="422.70" r="3.85" fill="none" stroke="#e2a500" stroke-width="0.58"/>
<circle cx="204.00" cy="389.90" r="3.85" fill="none" stroke="#ee3b00" stroke-width="0.58"/>
<circle cx="204.00" cy="392.80" r="3.85" fill="none" stroke="#ee3b00" stroke-width="0.58"/>
<circle cx="212.80" cy="387.00" r="3.85" fill="none" stroke="#f21d00" stroke-width="0.58"/>
<circle cx="213.50" cy="406.70" r="3.85" fill="none" stroke="#f21b00" stroke-width="0.58"/>
<circle cx="209.10" cy="412.50" r="3.85" fill="none" stroke="#f02900" stroke-width="0.58"/>
<circle cx="212.80" cy="413.20" r="3.85" fill="none" stroke="#f21d00" stroke-width="0.58"/>
<circle cx="213.50" cy="416.90" r="3.85" fill="none" stroke="#f21b00" stroke-width="0.58"/>
<circle cx="208.40" cy="415.40" r="3.85" fill="none" stroke="#f02c00" stroke-width="0.58"/>
<circle cx="212.00" cy="420.50" r="3.85" fill="none" stroke="#f12000" stroke-width="0.58"/>
<circle cx="37.50" cy="425.10" r="3.85" fill="none" stroke="#3c9ab2" stroke-width="0.58"/>
<circle cx="37.50" cy="436.10" r="3.85" fill="none" stroke="#3c9ab2" stroke-width="0.58"/>
<circle cx="37.50" cy="445.50" r="3.85" fill="none" stroke="#3c9ab2" stroke-width="0.58"/>
<circle cx="37.50" cy="463.10" r="3.85" fill="none" stroke="#3c9ab2" stroke-width="0.58"/>
<circle cx="49.60" cy="425.10" r="3.85" fill="none" stroke="#4ca2b7" stroke-width="0.58"/>
<circle cx="49.60" cy="439.00" r="3.85" fill="none" stroke="#4ca2b7" stroke-width="0.58"/>
<circle cx="49.60" cy="443.40" r="3.85" fill="none" stroke="#4ca2b7" stroke-width="0.58"/>
<circle cx="49.60" cy="450.40" r="3.85" fill="none" stroke="#4ca2b7" stroke-width="0.58"/>
<circle cx="49.60" cy="463.10" r="3.85" fill="none" stroke="#4ca2b7" stroke-width="0.58"/>
<circle cx="55.90" cy="433.10" r="3.85" fill="none" stroke="#55a6ba" stroke-width="0.58"/>
<circle cx="55.90" cy="441.90" r="3.85" fill="none" stroke="#55a6ba" stroke-width="0.58"/>
<circle cx="62.00" cy="429.50" r="3.85" fill="none" stroke="#5daabd" stroke-width="0.58"/>
<circle cx="62.00" cy="436.80" r="3.85" fill="none" stroke="#5daabd" stroke-width="0.58"/>
<circle cx="62.00" cy="439.70" r="3.85" fill="none" stroke="#5daabd" stroke-width="0.58"/>
<circle cx="62.00" cy="448.50" r="3.85" fill="none" stroke="#5daabd" stroke-width="0.58"/>
<circle cx="62.00" cy="454.30" r="3.85" fill="none" stroke="#5daabd" stroke-width="0.58"/>
<circle cx="81.00" cy="435.30" r="3.85" fill="none" stroke="#78b7c5" stroke-width="0.58"/>
<circle cx="81.00" cy="440.40" r="3.85" fill="none" stroke="#78b7c5" stroke-width="0.58"/>
<circle cx="81.00" cy="446.30" r="3.85" fill="none" stroke="#78b7c5" stroke-width="0.58"/>
<circle cx="81.00" cy="474.00" r="3.85" fill="none" stroke="#78b7c5" stroke-width="0.58"/>
<circle cx="102.60" cy="422.20" r="3.85" fill="none" stroke="#b0c17a" stroke-width="0.58"/>
<circle cx="102.60" cy="430.20" r="3.85" fill="none" stroke="#b0c17a" stroke-width="0.58"/>
<circle cx="102.60" cy="433.90" r="3.85" fill="none" stroke="#b0c17a" stroke-width="0.58"/>
<circle cx="102.60" cy="469.60" r="3.85" fill="none" stroke="#b0c17a" stroke-width="0.58"/>
<circle cx="123.40" cy="432.40" r="3.85" fill="none" stroke="#e6cb31" stroke-width="0.58"/>
<circle cx="123.40" cy="441.90" r="3.85" fill="none" stroke="#e6cb31" stroke-width="0.58"/>
<circle cx="123.40" cy="444.10" r="3.85" fill="none" stroke="#e6cb31" stroke-width="0.58"/>
<circle cx="123.40" cy="447.00" r="3.85" fill="none" stroke="#e6cb31" stroke-width="0.58"/>
<circle cx="123.40" cy="482.80" r="3.85" fill="none" stroke="#e6cb31" stroke-width="0.58"/>
<circle cx="141.20" cy="432.40" r="3.85" fill="none" stroke="#e7c21b" stroke-width="0.58"/>
<circle cx="141.20" cy="435.30" r="3.85" fill="none" stroke="#e7c21b" stroke-width="0.58"/>
<circle cx="141.20" cy="439.00" r="3.85" fill="none" stroke="#e7c21b" stroke-width="0.58"/>
<circle cx="141.20" cy="443.40" r="3.85" fill="none" stroke="#e7c21b" stroke-width="0.58"/>
<circle cx="150.00" cy="444.10" r="3.85" fill="none" stroke="#e5bc13" stroke-width="0.58"/>
<circle cx="150.00" cy="452.80" r="3.85" fill="none" stroke="#e5bc13" stroke-width="0.58"/>
<circle cx="150.00" cy="459.40" r="3.85" fill="none" stroke="#e5bc13" stroke-width="0.58"/>
<circle cx="150.00" cy="473.30" r="3.85" fill="none" stroke="#e5bc13" stroke-width="0.58"/>
<circle cx="155.10" cy="430.20" r="3.85" fill="none" stroke="#e4b80e" stroke-width="0.58"/>
<circle cx="155.10" cy="435.30" r="3.85" fill="none" stroke="#e4b80e" stroke-width="0.58"/>
<circle cx="155.10" cy="440.40" r="3.85" fill="none" stroke="#e4b80e" stroke-width="0.58"/>
<circle cx="161.70" cy="425.10" r="3.85" fill="none" stroke="#e3b407" stroke-width="0.58"/>
<circle cx="161.70" cy="429.50" r="3.85" fill="none" stroke="#e3b407" stroke-width="0.58"/>
<circle cx="161.70" cy="436.10" r="3.85" fill="none" stroke="#e3b407" stroke-width="0.58"/>
<circle cx="161.70" cy="440.40" r="3.85" fill="none" stroke="#e3b407" stroke-width="0.58"/>
<circle cx="161.70" cy="444.80" r="3.85" fill="none" stroke="#e3b407" stroke-width="0.58"/>
<circle cx="161.70" cy="449.20" r="3.85" fill="none" stroke="#e3b407" stroke-width="0.58"/>
<circle cx="161.70" cy="452.10" r="3.85" fill="none" stroke="#e3b407" stroke-width="0.58"/>
<circle cx="161.70" cy="455.00" r="3.85" fill="none" stroke="#e3b407" stroke-width="0.58"/>
<circle cx="161.70" cy="460.10" r="3.85" fill="none" stroke="#e3b407" stroke-width="0.58"/>
<circle cx="161.70" cy="470.40" r="3.85" fill="none" stroke="#e3b407" stroke-width="0.58"/>
<circle cx="162.40" cy="481.30" r="3.85" fill="none" stroke="#e3b407" stroke-width="0.58"/>
<circle cx="172.60" cy="426.60" r="3.85" fill="none" stroke="#e2a500" stroke-width="0.58"/>
<circle cx="172.60" cy="440.40" r="3.85" fill="none" stroke="#e2a500" stroke-width="0.58"/>
<circle cx="172.60" cy="451.40" r="3.85" fill="none" stroke="#e2a500" stroke-width="0.58"/>
<circle cx="172.60" cy="455.80" r="3.85" fill="none" stroke="#e2a500" stroke-width="0.58"/>
<circle cx="172.60" cy="462.30" r="3.85" fill="none" stroke="#e2a500" stroke-width="0.58"/>
<circle cx="179.20" cy="439.70" r="3.85" fill="none" stroke="#e58e00" stroke-width="0.58"/>
<circle cx="179.20" cy="445.50" r="3.85" fill="none" stroke="#e58e00" stroke-width="0.58"/>
<circle cx="179.20" cy="455.00" r="3.85" fill="none" stroke="#e58e00" stroke-width="0.58"/>
<circle cx="203.30" cy="429.50" r="3.85" fill="none" stroke="#ee3d00" stroke-width="0.58"/>
<circle cx="203.30" cy="436.10" r="3.85" fill="none" stroke="#ee3d00" stroke-width="0.58"/>
<circle cx="203.30" cy="441.20" r="3.85" fill="none" stroke="#ee3d00" stroke-width="0.58"/>
<circle cx="203.30" cy="444.80" r="3.85" fill="none" stroke="#ee3d00" stroke-width="0.58"/>
<circle cx="203.30" cy="463.10" r="3.85" fill="none" stroke="#ee3d00" stroke-width="0.58"/>
<circle cx="203.30" cy="485.70" r="3.85" fill="none" stroke="#ee3d00" stroke-width="0.58"/>
<circle cx="208.40" cy="434.60" r="3.85" fill="none" stroke="#f02c00" stroke-width="0.58"/>
<circle cx="208.40" cy="439.70" r="3.85" fill="none" stroke="#f02c00" stroke-width="0.58"/>
<circle cx="208.40" cy="447.70" r="3.85" fill="none" stroke="#f02c00" stroke-width="0.58"/>
<circle cx="208.40" cy="455.00" r="3.85" fill="none" stroke="#f02c00" stroke-width="0.58"/>
<circle cx="212.80" cy="421.50" r="3.85" fill="none" stroke="#f21d00" stroke-width="0.58"/>
<circle cx="212.80" cy="426.60" r="3.85" fill="none" stroke="#f21d00" stroke-width="0.58"/>
<circle cx="213.50" cy="436.10" r="3.85" fill="none" stroke="#f21b00" stroke-width="0.58"/>
<circle cx="213.50" cy="442.60" r="3.85" fill="none" stroke="#f21b00" stroke-width="0.58"/>
<circle cx="213.50" cy="447.70" r="3.85" fill="none" stroke="#f21b00" stroke-width="0.58"/>
<line x1="37.5" y1="421.4" x2="212.3" y2="437.5" stroke="#3366ff" stroke-width="1.4"/>

</svg>
<text x="218.40" y="361.80" font-size="9.0" text-anchor="end" font-weight="normal" fill="#000">Rho = −0.18 *</text>
<line x1="27.5" y1="350.0" x2="27.5" y2="493.0" stroke="#666666" stroke-width="1"/>
<line x1="223.5" y1="350.0" x2="223.5" y2="493.0" stroke="#707070" stroke-width="1"/>
<line x1="27.0" y1="350.5" x2="224.0" y2="350.5" stroke="#888888" stroke-width="1"/>
<line x1="27.0" y1="492.5" x2="224.0" y2="492.5" stroke="#707070" stroke-width="1"/>
<text x="230.80" y="355.90" font-size="8.2" text-anchor="start" font-weight="bold" fill="#000">H</text>
<line x1="292.2" y1="493.0" x2="292.2" y2="495.3" stroke="#555" stroke-width="0.9"/>
<text x="292.20" y="504.10" font-size="10.8" text-anchor="middle" font-weight="normal" fill="#111">0</text>
<line x1="332.7" y1="493.0" x2="332.7" y2="495.3" stroke="#555" stroke-width="0.9"/>
<text x="332.70" y="504.10" font-size="10.8" text-anchor="middle" font-weight="normal" fill="#111">1</text>
<line x1="373.3" y1="493.0" x2="373.3" y2="495.3" stroke="#555" stroke-width="0.9"/>
<text x="373.30" y="504.10" font-size="10.8" text-anchor="middle" font-weight="normal" fill="#111">2</text>
<line x1="413.1" y1="493.0" x2="413.1" y2="495.3" stroke="#555" stroke-width="0.9"/>
<text x="413.10" y="504.10" font-size="10.8" text-anchor="middle" font-weight="normal" fill="#111">3</text>
<line x1="255.2" y1="373.4" x2="257.0" y2="373.4" stroke="#555" stroke-width="0.9"/>
<text x="254.70" y="377.40" font-size="10.8" text-anchor="end" font-weight="normal" fill="#111">30</text>
<line x1="255.2" y1="410.6" x2="257.0" y2="410.6" stroke="#555" stroke-width="0.9"/>
<text x="254.70" y="414.60" font-size="10.8" text-anchor="end" font-weight="normal" fill="#111">20</text>
<line x1="255.2" y1="448.5" x2="257.0" y2="448.5" stroke="#555" stroke-width="0.9"/>
<text x="254.70" y="452.50" font-size="10.8" text-anchor="end" font-weight="normal" fill="#111">10</text>
<line x1="255.2" y1="486.7" x2="257.0" y2="486.7" stroke="#555" stroke-width="0.9"/>
<text x="254.70" y="490.70" font-size="10.8" text-anchor="end" font-weight="normal" fill="#111">0</text>
<text x="355.50" y="515.70" font-size="10.8" text-anchor="middle" font-weight="normal" fill="#000">Distance</text>
<text x="238.00" y="421.50" font-size="10.8" text-anchor="middle" font-weight="normal" fill="#000" transform="rotate(-90 238.00 421.50)">Mass Loss (%)</text>
<svg x="257.5" y="350.5" width="196.0" height="142.0" viewBox="257.5 350.5 196.0 142.0" overflow="hidden">
<line x1="267.62" y1="362.90" x2="267.62" y2="407.97" stroke="#a0a0a0" stroke-width="0.7"/>
<line x1="267.62" y1="466.55" x2="267.62" y2="471.10" stroke="#a0a0a0" stroke-width="0.7"/>
<rect x="266.12" y="407.97" width="3.00" height="58.58" fill="none" stroke="#a0a0a0" stroke-width="0.6"/>
<line x1="266.12" y1="451.75" x2="269.12" y2="451.75" stroke="#a0a0a0" stroke-width="0.6"/>
<line x1="279.60" y1="450.70" x2="279.60" y2="453.60" stroke="#a0a0a0" stroke-width="0.7"/>
<line x1="279.60" y1="469.30" x2="279.60" y2="477.70" stroke="#a0a0a0" stroke-width="0.7"/>
<rect x="278.10" y="453.60" width="3.00" height="15.70" fill="none" stroke="#a0a0a0" stroke-width="0.6"/>
<line x1="278.10" y1="464.50" x2="281.10" y2="464.50" stroke="#a0a0a0" stroke-width="0.6"/>
<line x1="285.83" y1="384.30" x2="285.83" y2="400.82" stroke="#a0a0a0" stroke-width="0.7"/>
<line x1="285.83" y1="427.25" x2="285.83" y2="429.50" stroke="#a0a0a0" stroke-width="0.7"/>
<rect x="284.33" y="400.82" width="3.00" height="26.43" fill="none" stroke="#a0a0a0" stroke-width="0.6"/>
<line x1="284.33" y1="419.40" x2="287.33" y2="419.40" stroke="#a0a0a0" stroke-width="0.6"/>
<line x1="292.00" y1="433.10" x2="292.00" y2="455.23" stroke="#a0a0a0" stroke-width="0.7"/>
<line x1="292.00" y1="471.83" x2="292.00" y2="476.90" stroke="#a0a0a0" stroke-width="0.7"/>
<rect x="290.50" y="455.23" width="3.00" height="16.60" fill="none" stroke="#a0a0a0" stroke-width="0.6"/>
<line x1="290.50" y1="465.25" x2="293.50" y2="465.25" stroke="#a0a0a0" stroke-width="0.6"/>
<line x1="311.37" y1="431.00" x2="311.37" y2="448.50" stroke="#a0a0a0" stroke-width="0.7"/>
<line x1="311.37" y1="468.90" x2="311.37" y2="474.00" stroke="#a0a0a0" stroke-width="0.7"/>
<rect x="309.87" y="448.50" width="3.00" height="20.40" fill="none" stroke="#a0a0a0" stroke-width="0.6"/>
<line x1="309.87" y1="466.70" x2="312.87" y2="466.70" stroke="#a0a0a0" stroke-width="0.6"/>
<line x1="332.20" y1="458.70" x2="332.20" y2="460.10" stroke="#a0a0a0" stroke-width="0.7"/>
<line x1="332.20" y1="475.50" x2="332.20" y2="482.80" stroke="#a0a0a0" stroke-width="0.7"/>
<rect x="330.70" y="460.10" width="3.00" height="15.40" fill="none" stroke="#a0a0a0" stroke-width="0.6"/>
<line x1="330.70" y1="464.50" x2="333.70" y2="464.50" stroke="#a0a0a0" stroke-width="0.6"/>
<line x1="353.40" y1="460.90" x2="353.40" y2="466.02" stroke="#a0a0a0" stroke-width="0.7"/>
<line x1="353.40" y1="474.57" x2="353.40" y2="477.70" stroke="#a0a0a0" stroke-width="0.7"/>
<rect x="351.90" y="466.02" width="3.00" height="8.55" fill="none" stroke="#a0a0a0" stroke-width="0.6"/>
<line x1="351.90" y1="470.00" x2="354.90" y2="470.00" stroke="#a0a0a0" stroke-width="0.6"/>
<line x1="371.10" y1="453.60" x2="371.10" y2="459.05" stroke="#a0a0a0" stroke-width="0.7"/>
<line x1="371.10" y1="475.62" x2="371.10" y2="482.80" stroke="#a0a0a0" stroke-width="0.7"/>
<rect x="369.60" y="459.05" width="3.00" height="16.57" fill="none" stroke="#a0a0a0" stroke-width="0.6"/>
<line x1="369.60" y1="469.25" x2="372.60" y2="469.25" stroke="#a0a0a0" stroke-width="0.6"/>
<line x1="380.14" y1="368.70" x2="380.14" y2="414.40" stroke="#a0a0a0" stroke-width="0.7"/>
<line x1="380.14" y1="470.40" x2="380.14" y2="480.60" stroke="#a0a0a0" stroke-width="0.7"/>
<rect x="378.64" y="414.40" width="3.00" height="56.00" fill="none" stroke="#a0a0a0" stroke-width="0.6"/>
<line x1="378.64" y1="431.00" x2="381.64" y2="431.00" stroke="#a0a0a0" stroke-width="0.6"/>
<line x1="384.90" y1="461.60" x2="384.90" y2="466.55" stroke="#a0a0a0" stroke-width="0.7"/>
<line x1="384.90" y1="472.90" x2="384.90" y2="476.20" stroke="#a0a0a0" stroke-width="0.7"/>
<rect x="383.40" y="466.55" width="3.00" height="6.35" fill="none" stroke="#a0a0a0" stroke-width="0.6"/>
<line x1="383.40" y1="470.00" x2="386.40" y2="470.00" stroke="#a0a0a0" stroke-width="0.6"/>
<line x1="391.80" y1="463.80" x2="391.80" y2="469.30" stroke="#a0a0a0" stroke-width="0.7"/>
<line x1="391.80" y1="479.52" x2="391.80" y2="485.70" stroke="#a0a0a0" stroke-width="0.7"/>
<rect x="390.30" y="469.30" width="3.00" height="10.22" fill="none" stroke="#a0a0a0" stroke-width="0.6"/>
<line x1="390.30" y1="475.50" x2="393.30" y2="475.50" stroke="#a0a0a0" stroke-width="0.6"/>
<line x1="403.20" y1="468.20" x2="403.20" y2="468.20" stroke="#a0a0a0" stroke-width="0.7"/>
<line x1="403.20" y1="475.50" x2="403.20" y2="482.80" stroke="#a0a0a0" stroke-width="0.7"/>
<rect x="401.70" y="468.20" width="3.00" height="7.30" fill="none" stroke="#a0a0a0" stroke-width="0.6"/>
<line x1="401.70" y1="473.30" x2="404.70" y2="473.30" stroke="#a0a0a0" stroke-width="0.6"/>
<line x1="409.30" y1="439.70" x2="409.30" y2="458.73" stroke="#a0a0a0" stroke-width="0.7"/>
<line x1="409.30" y1="475.85" x2="409.30" y2="485.00" stroke="#a0a0a0" stroke-width="0.7"/>
<rect x="407.80" y="458.73" width="3.00" height="17.12" fill="none" stroke="#a0a0a0" stroke-width="0.6"/>
<line x1="407.80" y1="464.55" x2="410.80" y2="464.55" stroke="#a0a0a0" stroke-width="0.6"/>
<line x1="433.80" y1="413.20" x2="433.80" y2="446.45" stroke="#a0a0a0" stroke-width="0.7"/>
<line x1="433.80" y1="478.40" x2="433.80" y2="481.30" stroke="#a0a0a0" stroke-width="0.7"/>
<rect x="432.30" y="446.45" width="3.00" height="31.95" fill="none" stroke="#a0a0a0" stroke-width="0.6"/>
<line x1="432.30" y1="473.30" x2="435.30" y2="473.30" stroke="#a0a0a0" stroke-width="0.6"/>
<line x1="438.20" y1="470.40" x2="438.20" y2="471.47" stroke="#a0a0a0" stroke-width="0.7"/>
<line x1="438.20" y1="473.62" x2="438.20" y2="474.70" stroke="#a0a0a0" stroke-width="0.7"/>
<rect x="436.70" y="471.47" width="3.00" height="2.15" fill="none" stroke="#a0a0a0" stroke-width="0.6"/>
<line x1="436.70" y1="472.55" x2="439.70" y2="472.55" stroke="#a0a0a0" stroke-width="0.6"/>
<line x1="443.30" y1="459.40" x2="443.30" y2="463.40" stroke="#a0a0a0" stroke-width="0.7"/>
<line x1="443.30" y1="476.60" x2="443.30" y2="485.00" stroke="#a0a0a0" stroke-width="0.7"/>
<rect x="441.80" y="463.40" width="3.00" height="13.20" fill="none" stroke="#a0a0a0" stroke-width="0.6"/>
<line x1="441.80" y1="466.70" x2="444.80" y2="466.70" stroke="#a0a0a0" stroke-width="0.6"/>
<circle cx="268.00" cy="362.90" r="3.85" fill="none" stroke="#3c9ab2" stroke-width="0.58"/>
<circle cx="267.50" cy="405.20" r="3.85" fill="none" stroke="#3b9ab2" stroke-width="0.58"/>
<circle cx="268.00" cy="408.90" r="3.85" fill="none" stroke="#3c9ab2" stroke-width="0.58"/>
<circle cx="279.60" cy="408.10" r="3.85" fill="none" stroke="#4ca2b7" stroke-width="0.58"/>
<circle cx="285.50" cy="384.30" r="3.85" fill="none" stroke="#54a6ba" stroke-width="0.58"/>
<circle cx="285.90" cy="395.00" r="3.85" fill="none" stroke="#54a6ba" stroke-width="0.58"/>
<circle cx="285.90" cy="418.30" r="3.85" fill="none" stroke="#54a6ba" stroke-width="0.58"/>
<circle cx="285.90" cy="420.50" r="3.85" fill="none" stroke="#54a6ba" stroke-width="0.58"/>
<circle cx="311.70" cy="387.00" r="3.85" fill="none" stroke="#78b7c4" stroke-width="0.58"/>
<circle cx="332.20" cy="389.90" r="3.85" fill="none" stroke="#aec17c" stroke-width="0.58"/>
<circle cx="353.40" cy="356.30" r="3.85" fill="none" stroke="#e6cb31" stroke-width="0.58"/>
<circle cx="353.40" cy="390.20" r="3.85" fill="none" stroke="#e6cb31" stroke-width="0.58"/>
<circle cx="380.10" cy="368.70" r="3.85" fill="none" stroke="#e5bc12" stroke-width="0.58"/>
<circle cx="380.50" cy="414.40" r="3.85" fill="none" stroke="#e5bb12" stroke-width="0.58"/>
<circle cx="391.80" cy="420.50" r="3.85" fill="none" stroke="#e3b407" stroke-width="0.58"/>
<circle cx="391.80" cy="422.00" r="3.85" fill="none" stroke="#e3b407" stroke-width="0.58"/>
<circle cx="409.30" cy="419.80" r="3.85" fill="none" stroke="#e58d00" stroke-width="0.58"/>
<circle cx="433.80" cy="413.20" r="3.85" fill="none" stroke="#ee3a00" stroke-width="0.58"/>
<circle cx="267.50" cy="439.70" r="3.85" fill="none" stroke="#3b9ab2" stroke-width="0.58"/>
<circle cx="267.50" cy="463.80" r="3.85" fill="none" stroke="#3b9ab2" stroke-width="0.58"/>
<circle cx="267.50" cy="466.00" r="3.85" fill="none" stroke="#3b9ab2" stroke-width="0.58"/>
<circle cx="267.50" cy="468.20" r="3.85" fill="none" stroke="#3b9ab2" stroke-width="0.58"/>
<circle cx="267.50" cy="471.10" r="3.85" fill="none" stroke="#3b9ab2" stroke-width="0.58"/>
<circle cx="279.60" cy="450.70" r="3.85" fill="none" stroke="#4ca2b7" stroke-width="0.58"/>
<circle cx="279.60" cy="456.50" r="3.85" fill="none" stroke="#4ca2b7" stroke-width="0.58"/>
<circle cx="279.60" cy="464.50" r="3.85" fill="none" stroke="#4ca2b7" stroke-width="0.58"/>
<circle cx="279.60" cy="468.20" r="3.85" fill="none" stroke="#4ca2b7" stroke-width="0.58"/>
<circle cx="279.60" cy="470.40" r="3.85" fill="none" stroke="#4ca2b7" stroke-width="0.58"/>
<circle cx="279.60" cy="477.70" r="3.85" fill="none" stroke="#4ca2b7" stroke-width="0.58"/>
<circle cx="285.90" cy="429.50" r="3.85" fill="none" stroke="#54a6ba" stroke-width="0.58"/>
<circle cx="285.90" cy="477.70" r="3.85" fill="none" stroke="#54a6ba" stroke-width="0.58"/>
<circle cx="292.00" cy="433.10" r="3.85" fill="none" stroke="#5daabd" stroke-width="0.58"/>
<circle cx="292.00" cy="444.80" r="3.85" fill="none" stroke="#5daabd" stroke-width="0.58"/>
<circle cx="292.00" cy="458.70" r="3.85" fill="none" stroke="#5daabd" stroke-width="0.58"/>
<circle cx="292.00" cy="462.30" r="3.85" fill="none" stroke="#5daabd" stroke-width="0.58"/>
<circle cx="292.00" cy="468.20" r="3.85" fill="none" stroke="#5daabd" stroke-width="0.58"/>
<circle cx="292.00" cy="471.10" r="3.85" fill="none" stroke="#5daabd" stroke-width="0.58"/>
<circle cx="292.00" cy="474.00" r="3.85" fill="none" stroke="#5daabd" stroke-width="0.58"/>
<circle cx="292.00" cy="476.90" r="3.85" fill="none" stroke="#5daabd" stroke-width="0.58"/>
<circle cx="311.30" cy="431.00" r="3.85" fill="none" stroke="#78b7c5" stroke-width="0.58"/>
<circle cx="311.30" cy="448.50" r="3.85" fill="none" stroke="#78b7c5" stroke-width="0.58"/>
<circle cx="311.30" cy="466.70" r="3.85" fill="none" stroke="#78b7c5" stroke-width="0.58"/>
<circle cx="311.30" cy="468.90" r="3.85" fill="none" stroke="#78b7c5" stroke-width="0.58"/>
<circle cx="311.30" cy="474.00" r="3.85" fill="none" stroke="#78b7c5" stroke-width="0.58"/>
<circle cx="332.20" cy="458.70" r="3.85" fill="none" stroke="#aec17c" stroke-width="0.58"/>
<circle cx="332.20" cy="460.10" r="3.85" fill="none" stroke="#aec17c" stroke-width="0.58"/>
<circle cx="332.20" cy="464.50" r="3.85" fill="none" stroke="#aec17c" stroke-width="0.58"/>
<circle cx="332.20" cy="475.50" r="3.85" fill="none" stroke="#aec17c" stroke-width="0.58"/>
<circle cx="332.20" cy="482.80" r="3.85" fill="none" stroke="#aec17c" stroke-width="0.58"/>
<circle cx="353.40" cy="460.90" r="3.85" fill="none" stroke="#e6cb31" stroke-width="0.58"/>
<circle cx="353.40" cy="465.30" r="3.85" fill="none" stroke="#e6cb31" stroke-width="0.58"/>
<circle cx="353.40" cy="468.20" r="3.85" fill="none" stroke="#e6cb31" stroke-width="0.58"/>
<circle cx="353.40" cy="471.80" r="3.85" fill="none" stroke="#e6cb31" stroke-width="0.58"/>
<circle cx="353.40" cy="475.50" r="3.85" fill="none" stroke="#e6cb31" stroke-width="0.58"/>
<circle cx="353.40" cy="477.70" r="3.85" fill="none" stroke="#e6cb31" stroke-width="0.58"/>
<circle cx="391.80" cy="425.80" r="3.85" fill="none" stroke="#e3b407" stroke-width="0.58"/>
<circle cx="380.50" cy="431.00" r="3.85" fill="none" stroke="#e5bb12" stroke-width="0.58"/>
<circle cx="409.30" cy="439.70" r="3.85" fill="none" stroke="#e58d00" stroke-width="0.58"/>
<circle cx="433.80" cy="432.80" r="3.85" fill="none" stroke="#ee3a00" stroke-width="0.58"/>
<circle cx="371.10" cy="453.60" r="3.85" fill="none" stroke="#e7c21b" stroke-width="0.58"/>
<circle cx="371.10" cy="456.50" r="3.85" fill="none" stroke="#e7c21b" stroke-width="0.58"/>
<circle cx="371.10" cy="466.70" r="3.85" fill="none" stroke="#e7c21b" stroke-width="0.58"/>
<circle cx="371.10" cy="471.80" r="3.85" fill="none" stroke="#e7c21b" stroke-width="0.58"/>
<circle cx="371.10" cy="476.90" r="3.85" fill="none" stroke="#e7c21b" stroke-width="0.58"/>
<circle cx="371.10" cy="482.80" r="3.85" fill="none" stroke="#e7c21b" stroke-width="0.58"/>
<circle cx="379.80" cy="470.40" r="3.85" fill="none" stroke="#e5bc13" stroke-width="0.58"/>
<circle cx="379.80" cy="480.60" r="3.85" fill="none" stroke="#e5bc13" stroke-width="0.58"/>
<circle cx="384.90" cy="461.60" r="3.85" fill="none" stroke="#e4b90e" stroke-width="0.58"/>
<circle cx="384.90" cy="468.20" r="3.85" fill="none" stroke="#e4b90e" stroke-width="0.58"/>
<circle cx="384.90" cy="471.80" r="3.85" fill="none" stroke="#e4b90e" stroke-width="0.58"/>
<circle cx="384.90" cy="476.20" r="3.85" fill="none" stroke="#e4b90e" stroke-width="0.58"/>
<circle cx="391.80" cy="463.80" r="3.85" fill="none" stroke="#e3b407" stroke-width="0.58"/>
<circle cx="391.80" cy="468.20" r="3.85" fill="none" stroke="#e3b407" stroke-width="0.58"/>
<circle cx="391.80" cy="472.60" r="3.85" fill="none" stroke="#e3b407" stroke-width="0.58"/>
<circle cx="391.80" cy="478.40" r="3.85" fill="none" stroke="#e3b407" stroke-width="0.58"/>
<circle cx="391.80" cy="479.90" r="3.85" fill="none" stroke="#e3b407" stroke-width="0.58"/>
<circle cx="391.80" cy="485.70" r="3.85" fill="none" stroke="#e3b407" stroke-width="0.58"/>
<circle cx="403.20" cy="456.50" r="3.85" fill="none" stroke="#e2a200" stroke-width="0.58"/>
<circle cx="403.20" cy="468.20" r="3.85" fill="none" stroke="#e2a200" stroke-width="0.58"/>
<circle cx="403.20" cy="473.30" r="3.85" fill="none" stroke="#e2a200" stroke-width="0.58"/>
<circle cx="403.20" cy="475.50" r="3.85" fill="none" stroke="#e2a200" stroke-width="0.58"/>
<circle cx="403.20" cy="482.80" r="3.85" fill="none" stroke="#e2a200" stroke-width="0.58"/>
<circle cx="409.30" cy="458.00" r="3.85" fill="none" stroke="#e58d00" stroke-width="0.58"/>
<circle cx="409.30" cy="460.90" r="3.85" fill="none" stroke="#e58d00" stroke-width="0.58"/>
<circle cx="409.30" cy="468.20" r="3.85" fill="none" stroke="#e58d00" stroke-width="0.58"/>
<circle cx="409.30" cy="478.40" r="3.85" fill="none" stroke="#e58d00" stroke-width="0.58"/>
<circle cx="409.30" cy="485.00" r="3.85" fill="none" stroke="#e58d00" stroke-width="0.58"/>
<circle cx="433.80" cy="460.10" r="3.85" fill="none" stroke="#ee3a00" stroke-width="0.58"/>
<circle cx="433.80" cy="473.30" r="3.85" fill="none" stroke="#ee3a00" stroke-width="0.58"/>
<circle cx="433.80" cy="476.90" r="3.85" fill="none" stroke="#ee3a00" stroke-width="0.58"/>
<circle cx="433.80" cy="479.90" r="3.85" fill="none" stroke="#ee3a00" stroke-width="0.58"/>
<circle cx="433.80" cy="481.30" r="3.85" fill="none" stroke="#ee3a00" stroke-width="0.58"/>
<circle cx="438.20" cy="470.40" r="3.85" fill="none" stroke="#f02b00" stroke-width="0.58"/>
<circle cx="438.20" cy="474.70" r="3.85" fill="none" stroke="#f02b00" stroke-width="0.58"/>
<circle cx="443.30" cy="459.40" r="3.85" fill="none" stroke="#f21a00" stroke-width="0.58"/>
<circle cx="443.30" cy="462.30" r="3.85" fill="none" stroke="#f21a00" stroke-width="0.58"/>
<circle cx="443.30" cy="464.50" r="3.85" fill="none" stroke="#f21a00" stroke-width="0.58"/>
<circle cx="443.30" cy="466.70" r="3.85" fill="none" stroke="#f21a00" stroke-width="0.58"/>
<circle cx="443.30" cy="473.30" r="3.85" fill="none" stroke="#f21a00" stroke-width="0.58"/>
<circle cx="443.30" cy="479.90" r="3.85" fill="none" stroke="#f21a00" stroke-width="0.58"/>
<circle cx="443.30" cy="485.00" r="3.85" fill="none" stroke="#f21a00" stroke-width="0.58"/>
<line x1="267.5" y1="444.1" x2="442.6" y2="471.8" stroke="#3366ff" stroke-width="1.4"/>

</svg>
<text x="449.80" y="361.80" font-size="9.0" text-anchor="end" font-weight="normal" fill="#000">Rho = −0.36 ***</text>
<line x1="257.5" y1="350.0" x2="257.5" y2="493.0" stroke="#666666" stroke-width="1"/>
<line x1="453.5" y1="350.0" x2="453.5" y2="493.0" stroke="#666666" stroke-width="1"/>
<line x1="257.0" y1="350.5" x2="454.0" y2="350.5" stroke="#888888" stroke-width="1"/>
<line x1="257.0" y1="492.5" x2="454.0" y2="492.5" stroke="#777777" stroke-width="1"/>
<text x="458.60" y="355.90" font-size="8.2" text-anchor="start" font-weight="bold" fill="#000">I</text>
<line x1="524.3" y1="493.0" x2="524.3" y2="495.3" stroke="#555" stroke-width="0.9"/>
<text x="524.30" y="504.10" font-size="10.8" text-anchor="middle" font-weight="normal" fill="#111">0</text>
<line x1="575.6" y1="493.0" x2="575.6" y2="495.3" stroke="#555" stroke-width="0.9"/>
<text x="575.60" y="504.10" font-size="10.8" text-anchor="middle" font-weight="normal" fill="#111">20</text>
<line x1="626.6" y1="493.0" x2="626.6" y2="495.3" stroke="#555" stroke-width="0.9"/>
<text x="626.60" y="504.10" font-size="10.8" text-anchor="middle" font-weight="normal" fill="#111">40</text>
<line x1="677.3" y1="493.0" x2="677.3" y2="495.3" stroke="#555" stroke-width="0.9"/>
<text x="677.30" y="504.10" font-size="10.8" text-anchor="middle" font-weight="normal" fill="#111">60</text>
<line x1="485.2" y1="372.7" x2="487.0" y2="372.7" stroke="#555" stroke-width="0.9"/>
<text x="484.70" y="376.70" font-size="10.8" text-anchor="end" font-weight="normal" fill="#111">30</text>
<line x1="485.2" y1="410.6" x2="487.0" y2="410.6" stroke="#555" stroke-width="0.9"/>
<text x="484.70" y="414.60" font-size="10.8" text-anchor="end" font-weight="normal" fill="#111">20</text>
<line x1="485.2" y1="448.4" x2="487.0" y2="448.4" stroke="#555" stroke-width="0.9"/>
<text x="484.70" y="452.40" font-size="10.8" text-anchor="end" font-weight="normal" fill="#111">10</text>
<line x1="485.2" y1="486.2" x2="487.0" y2="486.2" stroke="#555" stroke-width="0.9"/>
<text x="484.70" y="490.20" font-size="10.8" text-anchor="end" font-weight="normal" fill="#111">0</text>
<text x="585.50" y="515.70" font-size="10.8" text-anchor="middle" font-weight="normal" fill="#000">WSTN Loss (%)</text>
<text x="468.30" y="421.50" font-size="10.8" text-anchor="middle" font-weight="normal" fill="#000" transform="rotate(-90 468.30 421.50)">Mass Loss (%)</text>
<svg x="487.5" y="350.5" width="196.0" height="142.0" viewBox="487.5 350.5 196.0 142.0" overflow="hidden">
<circle cx="584.20" cy="405.70" r="3.95" fill="#48a1b6"/>
<circle cx="496.50" cy="480.10" r="3.95" fill="#f02400"/>
<circle cx="501.60" cy="476.90" r="3.95" fill="#e6c92c"/>
<circle cx="503.10" cy="485.70" r="3.95" fill="#e2b40a"/>
<circle cx="513.00" cy="466.70" r="3.95" fill="#78b7c5"/>
<circle cx="518.80" cy="475.50" r="3.95" fill="#aac07e"/>
<circle cx="513.30" cy="480.60" r="3.95" fill="#e2b40a"/>
<circle cx="517.70" cy="479.60" r="3.95" fill="#e6c92c"/>
<circle cx="527.60" cy="481.30" r="3.95" fill="#f02400"/>
<circle cx="528.20" cy="457.20" r="3.95" fill="#48a1b6"/>
<circle cx="537.40" cy="460.90" r="3.95" fill="#e48d0c"/>
<circle cx="531.50" cy="464.50" r="3.95" fill="#e6c92c"/>
<circle cx="532.30" cy="469.60" r="3.95" fill="#e2b40a"/>
<circle cx="527.90" cy="471.10" r="3.95" fill="#48a1b6"/>
<circle cx="529.30" cy="474.70" r="3.95" fill="#e2b40a"/>
<circle cx="535.20" cy="471.10" r="3.95" fill="#e2b40a"/>
<circle cx="536.60" cy="474.00" r="3.95" fill="#f02400"/>
<circle cx="538.10" cy="471.10" r="3.95" fill="#f02400"/>
<circle cx="541.70" cy="468.90" r="3.95" fill="#e6c92c"/>
<circle cx="541.00" cy="478.40" r="3.95" fill="#e6c92c"/>
<circle cx="542.50" cy="481.30" r="3.95" fill="#e2b40a"/>
<circle cx="541.00" cy="484.20" r="3.95" fill="#e48d0c"/>
<circle cx="546.90" cy="478.40" r="3.95" fill="#e6c92c"/>
<circle cx="545.40" cy="469.60" r="3.95" fill="#48a1b6"/>
<circle cx="549.50" cy="460.90" r="3.95" fill="#f02400"/>
<circle cx="551.20" cy="468.20" r="3.95" fill="#e2b40a"/>
<circle cx="552.00" cy="474.00" r="3.95" fill="#78b7c5"/>
<circle cx="555.30" cy="429.50" r="3.95" fill="#48a1b6"/>
<circle cx="565.10" cy="448.50" r="3.95" fill="#78b7c5"/>
<circle cx="557.80" cy="459.40" r="3.95" fill="#e48d0c"/>
<circle cx="557.10" cy="466.70" r="3.95" fill="#e6c92c"/>
<circle cx="559.30" cy="469.60" r="3.95" fill="#48a1b6"/>
<circle cx="554.20" cy="476.20" r="3.95" fill="#e2b40a"/>
<circle cx="558.50" cy="479.90" r="3.95" fill="#e2b40a"/>
<circle cx="554.20" cy="482.80" r="3.95" fill="#e2b40a"/>
<circle cx="565.80" cy="472.60" r="3.95" fill="#f02400"/>
<circle cx="565.80" cy="476.90" r="3.95" fill="#f02400"/>
<circle cx="565.10" cy="484.20" r="3.95" fill="#f02400"/>
<circle cx="564.40" cy="463.80" r="3.95" fill="#e6c92c"/>
<circle cx="570.20" cy="466.70" r="3.95" fill="#e6c92c"/>
<circle cx="571.70" cy="475.50" r="3.95" fill="#e6c92c"/>
<circle cx="573.10" cy="485.00" r="3.95" fill="#e6c92c"/>
<circle cx="579.70" cy="482.00" r="3.95" fill="#e6c92c"/>
<circle cx="575.30" cy="476.90" r="3.95" fill="#f02400"/>
<circle cx="577.50" cy="462.30" r="3.95" fill="#f02400"/>
<circle cx="580.40" cy="455.80" r="3.95" fill="#48a1b6"/>
<circle cx="581.90" cy="466.70" r="3.95" fill="#48a1b6"/>
<circle cx="584.80" cy="450.70" r="3.95" fill="#48a1b6"/>
<circle cx="584.10" cy="469.60" r="3.95" fill="#e2b40a"/>
<circle cx="574.60" cy="458.00" r="3.95" fill="#e6c92c"/>
<circle cx="531.40" cy="464.90" r="3.95" fill="#e6c92c"/>
<circle cx="541.90" cy="466.00" r="3.95" fill="#e6c92c"/>
<circle cx="545.40" cy="468.90" r="3.95" fill="#48a1b6"/>
<circle cx="527.30" cy="470.70" r="3.95" fill="#48a1b6"/>
<circle cx="537.20" cy="472.40" r="3.95" fill="#f02400"/>
<circle cx="539.50" cy="470.10" r="3.95" fill="#e6c92c"/>
<circle cx="529.00" cy="474.80" r="3.95" fill="#e2b40a"/>
<circle cx="519.10" cy="474.80" r="3.95" fill="#aac07e"/>
<circle cx="552.40" cy="473.00" r="3.95" fill="#78b7c5"/>
<circle cx="557.60" cy="466.60" r="3.95" fill="#e6c92c"/>
<circle cx="552.40" cy="467.80" r="3.95" fill="#e2b40a"/>
<circle cx="561.10" cy="467.20" r="3.95" fill="#e6c92c"/>
<circle cx="559.40" cy="471.30" r="3.95" fill="#48a1b6"/>
<circle cx="566.40" cy="472.40" r="3.95" fill="#f02400"/>
<circle cx="565.20" cy="476.00" r="3.95" fill="#f02400"/>
<circle cx="569.90" cy="468.40" r="3.95" fill="#e6c92c"/>
<circle cx="582.20" cy="467.20" r="3.95" fill="#48a1b6"/>
<circle cx="587.40" cy="463.70" r="3.95" fill="#e6c92c"/>
<circle cx="589.70" cy="468.40" r="3.95" fill="#e6c92c"/>
<circle cx="593.80" cy="465.40" r="3.95" fill="#e6c92c"/>
<circle cx="581.60" cy="471.90" r="3.95" fill="#e2b40a"/>
<circle cx="527.80" cy="481.20" r="3.95" fill="#f02400"/>
<circle cx="546.50" cy="478.90" r="3.95" fill="#e6c92c"/>
<circle cx="553.50" cy="482.40" r="3.95" fill="#e6c92c"/>
<circle cx="561.70" cy="480.60" r="3.95" fill="#e6c92c"/>
<circle cx="540.70" cy="483.50" r="3.95" fill="#e2b40a"/>
<circle cx="541.90" cy="485.30" r="3.95" fill="#e2b40a"/>
<circle cx="558.20" cy="480.00" r="3.95" fill="#e2b40a"/>
<circle cx="555.90" cy="476.50" r="3.95" fill="#f02400"/>
<circle cx="569.90" cy="477.70" r="3.95" fill="#e6c92c"/>
<circle cx="573.40" cy="475.40" r="3.95" fill="#e6c92c"/>
<circle cx="572.20" cy="485.90" r="3.95" fill="#e6c92c"/>
<circle cx="579.20" cy="482.40" r="3.95" fill="#e6c92c"/>
<circle cx="568.70" cy="483.50" r="3.95" fill="#e6c92c"/>
<circle cx="565.20" cy="484.70" r="3.95" fill="#f02400"/>
<circle cx="594.40" cy="471.90" r="3.95" fill="#f02400"/>
<circle cx="585.70" cy="450.30" r="3.95" fill="#48a1b6"/>
<circle cx="580.40" cy="456.10" r="3.95" fill="#48a1b6"/>
<circle cx="585.10" cy="457.80" r="3.95" fill="#aac07e"/>
<circle cx="578.70" cy="462.50" r="3.95" fill="#f02400"/>
<circle cx="556.50" cy="459.00" r="3.95" fill="#e48d0c"/>
<circle cx="601.40" cy="431.00" r="3.95" fill="#78b7c5"/>
<circle cx="612.70" cy="440.40" r="3.95" fill="#48a1b6"/>
<circle cx="586.50" cy="449.90" r="3.95" fill="#48a1b6"/>
<circle cx="596.00" cy="454.30" r="3.95" fill="#e6c92c"/>
<circle cx="587.20" cy="458.00" r="3.95" fill="#aac07e"/>
<circle cx="587.20" cy="463.80" r="3.95" fill="#e6c92c"/>
<circle cx="591.60" cy="464.50" r="3.95" fill="#e6c92c"/>
<circle cx="588.60" cy="470.40" r="3.95" fill="#e6c92c"/>
<circle cx="595.20" cy="464.50" r="3.95" fill="#f02400"/>
<circle cx="596.00" cy="471.80" r="3.95" fill="#f02400"/>
<circle cx="601.40" cy="464.50" r="3.95" fill="#aac07e"/>
<circle cx="605.10" cy="466.70" r="3.95" fill="#78b7c5"/>
<circle cx="604.70" cy="473.70" r="3.95" fill="#f02400"/>
<circle cx="593.00" cy="479.10" r="3.95" fill="#f02400"/>
<circle cx="593.80" cy="482.50" r="3.95" fill="#aac07e"/>
<circle cx="632.00" cy="465.50" r="3.95" fill="#f02400"/>
<circle cx="622.60" cy="420.80" r="3.95" fill="#48a1b6"/>
<circle cx="601.90" cy="430.90" r="3.95" fill="#78b7c5"/>
<circle cx="638.30" cy="384.40" r="3.95" fill="#48a1b6"/>
<polygon points="560.50,453.60 555.80,461.90 565.20,461.90" fill="#48a1b6"/>
<polygon points="569.30,452.50 564.60,460.80 574.00,460.80" fill="#e6c92c"/>
<polygon points="574.60,465.40 569.90,473.70 579.30,473.70" fill="#aac07e"/>
<polygon points="575.70,467.70 571.00,476.00 580.40,476.00" fill="#48a1b6"/>
<polygon points="608.30,363.50 603.60,371.80 613.00,371.80" fill="#e6c92c"/>
<polygon points="612.40,357.90 607.70,366.20 617.10,366.20" fill="#48a1b6"/>
<polygon points="633.20,350.10 628.50,358.40 637.90,358.40" fill="#e6c92c"/>
<polygon points="637.70,383.40 633.00,391.70 642.40,391.70" fill="#78b7c5"/>
<polygon points="623.90,384.60 619.20,392.90 628.60,392.90" fill="#aac07e"/>
<polygon points="658.40,385.30 653.70,393.60 663.10,393.60" fill="#e6c92c"/>
<polygon points="634.50,390.30 629.80,398.60 639.20,398.60" fill="#48a1b6"/>
<polygon points="623.20,403.50 618.50,411.80 627.90,411.80" fill="#48a1b6"/>
<polygon points="626.40,402.80 621.70,411.10 631.10,411.10" fill="#48a1b6"/>
<polygon points="619.50,409.70 614.80,418.00 624.20,418.00" fill="#e2b40a"/>
<polygon points="623.90,408.50 619.20,416.80 628.60,416.80" fill="#f02400"/>
<polygon points="635.20,416.00 630.50,424.30 639.90,424.30" fill="#e6c92c"/>
<polygon points="638.90,412.90 634.20,421.20 643.60,421.20" fill="#48a1b6"/>
<polygon points="641.40,415.40 636.70,423.70 646.10,423.70" fill="#e48d0c"/>
<polygon points="638.90,424.80 634.20,433.10 643.60,433.10" fill="#48a1b6"/>
<polygon points="628.80,428.20 624.10,436.50 633.50,436.50" fill="#f02400"/>
<polygon points="628.20,426.70 623.50,435.00 632.90,435.00" fill="#e6c92c"/>
<polygon points="674.70,427.30 670.00,435.60 679.40,435.60" fill="#48a1b6"/>
<polygon points="593.00,419.30 588.30,427.60 597.70,427.60" fill="#e2b40a"/>
<polygon points="601.10,434.80 596.40,443.10 605.80,443.10" fill="#e48d0c"/>
<polygon points="660.20,439.90 655.50,448.20 664.90,448.20" fill="#48a1b6"/>
<polyline points="496.5,480.1 508.9,480.1 523.5,478.4 538.1,474.7 552.7,469.6 567.3,463.8 577.5,459.4 587,455 599.6,447.7 612.7,438.2 617.6,434.7 625.9,428.8 637.7,417.7 652.7,401.4 674.7,378.8" fill="none" stroke="#3366ff" stroke-width="1.4" stroke-linejoin="round"/><text x="496.9" y="363.6" font-size="7.6" fill="#111">Agaricomycetes</text><circle cx="501.6" cy="373.1" r="4.1" fill="#000"/><polygon points="501.6,378.6 496.8,386.9 506.4,386.9" fill="#000"/><text x="511.1" y="375.3" font-size="7" fill="#111">Absence</text><text x="511.1" y="386.2" font-size="7" fill="#111">Presence</text>
</svg>
<text x="680.80" y="361.80" font-size="9.0" text-anchor="end" font-weight="normal" fill="#000">Rho = 0.61 ***</text>
<line x1="487.5" y1="350.0" x2="487.5" y2="493.0" stroke="#777777" stroke-width="1"/>
<line x1="683.5" y1="350.0" x2="683.5" y2="493.0" stroke="#777777" stroke-width="1"/>
<line x1="487.0" y1="350.5" x2="684.0" y2="350.5" stroke="#999999" stroke-width="1"/>
<line x1="487.0" y1="492.5" x2="684.0" y2="492.5" stroke="#777777" stroke-width="1"/>
</svg></body></html>
